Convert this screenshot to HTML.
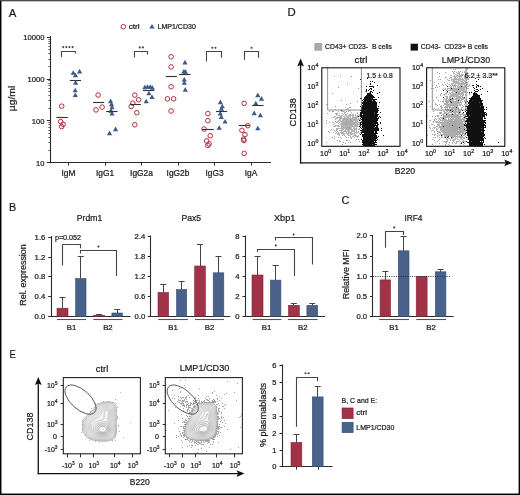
<!DOCTYPE html>
<html><head><meta charset="utf-8"><style>
html,body{margin:0;padding:0;background:#fff;}
svg{display:block;will-change:transform;}
text{font-family:"Liberation Sans", sans-serif;stroke:#1a1a1a;stroke-width:0.22px;}
</style></head><body>
<svg width="520" height="495" viewBox="0 0 520 495">
<rect x="0" y="0" width="520" height="495" fill="#fff"/>
<text x="8.80" y="16.60" font-size="11.6" text-anchor="start" fill="#1a1a1a" textLength="7.6" lengthAdjust="spacingAndGlyphs" >A</text>
<circle cx="123.3" cy="26.7" r="2.3" fill="none" stroke="#b03040" stroke-width="1"/>
<text x="128.70" y="29.30" font-size="7.5" text-anchor="start" fill="#1a1a1a" textLength="11" lengthAdjust="spacingAndGlyphs" >ctrl</text>
<path d="M152.00,23.89 L154.60,28.57 L149.40,28.57Z" fill="#3d5a88"/>
<text x="157.50" y="29.30" font-size="7.5" text-anchor="start" fill="#1a1a1a" textLength="38.3" lengthAdjust="spacingAndGlyphs" >LMP1/CD30</text>
<line x1="50.50" y1="36.00" x2="50.50" y2="163.30" stroke="#2a2a2a" stroke-width="1.1" />
<line x1="46.80" y1="162.50" x2="50.00" y2="162.50" stroke="#2a2a2a" stroke-width="1" />
<text x="44.40" y="165.55" font-size="7.6" text-anchor="end" fill="#1a1a1a" >10</text>
<line x1="46.80" y1="120.50" x2="50.00" y2="120.50" stroke="#2a2a2a" stroke-width="1" />
<text x="44.40" y="123.65" font-size="7.6" text-anchor="end" fill="#1a1a1a" >100</text>
<line x1="46.80" y1="79.50" x2="50.00" y2="79.50" stroke="#2a2a2a" stroke-width="1" />
<text x="44.40" y="81.75" font-size="7.6" text-anchor="end" fill="#1a1a1a" >1000</text>
<line x1="46.80" y1="37.50" x2="50.00" y2="37.50" stroke="#2a2a2a" stroke-width="1" />
<text x="44.40" y="39.85" font-size="7.6" text-anchor="end" fill="#1a1a1a" >10000</text>
<line x1="48.30" y1="150.50" x2="50.00" y2="150.50" stroke="#2a2a2a" stroke-width="0.7" />
<line x1="48.30" y1="142.50" x2="50.00" y2="142.50" stroke="#2a2a2a" stroke-width="0.7" />
<line x1="48.30" y1="137.50" x2="50.00" y2="137.50" stroke="#2a2a2a" stroke-width="0.7" />
<line x1="48.30" y1="133.50" x2="50.00" y2="133.50" stroke="#2a2a2a" stroke-width="0.7" />
<line x1="48.30" y1="130.50" x2="50.00" y2="130.50" stroke="#2a2a2a" stroke-width="0.7" />
<line x1="48.30" y1="127.50" x2="50.00" y2="127.50" stroke="#2a2a2a" stroke-width="0.7" />
<line x1="48.30" y1="124.50" x2="50.00" y2="124.50" stroke="#2a2a2a" stroke-width="0.7" />
<line x1="48.30" y1="122.50" x2="50.00" y2="122.50" stroke="#2a2a2a" stroke-width="0.7" />
<line x1="48.30" y1="108.50" x2="50.00" y2="108.50" stroke="#2a2a2a" stroke-width="0.7" />
<line x1="48.30" y1="100.50" x2="50.00" y2="100.50" stroke="#2a2a2a" stroke-width="0.7" />
<line x1="48.30" y1="95.50" x2="50.00" y2="95.50" stroke="#2a2a2a" stroke-width="0.7" />
<line x1="48.30" y1="91.50" x2="50.00" y2="91.50" stroke="#2a2a2a" stroke-width="0.7" />
<line x1="48.30" y1="88.50" x2="50.00" y2="88.50" stroke="#2a2a2a" stroke-width="0.7" />
<line x1="48.30" y1="85.50" x2="50.00" y2="85.50" stroke="#2a2a2a" stroke-width="0.7" />
<line x1="48.30" y1="83.50" x2="50.00" y2="83.50" stroke="#2a2a2a" stroke-width="0.7" />
<line x1="48.30" y1="80.50" x2="50.00" y2="80.50" stroke="#2a2a2a" stroke-width="0.7" />
<line x1="48.30" y1="66.50" x2="50.00" y2="66.50" stroke="#2a2a2a" stroke-width="0.7" />
<line x1="48.30" y1="59.50" x2="50.00" y2="59.50" stroke="#2a2a2a" stroke-width="0.7" />
<line x1="48.30" y1="53.50" x2="50.00" y2="53.50" stroke="#2a2a2a" stroke-width="0.7" />
<line x1="48.30" y1="49.50" x2="50.00" y2="49.50" stroke="#2a2a2a" stroke-width="0.7" />
<line x1="48.30" y1="46.50" x2="50.00" y2="46.50" stroke="#2a2a2a" stroke-width="0.7" />
<line x1="48.30" y1="43.50" x2="50.00" y2="43.50" stroke="#2a2a2a" stroke-width="0.7" />
<line x1="48.30" y1="41.50" x2="50.00" y2="41.50" stroke="#2a2a2a" stroke-width="0.7" />
<line x1="48.30" y1="39.50" x2="50.00" y2="39.50" stroke="#2a2a2a" stroke-width="0.7" />
<text x="0" y="0" font-size="8.8" text-anchor="middle" fill="#1a1a1a" textLength="25.4" lengthAdjust="spacingAndGlyphs" transform="translate(15.30,98.50) rotate(-90)">&#181;g/ml</text>
<line x1="49.50" y1="162.50" x2="271.00" y2="162.50" stroke="#2a2a2a" stroke-width="1.1" />
<line x1="68.50" y1="162.80" x2="68.50" y2="165.60" stroke="#2a2a2a" stroke-width="1" />
<text x="68.50" y="176.20" font-size="8.4" text-anchor="middle" fill="#1a1a1a" >IgM</text>
<line x1="105.50" y1="162.80" x2="105.50" y2="165.60" stroke="#2a2a2a" stroke-width="1" />
<text x="105.00" y="176.20" font-size="8.4" text-anchor="middle" fill="#1a1a1a" >IgG1</text>
<line x1="141.50" y1="162.80" x2="141.50" y2="165.60" stroke="#2a2a2a" stroke-width="1" />
<text x="141.50" y="176.20" font-size="8.4" text-anchor="middle" fill="#1a1a1a" >IgG2a</text>
<line x1="178.50" y1="162.80" x2="178.50" y2="165.60" stroke="#2a2a2a" stroke-width="1" />
<text x="178.00" y="176.20" font-size="8.4" text-anchor="middle" fill="#1a1a1a" >IgG2b</text>
<line x1="214.50" y1="162.80" x2="214.50" y2="165.60" stroke="#2a2a2a" stroke-width="1" />
<text x="214.50" y="176.20" font-size="8.4" text-anchor="middle" fill="#1a1a1a" >IgG3</text>
<line x1="251.50" y1="162.80" x2="251.50" y2="165.60" stroke="#2a2a2a" stroke-width="1" />
<text x="251.00" y="176.20" font-size="8.4" text-anchor="middle" fill="#1a1a1a" >IgA</text>
<circle cx="61.7" cy="106.2" r="2.3" fill="none" stroke="#b03040" stroke-width="1"/>
<circle cx="60.7" cy="121.6" r="2.3" fill="none" stroke="#b03040" stroke-width="1"/>
<circle cx="63.1" cy="124.3" r="2.3" fill="none" stroke="#b03040" stroke-width="1"/>
<circle cx="61.7" cy="126.6" r="2.3" fill="none" stroke="#b03040" stroke-width="1"/>
<circle cx="98.1" cy="95" r="2.3" fill="none" stroke="#b03040" stroke-width="1"/>
<circle cx="96" cy="109.9" r="2.3" fill="none" stroke="#b03040" stroke-width="1"/>
<circle cx="102.1" cy="107.1" r="2.3" fill="none" stroke="#b03040" stroke-width="1"/>
<circle cx="134.8" cy="95.1" r="2.3" fill="none" stroke="#b03040" stroke-width="1"/>
<circle cx="138.6" cy="99.8" r="2.3" fill="none" stroke="#b03040" stroke-width="1"/>
<circle cx="132.8" cy="103.1" r="2.3" fill="none" stroke="#b03040" stroke-width="1"/>
<circle cx="131.2" cy="106.5" r="2.3" fill="none" stroke="#b03040" stroke-width="1"/>
<circle cx="136.8" cy="112.7" r="2.3" fill="none" stroke="#b03040" stroke-width="1"/>
<circle cx="134.8" cy="124.8" r="2.3" fill="none" stroke="#b03040" stroke-width="1"/>
<circle cx="171.1" cy="56.8" r="2.3" fill="none" stroke="#b03040" stroke-width="1"/>
<circle cx="171.1" cy="66.9" r="2.3" fill="none" stroke="#b03040" stroke-width="1"/>
<circle cx="171.1" cy="86.8" r="2.3" fill="none" stroke="#b03040" stroke-width="1"/>
<circle cx="167.4" cy="98.8" r="2.3" fill="none" stroke="#b03040" stroke-width="1"/>
<circle cx="173.6" cy="98.8" r="2.3" fill="none" stroke="#b03040" stroke-width="1"/>
<circle cx="171.1" cy="111" r="2.3" fill="none" stroke="#b03040" stroke-width="1"/>
<circle cx="207.9" cy="113.6" r="2.3" fill="none" stroke="#b03040" stroke-width="1"/>
<circle cx="207.9" cy="120.7" r="2.3" fill="none" stroke="#b03040" stroke-width="1"/>
<circle cx="204.1" cy="129" r="2.3" fill="none" stroke="#b03040" stroke-width="1"/>
<circle cx="210.2" cy="135.8" r="2.3" fill="none" stroke="#b03040" stroke-width="1"/>
<circle cx="206.6" cy="140.9" r="2.3" fill="none" stroke="#b03040" stroke-width="1"/>
<circle cx="209.1" cy="143.9" r="2.3" fill="none" stroke="#b03040" stroke-width="1"/>
<circle cx="207.9" cy="145.4" r="2.3" fill="none" stroke="#b03040" stroke-width="1"/>
<circle cx="244.2" cy="103.4" r="2.3" fill="none" stroke="#b03040" stroke-width="1"/>
<circle cx="247.8" cy="125.7" r="2.3" fill="none" stroke="#b03040" stroke-width="1"/>
<circle cx="241.9" cy="130.3" r="2.3" fill="none" stroke="#b03040" stroke-width="1"/>
<circle cx="245" cy="134.6" r="2.3" fill="none" stroke="#b03040" stroke-width="1"/>
<circle cx="243.5" cy="139.2" r="2.3" fill="none" stroke="#b03040" stroke-width="1"/>
<circle cx="244" cy="140.5" r="2.3" fill="none" stroke="#b03040" stroke-width="1"/>
<circle cx="244.2" cy="153.4" r="2.3" fill="none" stroke="#b03040" stroke-width="1"/>
<path d="M73.20,70.19 L75.80,74.87 L70.60,74.87Z" fill="#3d5a88"/>
<path d="M79.60,68.79 L82.20,73.47 L77.00,73.47Z" fill="#3d5a88"/>
<path d="M75.50,72.69 L78.10,77.37 L72.90,77.37Z" fill="#3d5a88"/>
<path d="M75.60,79.99 L78.20,84.67 L73.00,84.67Z" fill="#3d5a88"/>
<path d="M75.20,87.69 L77.80,92.37 L72.60,92.37Z" fill="#3d5a88"/>
<path d="M75.30,92.39 L77.90,97.07 L72.70,97.07Z" fill="#3d5a88"/>
<path d="M110.60,98.59 L113.20,103.27 L108.00,103.27Z" fill="#3d5a88"/>
<path d="M111.50,101.69 L114.10,106.37 L108.90,106.37Z" fill="#3d5a88"/>
<path d="M112.00,104.69 L114.60,109.37 L109.40,109.37Z" fill="#3d5a88"/>
<path d="M111.00,108.09 L113.60,112.77 L108.40,112.77Z" fill="#3d5a88"/>
<path d="M112.00,110.79 L114.60,115.47 L109.40,115.47Z" fill="#3d5a88"/>
<path d="M115.60,126.49 L118.20,131.17 L113.00,131.17Z" fill="#3d5a88"/>
<path d="M109.50,130.49 L112.10,135.17 L106.90,135.17Z" fill="#3d5a88"/>
<path d="M144.90,84.59 L147.50,89.27 L142.30,89.27Z" fill="#3d5a88"/>
<path d="M147.60,84.19 L150.20,88.87 L145.00,88.87Z" fill="#3d5a88"/>
<path d="M150.30,84.19 L152.90,88.87 L147.70,88.87Z" fill="#3d5a88"/>
<path d="M152.30,84.99 L154.90,89.67 L149.70,89.67Z" fill="#3d5a88"/>
<path d="M148.90,90.69 L151.50,95.37 L146.30,95.37Z" fill="#3d5a88"/>
<path d="M152.00,94.39 L154.60,99.07 L149.40,99.07Z" fill="#3d5a88"/>
<path d="M146.20,98.69 L148.80,103.37 L143.60,103.37Z" fill="#3d5a88"/>
<path d="M185.00,59.79 L187.60,64.47 L182.40,64.47Z" fill="#3d5a88"/>
<path d="M183.90,68.79 L186.50,73.47 L181.30,73.47Z" fill="#3d5a88"/>
<path d="M185.50,69.19 L188.10,73.87 L182.90,73.87Z" fill="#3d5a88"/>
<path d="M184.30,76.89 L186.90,81.57 L181.70,81.57Z" fill="#3d5a88"/>
<path d="M184.30,80.19 L186.90,84.87 L181.70,84.87Z" fill="#3d5a88"/>
<path d="M185.30,86.99 L187.90,91.67 L182.70,91.67Z" fill="#3d5a88"/>
<path d="M220.40,99.49 L223.00,104.17 L217.80,104.17Z" fill="#3d5a88"/>
<path d="M222.30,103.69 L224.90,108.37 L219.70,108.37Z" fill="#3d5a88"/>
<path d="M221.50,106.19 L224.10,110.87 L218.90,110.87Z" fill="#3d5a88"/>
<path d="M220.30,110.79 L222.90,115.47 L217.70,115.47Z" fill="#3d5a88"/>
<path d="M221.30,114.29 L223.90,118.97 L218.70,118.97Z" fill="#3d5a88"/>
<path d="M225.10,118.89 L227.70,123.57 L222.50,123.57Z" fill="#3d5a88"/>
<path d="M219.20,125.19 L221.80,129.87 L216.60,129.87Z" fill="#3d5a88"/>
<path d="M257.80,92.59 L260.40,97.27 L255.20,97.27Z" fill="#3d5a88"/>
<path d="M261.50,96.09 L264.10,100.77 L258.90,100.77Z" fill="#3d5a88"/>
<path d="M255.80,100.69 L258.40,105.37 L253.20,105.37Z" fill="#3d5a88"/>
<path d="M254.20,110.59 L256.80,115.27 L251.60,115.27Z" fill="#3d5a88"/>
<path d="M260.40,112.59 L263.00,117.27 L257.80,117.27Z" fill="#3d5a88"/>
<path d="M257.80,125.69 L260.40,130.37 L255.20,130.37Z" fill="#3d5a88"/>
<line x1="56.30" y1="117.50" x2="67.80" y2="117.50" stroke="#333" stroke-width="1.1" />
<line x1="93.00" y1="102.50" x2="104.10" y2="102.50" stroke="#333" stroke-width="1.1" />
<line x1="130.10" y1="104.50" x2="140.90" y2="104.50" stroke="#333" stroke-width="1.1" />
<line x1="165.80" y1="76.50" x2="176.90" y2="76.50" stroke="#333" stroke-width="1.1" />
<line x1="202.10" y1="129.50" x2="213.70" y2="129.50" stroke="#333" stroke-width="1.1" />
<line x1="238.80" y1="125.50" x2="249.60" y2="125.50" stroke="#333" stroke-width="1.1" />
<line x1="69.80" y1="80.50" x2="81.00" y2="80.50" stroke="#333" stroke-width="1.1" />
<line x1="106.10" y1="111.50" x2="117.60" y2="111.50" stroke="#333" stroke-width="1.1" />
<line x1="142.90" y1="90.50" x2="154.30" y2="90.50" stroke="#333" stroke-width="1.1" />
<line x1="179.20" y1="74.50" x2="190.50" y2="74.50" stroke="#333" stroke-width="1.1" />
<line x1="216.00" y1="111.50" x2="227.10" y2="111.50" stroke="#333" stroke-width="1.1" />
<line x1="252.20" y1="105.50" x2="263.50" y2="105.50" stroke="#333" stroke-width="1.1" />
<path d="M61.5,56.9 V51.5 H75.5 V53.6" stroke="#444" stroke-width="1.1" fill="none" />
<circle cx="63.18" cy="47.1" r="1.05" fill="#444"/>
<circle cx="66.33" cy="47.1" r="1.05" fill="#444"/>
<circle cx="69.48" cy="47.1" r="1.05" fill="#444"/>
<circle cx="72.62" cy="47.1" r="1.05" fill="#444"/>
<path d="M134.5,57.5 V51.5 H147.5 V54.5" stroke="#444" stroke-width="1.1" fill="none" />
<circle cx="139.73" cy="47.4" r="1.05" fill="#444"/>
<circle cx="142.88" cy="47.4" r="1.05" fill="#444"/>
<path d="M206.5,61.5 V51.5 H221.5 V57.7" stroke="#444" stroke-width="1.1" fill="none" />
<circle cx="212.33" cy="47.7" r="1.05" fill="#444"/>
<circle cx="215.48" cy="47.7" r="1.05" fill="#444"/>
<path d="M244.5,59.7 V51.5 H258.5 V57.7" stroke="#444" stroke-width="1.1" fill="none" />
<circle cx="251.60" cy="47.7" r="1.05" fill="#444"/>
<text x="9.00" y="211.20" font-size="11.6" text-anchor="start" fill="#1a1a1a" textLength="7.2" lengthAdjust="spacingAndGlyphs" >B</text>
<text x="89.50" y="220.50" font-size="8.6" text-anchor="middle" fill="#1a1a1a" >Prdm1</text>
<line x1="51.50" y1="236.10" x2="51.50" y2="316.80" stroke="#2a2a2a" stroke-width="1.1" />
<line x1="48.20" y1="316.50" x2="51.20" y2="316.50" stroke="#2a2a2a" stroke-width="1" />
<text x="45.30" y="318.90" font-size="7.7" text-anchor="end" fill="#1a1a1a" >0.0</text>
<line x1="48.20" y1="296.50" x2="51.20" y2="296.50" stroke="#2a2a2a" stroke-width="1" />
<text x="45.30" y="299.10" font-size="7.7" text-anchor="end" fill="#1a1a1a" >0.4</text>
<line x1="48.20" y1="276.50" x2="51.20" y2="276.50" stroke="#2a2a2a" stroke-width="1" />
<text x="45.30" y="279.40" font-size="7.7" text-anchor="end" fill="#1a1a1a" >0.8</text>
<line x1="48.20" y1="257.50" x2="51.20" y2="257.50" stroke="#2a2a2a" stroke-width="1" />
<text x="45.30" y="259.60" font-size="7.7" text-anchor="end" fill="#1a1a1a" >1.2</text>
<line x1="48.20" y1="237.50" x2="51.20" y2="237.50" stroke="#2a2a2a" stroke-width="1" />
<text x="45.30" y="239.80" font-size="7.7" text-anchor="end" fill="#1a1a1a" >1.6</text>
<line x1="50.70" y1="316.50" x2="130.50" y2="316.50" stroke="#2a2a2a" stroke-width="1.2" />
<rect x="57.00" y="308.20" width="11.00" height="8.10" fill="#a03348" stroke="#8a1f36" stroke-width="0.6"/>
<line x1="62.50" y1="308.20" x2="62.50" y2="297.50" stroke="#444" stroke-width="1" />
<line x1="59.50" y1="297.50" x2="65.50" y2="297.50" stroke="#444" stroke-width="1" />
<rect x="75.60" y="278.50" width="10.40" height="37.80" fill="#4a6289" stroke="#334d78" stroke-width="0.6"/>
<line x1="80.50" y1="278.50" x2="80.50" y2="256.80" stroke="#444" stroke-width="1" />
<line x1="77.80" y1="256.50" x2="83.80" y2="256.50" stroke="#444" stroke-width="1" />
<rect x="93.60" y="315.30" width="11.00" height="1.00" fill="#a03348" stroke="#8a1f36" stroke-width="0.6"/>
<line x1="99.50" y1="315.30" x2="99.50" y2="314.30" stroke="#444" stroke-width="1" />
<line x1="96.10" y1="314.50" x2="102.10" y2="314.50" stroke="#444" stroke-width="1" />
<rect x="111.90" y="313.00" width="10.70" height="3.30" fill="#4a6289" stroke="#334d78" stroke-width="0.6"/>
<line x1="117.50" y1="313.00" x2="117.50" y2="309.60" stroke="#444" stroke-width="1" />
<line x1="114.30" y1="309.50" x2="120.30" y2="309.50" stroke="#444" stroke-width="1" />
<line x1="57.00" y1="319.50" x2="86.20" y2="319.50" stroke="#555" stroke-width="1.1" />
<line x1="93.40" y1="319.50" x2="122.50" y2="319.50" stroke="#555" stroke-width="1.1" />
<text x="71.60" y="329.60" font-size="7.8" text-anchor="middle" fill="#1a1a1a" >B1</text>
<text x="107.90" y="329.60" font-size="7.8" text-anchor="middle" fill="#1a1a1a" >B2</text>
<text x="0" y="0" font-size="8.4" text-anchor="middle" fill="#1a1a1a" textLength="61.6" lengthAdjust="spacingAndGlyphs" transform="translate(26.10,275.00) rotate(-90)">Rel. expression</text>
<path d="M62.5,265.4 V244.5 H80.5 V248.2" stroke="#444" stroke-width="1.1" fill="none" />
<text x="54.90" y="239.70" font-size="7.4" text-anchor="start" fill="#1a1a1a" textLength="26.2" lengthAdjust="spacingAndGlyphs" >p=0.052</text>
<path d="M80.5,253.6 V250.5 H116.5 V276" stroke="#444" stroke-width="1.1" fill="none" />
<circle cx="98.50" cy="246.6" r="1.05" fill="#444"/>
<text x="191.30" y="221.20" font-size="8.6" text-anchor="middle" fill="#1a1a1a" >Pax5</text>
<line x1="150.50" y1="235.50" x2="150.50" y2="316.80" stroke="#2a2a2a" stroke-width="1.1" />
<line x1="147.70" y1="316.50" x2="150.70" y2="316.50" stroke="#2a2a2a" stroke-width="1" />
<text x="145.30" y="318.60" font-size="7.7" text-anchor="end" fill="#1a1a1a" >0.0</text>
<line x1="147.70" y1="296.50" x2="150.70" y2="296.50" stroke="#2a2a2a" stroke-width="1" />
<text x="145.30" y="298.70" font-size="7.7" text-anchor="end" fill="#1a1a1a" >0.6</text>
<line x1="147.70" y1="276.50" x2="150.70" y2="276.50" stroke="#2a2a2a" stroke-width="1" />
<text x="145.30" y="278.80" font-size="7.7" text-anchor="end" fill="#1a1a1a" >1.2</text>
<line x1="147.70" y1="256.50" x2="150.70" y2="256.50" stroke="#2a2a2a" stroke-width="1" />
<text x="145.30" y="258.90" font-size="7.7" text-anchor="end" fill="#1a1a1a" >1.8</text>
<line x1="147.70" y1="236.50" x2="150.70" y2="236.50" stroke="#2a2a2a" stroke-width="1" />
<text x="145.30" y="238.90" font-size="7.7" text-anchor="end" fill="#1a1a1a" >2.4</text>
<line x1="150.70" y1="316.50" x2="230.20" y2="316.50" stroke="#2a2a2a" stroke-width="1.2" />
<rect x="158.00" y="292.50" width="10.60" height="23.80" fill="#a03348" stroke="#8a1f36" stroke-width="0.6"/>
<line x1="163.50" y1="292.50" x2="163.50" y2="284.50" stroke="#444" stroke-width="1" />
<line x1="160.30" y1="284.50" x2="166.30" y2="284.50" stroke="#444" stroke-width="1" />
<rect x="176.50" y="289.50" width="10.20" height="26.80" fill="#4a6289" stroke="#334d78" stroke-width="0.6"/>
<line x1="181.50" y1="289.50" x2="181.50" y2="281.60" stroke="#444" stroke-width="1" />
<line x1="178.60" y1="281.50" x2="184.60" y2="281.50" stroke="#444" stroke-width="1" />
<rect x="194.70" y="266.00" width="10.60" height="50.30" fill="#a03348" stroke="#8a1f36" stroke-width="0.6"/>
<line x1="200.50" y1="266.00" x2="200.50" y2="244.10" stroke="#444" stroke-width="1" />
<line x1="197.00" y1="244.50" x2="203.00" y2="244.50" stroke="#444" stroke-width="1" />
<rect x="213.20" y="272.80" width="10.60" height="43.50" fill="#4a6289" stroke="#334d78" stroke-width="0.6"/>
<line x1="218.50" y1="272.80" x2="218.50" y2="256.70" stroke="#444" stroke-width="1" />
<line x1="215.50" y1="256.50" x2="221.50" y2="256.50" stroke="#444" stroke-width="1" />
<line x1="158.30" y1="319.50" x2="188.00" y2="319.50" stroke="#555" stroke-width="1.1" />
<line x1="195.00" y1="319.50" x2="224.00" y2="319.50" stroke="#555" stroke-width="1.1" />
<text x="173.00" y="329.60" font-size="7.8" text-anchor="middle" fill="#1a1a1a" >B1</text>
<text x="209.50" y="329.60" font-size="7.8" text-anchor="middle" fill="#1a1a1a" >B2</text>
<text x="284.70" y="220.80" font-size="8.8" text-anchor="middle" fill="#1a1a1a" textLength="21.4" lengthAdjust="spacingAndGlyphs" >Xbp1</text>
<line x1="245.50" y1="235.50" x2="245.50" y2="316.80" stroke="#2a2a2a" stroke-width="1.1" />
<line x1="242.50" y1="316.50" x2="245.50" y2="316.50" stroke="#2a2a2a" stroke-width="1" />
<text x="239.60" y="318.60" font-size="7.7" text-anchor="end" fill="#1a1a1a" >0</text>
<line x1="242.50" y1="296.50" x2="245.50" y2="296.50" stroke="#2a2a2a" stroke-width="1" />
<text x="239.60" y="298.70" font-size="7.7" text-anchor="end" fill="#1a1a1a" >2</text>
<line x1="242.50" y1="276.50" x2="245.50" y2="276.50" stroke="#2a2a2a" stroke-width="1" />
<text x="239.60" y="278.80" font-size="7.7" text-anchor="end" fill="#1a1a1a" >4</text>
<line x1="242.50" y1="256.50" x2="245.50" y2="256.50" stroke="#2a2a2a" stroke-width="1" />
<text x="239.60" y="258.90" font-size="7.7" text-anchor="end" fill="#1a1a1a" >6</text>
<line x1="242.50" y1="236.50" x2="245.50" y2="236.50" stroke="#2a2a2a" stroke-width="1" />
<text x="239.60" y="238.90" font-size="7.7" text-anchor="end" fill="#1a1a1a" >8</text>
<line x1="245.00" y1="316.50" x2="325.00" y2="316.50" stroke="#2a2a2a" stroke-width="1.2" />
<rect x="252.00" y="275.00" width="11.00" height="41.30" fill="#a03348" stroke="#8a1f36" stroke-width="0.6"/>
<line x1="257.50" y1="275.00" x2="257.50" y2="256.60" stroke="#444" stroke-width="1" />
<line x1="254.50" y1="256.50" x2="260.50" y2="256.50" stroke="#444" stroke-width="1" />
<rect x="270.40" y="280.10" width="10.50" height="36.20" fill="#4a6289" stroke="#334d78" stroke-width="0.6"/>
<line x1="275.50" y1="280.10" x2="275.50" y2="265.10" stroke="#444" stroke-width="1" />
<line x1="272.60" y1="265.50" x2="278.60" y2="265.50" stroke="#444" stroke-width="1" />
<rect x="288.50" y="305.30" width="10.80" height="11.00" fill="#a03348" stroke="#8a1f36" stroke-width="0.6"/>
<line x1="293.50" y1="305.30" x2="293.50" y2="303.90" stroke="#444" stroke-width="1" />
<line x1="290.90" y1="303.50" x2="296.90" y2="303.50" stroke="#444" stroke-width="1" />
<rect x="306.90" y="305.30" width="10.70" height="11.00" fill="#4a6289" stroke="#334d78" stroke-width="0.6"/>
<line x1="312.50" y1="305.30" x2="312.50" y2="303.90" stroke="#444" stroke-width="1" />
<line x1="309.20" y1="303.50" x2="315.20" y2="303.50" stroke="#444" stroke-width="1" />
<line x1="252.50" y1="319.50" x2="281.40" y2="319.50" stroke="#555" stroke-width="1.1" />
<line x1="288.00" y1="319.50" x2="317.60" y2="319.50" stroke="#555" stroke-width="1.1" />
<text x="266.50" y="329.60" font-size="7.8" text-anchor="middle" fill="#1a1a1a" >B1</text>
<text x="302.80" y="329.60" font-size="7.8" text-anchor="middle" fill="#1a1a1a" >B2</text>
<path d="M257.5,251.8 V249.5 H294.5 V275.9" stroke="#444" stroke-width="1.1" fill="none" />
<circle cx="275.80" cy="245.4" r="1.05" fill="#444"/>
<path d="M275.5,240.5 V237.5 H312.5 V264.5" stroke="#444" stroke-width="1.1" fill="none" />
<circle cx="293.60" cy="234.6" r="1.05" fill="#444"/>
<text x="341.60" y="204.20" font-size="11.6" text-anchor="start" fill="#1a1a1a" textLength="7.8" lengthAdjust="spacingAndGlyphs" >C</text>
<text x="413.40" y="220.80" font-size="8.8" text-anchor="middle" fill="#1a1a1a" textLength="17.9" lengthAdjust="spacingAndGlyphs" >IRF4</text>
<line x1="372.50" y1="235.00" x2="372.50" y2="317.10" stroke="#2a2a2a" stroke-width="1.1" />
<line x1="369.90" y1="316.50" x2="372.90" y2="316.50" stroke="#2a2a2a" stroke-width="1" />
<text x="367.10" y="319.20" font-size="7.7" text-anchor="end" fill="#1a1a1a" >0.0</text>
<line x1="369.90" y1="296.50" x2="372.90" y2="296.50" stroke="#2a2a2a" stroke-width="1" />
<text x="367.10" y="299.00" font-size="7.7" text-anchor="end" fill="#1a1a1a" >0.5</text>
<line x1="369.90" y1="276.50" x2="372.90" y2="276.50" stroke="#2a2a2a" stroke-width="1" />
<text x="367.10" y="278.80" font-size="7.7" text-anchor="end" fill="#1a1a1a" >1.0</text>
<line x1="369.90" y1="256.50" x2="372.90" y2="256.50" stroke="#2a2a2a" stroke-width="1" />
<text x="367.10" y="258.60" font-size="7.7" text-anchor="end" fill="#1a1a1a" >1.5</text>
<line x1="369.90" y1="235.50" x2="372.90" y2="235.50" stroke="#2a2a2a" stroke-width="1" />
<text x="367.10" y="238.40" font-size="7.7" text-anchor="end" fill="#1a1a1a" >2.0</text>
<line x1="372.40" y1="316.50" x2="453.60" y2="316.50" stroke="#2a2a2a" stroke-width="1.2" />
<rect x="380.10" y="279.90" width="10.40" height="36.70" fill="#a03348" stroke="#8a1f36" stroke-width="0.6"/>
<line x1="385.50" y1="279.90" x2="385.50" y2="271.80" stroke="#444" stroke-width="1" />
<line x1="382.30" y1="271.50" x2="388.30" y2="271.50" stroke="#444" stroke-width="1" />
<rect x="398.30" y="250.80" width="10.70" height="65.80" fill="#4a6289" stroke="#334d78" stroke-width="0.6"/>
<line x1="403.50" y1="250.80" x2="403.50" y2="236.70" stroke="#444" stroke-width="1" />
<line x1="400.60" y1="236.50" x2="406.60" y2="236.50" stroke="#444" stroke-width="1" />
<rect x="416.20" y="276.30" width="10.90" height="40.30" fill="#a03348" stroke="#8a1f36" stroke-width="0.6"/>
<rect x="435.30" y="271.80" width="10.60" height="44.80" fill="#4a6289" stroke="#334d78" stroke-width="0.6"/>
<line x1="440.50" y1="271.80" x2="440.50" y2="269.00" stroke="#444" stroke-width="1" />
<line x1="437.60" y1="269.50" x2="443.60" y2="269.50" stroke="#444" stroke-width="1" />
<line x1="373.00" y1="276.50" x2="451.00" y2="276.50" stroke="#222" stroke-width="0.9" stroke-dasharray="1,1.3"/>
<line x1="379.20" y1="319.50" x2="409.00" y2="319.50" stroke="#555" stroke-width="1.1" />
<line x1="416.20" y1="319.50" x2="446.00" y2="319.50" stroke="#555" stroke-width="1.1" />
<text x="394.10" y="329.60" font-size="7.8" text-anchor="middle" fill="#1a1a1a" >B1</text>
<text x="431.10" y="329.60" font-size="7.8" text-anchor="middle" fill="#1a1a1a" >B2</text>
<text x="0" y="0" font-size="8.8" text-anchor="middle" fill="#1a1a1a" textLength="50" lengthAdjust="spacingAndGlyphs" transform="translate(349.00,274.30) rotate(-90)">Relative MFI</text>
<path d="M385.5,247.7 V231.5 H403.5 V235.1" stroke="#444" stroke-width="1.1" fill="none" />
<circle cx="394.20" cy="227.4" r="1.05" fill="#444"/>
<line x1="282.50" y1="364.30" x2="282.50" y2="467.20" stroke="#2a2a2a" stroke-width="1.1" />
<line x1="279.50" y1="466.50" x2="282.50" y2="466.50" stroke="#2a2a2a" stroke-width="1" />
<text x="276.30" y="469.30" font-size="7.5" text-anchor="end" fill="#1a1a1a" >0</text>
<line x1="279.50" y1="450.50" x2="282.50" y2="450.50" stroke="#2a2a2a" stroke-width="1" />
<text x="276.30" y="452.60" font-size="7.5" text-anchor="end" fill="#1a1a1a" >1</text>
<line x1="279.50" y1="433.50" x2="282.50" y2="433.50" stroke="#2a2a2a" stroke-width="1" />
<text x="276.30" y="435.80" font-size="7.5" text-anchor="end" fill="#1a1a1a" >2</text>
<line x1="279.50" y1="416.50" x2="282.50" y2="416.50" stroke="#2a2a2a" stroke-width="1" />
<text x="276.30" y="418.90" font-size="7.5" text-anchor="end" fill="#1a1a1a" >3</text>
<line x1="279.50" y1="399.50" x2="282.50" y2="399.50" stroke="#2a2a2a" stroke-width="1" />
<text x="276.30" y="402.00" font-size="7.5" text-anchor="end" fill="#1a1a1a" >4</text>
<line x1="279.50" y1="382.50" x2="282.50" y2="382.50" stroke="#2a2a2a" stroke-width="1" />
<text x="276.30" y="385.00" font-size="7.5" text-anchor="end" fill="#1a1a1a" >5</text>
<line x1="279.50" y1="365.50" x2="282.50" y2="365.50" stroke="#2a2a2a" stroke-width="1" />
<text x="276.30" y="368.10" font-size="7.5" text-anchor="end" fill="#1a1a1a" >6</text>
<line x1="282.00" y1="466.50" x2="332.60" y2="466.50" stroke="#2a2a2a" stroke-width="1.2" />
<line x1="296.50" y1="466.70" x2="296.50" y2="469.60" stroke="#2a2a2a" stroke-width="1" />
<line x1="318.50" y1="466.70" x2="318.50" y2="469.60" stroke="#2a2a2a" stroke-width="1" />
<rect x="291.00" y="442.40" width="10.80" height="24.30" fill="#a03348" stroke="#8a1f36" stroke-width="0.6"/>
<line x1="296.50" y1="442.40" x2="296.50" y2="434.20" stroke="#444" stroke-width="1" />
<line x1="293.40" y1="434.50" x2="299.40" y2="434.50" stroke="#444" stroke-width="1" />
<rect x="312.30" y="396.90" width="10.80" height="69.80" fill="#4a6289" stroke="#334d78" stroke-width="0.6"/>
<line x1="317.50" y1="396.90" x2="317.50" y2="386.80" stroke="#444" stroke-width="1" />
<line x1="314.70" y1="386.50" x2="320.70" y2="386.50" stroke="#444" stroke-width="1" />
<path d="M296.5,426.8 V377.5 H317.5 V381.2" stroke="#444" stroke-width="1.1" fill="none" />
<circle cx="305.53" cy="373.3" r="1.05" fill="#444"/>
<circle cx="308.68" cy="373.3" r="1.05" fill="#444"/>
<text x="0" y="0" font-size="9" text-anchor="middle" fill="#1a1a1a" textLength="64.2" lengthAdjust="spacingAndGlyphs" transform="translate(266.10,415.00) rotate(-90)">% plasmablasts</text>
<text x="341.60" y="403.00" font-size="8" text-anchor="start" fill="#1a1a1a" textLength="35.5" lengthAdjust="spacingAndGlyphs" >B, C and E:</text>
<rect x="342.1" y="408" width="11" height="10.6" fill="#a03348" stroke="#8a1f36" stroke-width="0.7"/>
<rect x="342.1" y="422.3" width="11" height="10.3" fill="#4a6289" stroke="#334d78" stroke-width="0.7"/>
<text x="356.30" y="415.40" font-size="7.7" text-anchor="start" fill="#1a1a1a" textLength="10.6" lengthAdjust="spacingAndGlyphs" >ctrl</text>
<text x="356.30" y="429.80" font-size="7.9" text-anchor="start" fill="#1a1a1a" textLength="38.1" lengthAdjust="spacingAndGlyphs" >LMP1/CD30</text>
<text x="287.50" y="16.40" font-size="11.2" text-anchor="start" fill="#1a1a1a" textLength="8.2" lengthAdjust="spacingAndGlyphs" >D</text>
<rect x="314.3" y="43" width="7.8" height="7.7" fill="#aaa8ac"/>
<text x="325.10" y="49.40" font-size="7.4" text-anchor="start" fill="#1a1a1a" textLength="66.9" lengthAdjust="spacingAndGlyphs" >CD43+ CD23-&#160; B cells</text>
<rect x="410.6" y="43.7" width="7.3" height="6.9" fill="#111"/>
<text x="420.80" y="49.40" font-size="7.4" text-anchor="start" fill="#1a1a1a" textLength="67.2" lengthAdjust="spacingAndGlyphs" >CD43-&#160; CD23+ B cells</text>
<text x="361.00" y="62.60" font-size="9.8" text-anchor="middle" fill="#1a1a1a" textLength="12.9" lengthAdjust="spacingAndGlyphs" >ctrl</text>
<text x="441.70" y="62.80" font-size="9.8" text-anchor="start" fill="#1a1a1a" textLength="48.4" lengthAdjust="spacingAndGlyphs" >LMP1/CD30</text>
<line x1="300.60" y1="163.50" x2="300.60" y2="63.50" stroke="#111" stroke-width="1.3" />
<path d="M300.6,58.5 L304.0,66.5 L300.6,64.9 L297.20000000000005,66.5Z" fill="#111"/>
<line x1="299.95" y1="162.90" x2="507.30" y2="162.90" stroke="#111" stroke-width="1.3" />
<path d="M512.3,162.9 L504.29999999999995,159.6 L505.9,162.9 L504.29999999999995,166.20000000000002Z" fill="#111"/>
<text x="0" y="0" font-size="9.8" text-anchor="middle" fill="#1a1a1a" textLength="28.2" lengthAdjust="spacingAndGlyphs" transform="translate(295.50,112.30) rotate(-90)">CD138</text>
<text x="394.80" y="174.10" font-size="8.8" text-anchor="start" fill="#1a1a1a" textLength="20.2" lengthAdjust="spacingAndGlyphs" >B220</text>
<clipPath id="clip0"><rect x="321.8" y="67.8" width="78.19999999999999" height="78.50000000000001"/></clipPath>
<g clip-path="url(#clip0)">
<path d="M326,104h1v1h-1zM326,123h1v1h-1zM326,142h1v1h-1zM327,113h1v1h-1zM328,131h1v1h-1zM329,111h1v1h-1zM329,132h1v1h-1zM332,93h1v1h-1zM332,111h1v1h-1zM332,137h1v1h-1zM333,111h1v1h-1zM334,76h1v1h-1zM334,138h1v1h-1zM335,106h1v1h-1zM335,121h1v1h-1zM336,113h1v1h-1zM336,129h1v1h-1zM337,140h1v1h-1zM338,87h1v1h-1zM338,126h1v1h-1zM340,75h1v1h-1zM340,116h1v1h-1zM341,100h1v1h-1zM341,110h1v1h-1zM342,144h1v1h-1zM343,142h1v1h-1zM345,143h1v1h-1zM346,104h1v1h-1zM346,128h1v1h-1zM346,137h1v1h-1zM347,83h1v1h-1zM348,120h1v1h-1zM349,119h1v1h-1zM350,103h1v1h-1zM350,107h1v1h-1zM350,142h1v1h-1zM351,76h1v1h-1zM351,115h1v1h-1zM351,122h1v1h-1zM353,136h1v1h-1zM355,128h1v1h-1zM357,101h1v1h-1zM357,115h1v1h-1zM357,136h1v1h-1zM358,88h1v1h-1zM358,139h1v1h-1zM359,141h1v1h-1zM360,132h1v1h-1zM360,134h1v1h-1zM361,139h1v1h-1zM362,100h1v1h-1zM364,111h1v1h-1zM365,91h1v1h-1zM365,115h1v1h-1z" fill="#9a9a9a" fill-opacity="1"/>
<path d="M326,120h1v1h-1zM329,122h1v1h-1zM330,130h1v1h-1zM331,117h1v1h-1zM331,129h1v1h-1zM332,122h1v1h-1zM333,117h1v1h-1zM333,122h1v1h-1zM333,124h1v1h-1zM333,126h1v1h-1zM333,129h1v1h-1zM333,132h1v1h-1zM334,116h1v1h-1zM334,117h1v1h-1zM334,123h1v1h-1zM334,126h1v1h-1zM334,130h1v1h-1zM334,136h1v1h-1zM335,109h1v1h-1zM335,113h1v1h-1zM335,116h1v1h-1zM335,118h1v1h-1zM335,119h1v1h-1zM335,125h1v1h-1zM335,126h1v1h-1zM335,131h1v1h-1zM335,133h1v1h-1zM336,114h1v1h-1zM336,115h1v1h-1zM336,117h1v1h-1zM336,118h1v1h-1zM336,122h1v1h-1zM336,125h1v1h-1zM336,128h1v1h-1zM336,130h1v1h-1zM336,132h1v1h-1zM337,113h1v1h-1zM337,114h1v1h-1zM337,117h1v1h-1zM337,118h1v1h-1zM337,121h1v1h-1zM337,122h1v1h-1zM337,125h1v1h-1zM337,126h1v1h-1zM337,128h1v1h-1zM337,129h1v1h-1zM337,131h1v1h-1zM337,133h1v1h-1zM337,134h1v1h-1zM338,111h1v1h-1zM338,115h1v1h-1zM338,117h1v1h-1zM338,120h1v1h-1zM338,121h1v1h-1zM338,123h1v1h-1zM338,125h1v1h-1zM338,126h1v1h-1zM338,128h1v1h-1zM338,132h1v1h-1zM338,133h1v1h-1zM338,134h1v1h-1zM338,137h1v1h-1zM339,113h1v1h-1zM339,115h1v1h-1zM339,116h1v1h-1zM339,117h1v1h-1zM339,118h1v1h-1zM339,119h1v1h-1zM339,120h1v1h-1zM339,122h1v1h-1zM339,126h1v1h-1zM339,128h1v1h-1zM339,130h1v1h-1zM339,133h1v1h-1zM339,134h1v1h-1zM339,135h1v1h-1zM339,140h1v1h-1zM339,141h1v1h-1zM340,110h1v1h-1zM340,116h1v1h-1zM340,117h1v1h-1zM340,118h1v1h-1zM340,120h1v1h-1zM340,121h1v1h-1zM340,123h1v1h-1zM340,124h1v1h-1zM340,128h1v1h-1zM340,130h1v1h-1zM340,132h1v1h-1zM340,137h1v1h-1zM340,141h1v1h-1zM341,111h1v1h-1zM341,115h1v1h-1zM341,116h1v1h-1zM341,117h1v1h-1zM341,118h1v1h-1zM341,121h1v1h-1zM341,122h1v1h-1zM341,123h1v1h-1zM341,124h1v1h-1zM341,125h1v1h-1zM341,126h1v1h-1zM341,127h1v1h-1zM341,128h1v1h-1zM341,129h1v1h-1zM341,130h1v1h-1zM341,131h1v1h-1zM341,132h1v1h-1zM341,133h1v1h-1zM341,138h1v1h-1zM342,110h1v1h-1zM342,111h1v1h-1zM342,113h1v1h-1zM342,115h1v1h-1zM342,118h1v1h-1zM342,119h1v1h-1zM342,120h1v1h-1zM342,121h1v1h-1zM342,122h1v1h-1zM342,123h1v1h-1zM342,124h1v1h-1zM342,125h1v1h-1zM342,126h1v1h-1zM342,127h1v1h-1zM342,128h1v1h-1zM342,129h1v1h-1zM342,130h1v1h-1zM342,132h1v1h-1zM342,133h1v1h-1zM342,134h1v1h-1zM342,135h1v1h-1zM343,111h1v1h-1zM343,114h1v1h-1zM343,116h1v1h-1zM343,118h1v1h-1zM343,119h1v1h-1zM343,120h1v1h-1zM343,121h1v1h-1zM343,122h1v1h-1zM343,123h1v1h-1zM343,124h1v1h-1zM343,125h1v1h-1zM343,126h1v1h-1zM343,127h1v1h-1zM343,128h1v1h-1zM343,129h1v1h-1zM343,131h1v1h-1zM343,132h1v1h-1zM343,133h1v1h-1zM343,134h1v1h-1zM344,111h1v1h-1zM344,112h1v1h-1zM344,113h1v1h-1zM344,116h1v1h-1zM344,117h1v1h-1zM344,120h1v1h-1zM344,121h1v1h-1zM344,122h1v1h-1zM344,123h1v1h-1zM344,124h1v1h-1zM344,125h1v1h-1zM344,126h1v1h-1zM344,127h1v1h-1zM344,128h1v1h-1zM344,130h1v1h-1zM344,131h1v1h-1zM344,133h1v1h-1zM344,134h1v1h-1zM344,135h1v1h-1zM345,107h1v1h-1zM345,112h1v1h-1zM345,114h1v1h-1zM345,117h1v1h-1zM345,118h1v1h-1zM345,119h1v1h-1zM345,120h1v1h-1zM345,121h1v1h-1zM345,122h1v1h-1zM345,123h1v1h-1zM345,124h1v1h-1zM345,125h1v1h-1zM345,126h1v1h-1zM345,127h1v1h-1zM345,128h1v1h-1zM345,129h1v1h-1zM345,130h1v1h-1zM345,131h1v1h-1zM345,136h1v1h-1zM346,109h1v1h-1zM346,111h1v1h-1zM346,114h1v1h-1zM346,115h1v1h-1zM346,116h1v1h-1zM346,118h1v1h-1zM346,119h1v1h-1zM346,120h1v1h-1zM346,121h1v1h-1zM346,122h1v1h-1zM346,123h1v1h-1zM346,124h1v1h-1zM346,125h1v1h-1zM346,126h1v1h-1zM346,127h1v1h-1zM346,128h1v1h-1zM346,129h1v1h-1zM346,131h1v1h-1zM346,132h1v1h-1zM346,133h1v1h-1zM346,139h1v1h-1zM346,140h1v1h-1zM347,108h1v1h-1zM347,113h1v1h-1zM347,116h1v1h-1zM347,117h1v1h-1zM347,118h1v1h-1zM347,119h1v1h-1zM347,120h1v1h-1zM347,121h1v1h-1zM347,122h1v1h-1zM347,123h1v1h-1zM347,124h1v1h-1zM347,125h1v1h-1zM347,126h1v1h-1zM347,127h1v1h-1zM347,128h1v1h-1zM347,129h1v1h-1zM347,130h1v1h-1zM347,131h1v1h-1zM347,133h1v1h-1zM347,134h1v1h-1zM347,140h1v1h-1zM348,108h1v1h-1zM348,110h1v1h-1zM348,111h1v1h-1zM348,115h1v1h-1zM348,116h1v1h-1zM348,117h1v1h-1zM348,118h1v1h-1zM348,119h1v1h-1zM348,120h1v1h-1zM348,121h1v1h-1zM348,122h1v1h-1zM348,123h1v1h-1zM348,124h1v1h-1zM348,125h1v1h-1zM348,126h1v1h-1zM348,127h1v1h-1zM348,128h1v1h-1zM348,129h1v1h-1zM348,130h1v1h-1zM348,131h1v1h-1zM348,132h1v1h-1zM348,133h1v1h-1zM348,134h1v1h-1zM348,135h1v1h-1zM348,137h1v1h-1zM348,142h1v1h-1zM349,107h1v1h-1zM349,110h1v1h-1zM349,114h1v1h-1zM349,115h1v1h-1zM349,116h1v1h-1zM349,118h1v1h-1zM349,119h1v1h-1zM349,120h1v1h-1zM349,121h1v1h-1zM349,122h1v1h-1zM349,123h1v1h-1zM349,124h1v1h-1zM349,125h1v1h-1zM349,126h1v1h-1zM349,127h1v1h-1zM349,128h1v1h-1zM349,129h1v1h-1zM349,130h1v1h-1zM349,131h1v1h-1zM349,132h1v1h-1zM349,133h1v1h-1zM349,135h1v1h-1zM349,140h1v1h-1zM350,111h1v1h-1zM350,114h1v1h-1zM350,115h1v1h-1zM350,116h1v1h-1zM350,117h1v1h-1zM350,118h1v1h-1zM350,119h1v1h-1zM350,120h1v1h-1zM350,121h1v1h-1zM350,122h1v1h-1zM350,123h1v1h-1zM350,124h1v1h-1zM350,125h1v1h-1zM350,126h1v1h-1zM350,127h1v1h-1zM350,128h1v1h-1zM350,129h1v1h-1zM350,132h1v1h-1zM350,133h1v1h-1zM350,134h1v1h-1zM350,135h1v1h-1zM350,136h1v1h-1zM350,137h1v1h-1zM351,112h1v1h-1zM351,115h1v1h-1zM351,118h1v1h-1zM351,119h1v1h-1zM351,120h1v1h-1zM351,121h1v1h-1zM351,122h1v1h-1zM351,123h1v1h-1zM351,124h1v1h-1zM351,125h1v1h-1zM351,126h1v1h-1zM351,127h1v1h-1zM351,128h1v1h-1zM351,129h1v1h-1zM351,130h1v1h-1zM351,131h1v1h-1zM351,132h1v1h-1zM351,133h1v1h-1zM351,134h1v1h-1zM351,137h1v1h-1zM351,138h1v1h-1zM352,114h1v1h-1zM352,115h1v1h-1zM352,116h1v1h-1zM352,117h1v1h-1zM352,118h1v1h-1zM352,119h1v1h-1zM352,120h1v1h-1zM352,121h1v1h-1zM352,122h1v1h-1zM352,123h1v1h-1zM352,124h1v1h-1zM352,125h1v1h-1zM352,126h1v1h-1zM352,129h1v1h-1zM352,130h1v1h-1zM352,131h1v1h-1zM352,133h1v1h-1zM352,134h1v1h-1zM352,136h1v1h-1zM353,114h1v1h-1zM353,115h1v1h-1zM353,116h1v1h-1zM353,117h1v1h-1zM353,118h1v1h-1zM353,119h1v1h-1zM353,120h1v1h-1zM353,121h1v1h-1zM353,122h1v1h-1zM353,123h1v1h-1zM353,124h1v1h-1zM353,126h1v1h-1zM353,127h1v1h-1zM353,128h1v1h-1zM353,130h1v1h-1zM353,131h1v1h-1zM353,133h1v1h-1zM353,135h1v1h-1zM353,136h1v1h-1zM354,110h1v1h-1zM354,117h1v1h-1zM354,119h1v1h-1zM354,120h1v1h-1zM354,122h1v1h-1zM354,123h1v1h-1zM354,124h1v1h-1zM354,125h1v1h-1zM354,126h1v1h-1zM354,127h1v1h-1zM354,129h1v1h-1zM354,130h1v1h-1zM354,131h1v1h-1zM354,132h1v1h-1zM354,133h1v1h-1zM354,134h1v1h-1zM354,135h1v1h-1zM354,137h1v1h-1zM355,114h1v1h-1zM355,115h1v1h-1zM355,116h1v1h-1zM355,117h1v1h-1zM355,119h1v1h-1zM355,120h1v1h-1zM355,121h1v1h-1zM355,122h1v1h-1zM355,123h1v1h-1zM355,124h1v1h-1zM355,125h1v1h-1zM355,126h1v1h-1zM355,128h1v1h-1zM355,129h1v1h-1zM355,132h1v1h-1zM355,134h1v1h-1zM355,135h1v1h-1zM355,136h1v1h-1zM355,140h1v1h-1zM356,116h1v1h-1zM356,117h1v1h-1zM356,118h1v1h-1zM356,119h1v1h-1zM356,120h1v1h-1zM356,121h1v1h-1zM356,122h1v1h-1zM356,123h1v1h-1zM356,124h1v1h-1zM356,125h1v1h-1zM356,126h1v1h-1zM356,127h1v1h-1zM356,128h1v1h-1zM356,129h1v1h-1zM356,130h1v1h-1zM356,131h1v1h-1zM356,132h1v1h-1zM356,133h1v1h-1zM356,135h1v1h-1zM356,136h1v1h-1zM356,139h1v1h-1zM357,112h1v1h-1zM357,115h1v1h-1zM357,116h1v1h-1zM357,117h1v1h-1zM357,120h1v1h-1zM357,121h1v1h-1zM357,122h1v1h-1zM357,123h1v1h-1zM357,124h1v1h-1zM357,125h1v1h-1zM357,126h1v1h-1zM357,132h1v1h-1zM357,137h1v1h-1zM358,115h1v1h-1zM358,118h1v1h-1zM358,119h1v1h-1zM358,122h1v1h-1zM358,124h1v1h-1zM358,126h1v1h-1zM358,129h1v1h-1zM358,131h1v1h-1zM358,132h1v1h-1zM358,135h1v1h-1zM358,136h1v1h-1zM359,114h1v1h-1zM359,115h1v1h-1zM359,116h1v1h-1zM359,119h1v1h-1zM359,122h1v1h-1zM359,123h1v1h-1zM359,124h1v1h-1zM359,125h1v1h-1zM359,126h1v1h-1zM359,128h1v1h-1zM359,129h1v1h-1zM359,133h1v1h-1zM360,116h1v1h-1zM360,117h1v1h-1zM360,119h1v1h-1zM360,120h1v1h-1zM360,124h1v1h-1zM360,126h1v1h-1zM360,130h1v1h-1zM361,114h1v1h-1zM361,117h1v1h-1zM361,119h1v1h-1zM361,121h1v1h-1zM361,122h1v1h-1zM361,126h1v1h-1zM361,131h1v1h-1zM362,119h1v1h-1zM362,122h1v1h-1zM362,123h1v1h-1zM362,125h1v1h-1zM362,126h1v1h-1zM362,128h1v1h-1zM362,129h1v1h-1zM363,128h1v1h-1zM366,124h1v1h-1z" fill="#b4b4b4" fill-opacity="1"/>
<path d="M340,118h1v1h-1zM340,119h1v1h-1zM341,116h1v1h-1zM342,123h1v1h-1zM342,124h1v1h-1zM343,120h1v1h-1zM343,123h1v1h-1zM343,125h1v1h-1zM343,127h1v1h-1zM344,118h1v1h-1zM344,119h1v1h-1zM344,123h1v1h-1zM345,115h1v1h-1zM345,118h1v1h-1zM345,121h1v1h-1zM345,122h1v1h-1zM345,123h1v1h-1zM345,124h1v1h-1zM345,125h1v1h-1zM345,127h1v1h-1zM346,119h1v1h-1zM346,120h1v1h-1zM346,121h1v1h-1zM346,122h1v1h-1zM346,123h1v1h-1zM346,124h1v1h-1zM346,128h1v1h-1zM346,132h1v1h-1zM347,118h1v1h-1zM347,119h1v1h-1zM347,121h1v1h-1zM347,123h1v1h-1zM347,124h1v1h-1zM347,126h1v1h-1zM347,127h1v1h-1zM348,118h1v1h-1zM348,120h1v1h-1zM348,122h1v1h-1zM348,124h1v1h-1zM348,127h1v1h-1zM348,128h1v1h-1zM348,130h1v1h-1zM349,114h1v1h-1zM349,118h1v1h-1zM349,121h1v1h-1zM349,122h1v1h-1zM349,123h1v1h-1zM349,125h1v1h-1zM349,126h1v1h-1zM349,127h1v1h-1zM349,128h1v1h-1zM349,129h1v1h-1zM350,118h1v1h-1zM350,120h1v1h-1zM350,121h1v1h-1zM350,122h1v1h-1zM350,124h1v1h-1zM350,129h1v1h-1zM351,119h1v1h-1zM351,120h1v1h-1zM351,121h1v1h-1zM351,123h1v1h-1zM351,124h1v1h-1zM351,125h1v1h-1zM351,131h1v1h-1zM352,114h1v1h-1zM352,118h1v1h-1zM352,122h1v1h-1zM352,123h1v1h-1zM352,124h1v1h-1zM352,126h1v1h-1zM352,129h1v1h-1zM353,115h1v1h-1zM353,122h1v1h-1zM354,117h1v1h-1zM354,118h1v1h-1zM354,122h1v1h-1zM354,123h1v1h-1zM354,128h1v1h-1zM354,131h1v1h-1zM355,116h1v1h-1zM355,118h1v1h-1zM355,120h1v1h-1zM355,122h1v1h-1zM355,124h1v1h-1zM355,125h1v1h-1zM355,129h1v1h-1zM356,117h1v1h-1zM356,122h1v1h-1zM356,126h1v1h-1zM356,128h1v1h-1zM356,130h1v1h-1zM357,113h1v1h-1zM357,115h1v1h-1zM357,119h1v1h-1z" fill="#a8a8a8" fill-opacity="1"/>
<path d="M369.4,92.5 L369.1,92.5 L368.2,95.5 L366.8,99.0 L364.0,111.0 L363.7,122.0 L364.6,134.0 L365.6,141.0 L366.6,147.0 L372.2,147.0 L373.2,141.0 L374.2,134.0 L375.1,122.0 L374.8,111.0 L372.0,99.0 L370.6,95.5 L369.7,92.5 Z" fill="#111"/>
<path d="M358,116h1v1h-1zM359,120h1v1h-1zM360,106h1v1h-1zM360,110h1v1h-1zM360,112h1v1h-1zM360,113h1v1h-1zM360,114h1v1h-1zM360,115h1v1h-1zM360,116h1v1h-1zM360,118h1v1h-1zM360,122h1v1h-1zM360,123h1v1h-1zM360,124h1v1h-1zM360,125h1v1h-1zM360,127h1v1h-1zM360,130h1v1h-1zM360,134h1v1h-1zM361,104h1v1h-1zM361,107h1v1h-1zM361,108h1v1h-1zM361,109h1v1h-1zM361,110h1v1h-1zM361,111h1v1h-1zM361,112h1v1h-1zM361,113h1v1h-1zM361,114h1v1h-1zM361,115h1v1h-1zM361,116h1v1h-1zM361,117h1v1h-1zM361,119h1v1h-1zM361,122h1v1h-1zM361,124h1v1h-1zM361,128h1v1h-1zM361,130h1v1h-1zM361,132h1v1h-1zM361,133h1v1h-1zM361,139h1v1h-1zM362,100h1v1h-1zM362,103h1v1h-1zM362,105h1v1h-1zM362,106h1v1h-1zM362,107h1v1h-1zM362,108h1v1h-1zM362,109h1v1h-1zM362,110h1v1h-1zM362,111h1v1h-1zM362,112h1v1h-1zM362,113h1v1h-1zM362,115h1v1h-1zM362,116h1v1h-1zM362,117h1v1h-1zM362,118h1v1h-1zM362,119h1v1h-1zM362,120h1v1h-1zM362,121h1v1h-1zM362,122h1v1h-1zM362,123h1v1h-1zM362,124h1v1h-1zM362,125h1v1h-1zM362,126h1v1h-1zM362,127h1v1h-1zM362,129h1v1h-1zM362,130h1v1h-1zM362,131h1v1h-1zM362,132h1v1h-1zM362,134h1v1h-1zM362,135h1v1h-1zM362,136h1v1h-1zM362,140h1v1h-1zM362,141h1v1h-1zM362,142h1v1h-1zM362,144h1v1h-1zM363,99h1v1h-1zM363,101h1v1h-1zM363,102h1v1h-1zM363,103h1v1h-1zM363,104h1v1h-1zM363,105h1v1h-1zM363,106h1v1h-1zM363,107h1v1h-1zM363,108h1v1h-1zM363,109h1v1h-1zM363,110h1v1h-1zM363,111h1v1h-1zM363,112h1v1h-1zM363,113h1v1h-1zM363,114h1v1h-1zM363,115h1v1h-1zM363,116h1v1h-1zM363,117h1v1h-1zM363,118h1v1h-1zM363,119h1v1h-1zM363,120h1v1h-1zM363,121h1v1h-1zM363,122h1v1h-1zM363,123h1v1h-1zM363,124h1v1h-1zM363,125h1v1h-1zM363,126h1v1h-1zM363,127h1v1h-1zM363,128h1v1h-1zM363,129h1v1h-1zM363,130h1v1h-1zM363,131h1v1h-1zM363,132h1v1h-1zM363,134h1v1h-1zM363,135h1v1h-1zM363,136h1v1h-1zM363,137h1v1h-1zM363,138h1v1h-1zM363,139h1v1h-1zM363,140h1v1h-1zM363,141h1v1h-1zM363,142h1v1h-1zM363,143h1v1h-1zM363,144h1v1h-1zM363,145h1v1h-1zM363,146h1v1h-1zM364,97h1v1h-1zM364,98h1v1h-1zM364,99h1v1h-1zM364,100h1v1h-1zM364,101h1v1h-1zM364,102h1v1h-1zM364,103h1v1h-1zM364,104h1v1h-1zM364,105h1v1h-1zM364,106h1v1h-1zM364,107h1v1h-1zM364,108h1v1h-1zM364,109h1v1h-1zM364,126h1v1h-1zM364,128h1v1h-1zM364,130h1v1h-1zM364,131h1v1h-1zM364,132h1v1h-1zM364,133h1v1h-1zM364,134h1v1h-1zM364,135h1v1h-1zM364,136h1v1h-1zM364,137h1v1h-1zM364,138h1v1h-1zM364,139h1v1h-1zM364,140h1v1h-1zM364,141h1v1h-1zM364,142h1v1h-1zM364,143h1v1h-1zM364,144h1v1h-1zM364,145h1v1h-1zM364,146h1v1h-1zM365,96h1v1h-1zM365,97h1v1h-1zM365,98h1v1h-1zM365,99h1v1h-1zM365,100h1v1h-1zM365,101h1v1h-1zM365,102h1v1h-1zM365,103h1v1h-1zM365,104h1v1h-1zM365,105h1v1h-1zM365,138h1v1h-1zM365,139h1v1h-1zM365,140h1v1h-1zM365,141h1v1h-1zM365,142h1v1h-1zM365,143h1v1h-1zM365,144h1v1h-1zM365,145h1v1h-1zM365,146h1v1h-1zM366,95h1v1h-1zM366,96h1v1h-1zM366,97h1v1h-1zM366,98h1v1h-1zM366,99h1v1h-1zM366,100h1v1h-1zM366,144h1v1h-1zM366,145h1v1h-1zM366,146h1v1h-1zM367,93h1v1h-1zM367,94h1v1h-1zM367,95h1v1h-1zM367,96h1v1h-1zM367,97h1v1h-1zM367,98h1v1h-1zM368,93h1v1h-1zM368,94h1v1h-1zM368,95h1v1h-1zM370,93h1v1h-1zM370,94h1v1h-1zM370,95h1v1h-1zM371,94h1v1h-1zM371,95h1v1h-1zM371,96h1v1h-1zM371,97h1v1h-1zM372,95h1v1h-1zM372,96h1v1h-1zM372,97h1v1h-1zM372,98h1v1h-1zM372,99h1v1h-1zM372,101h1v1h-1zM372,102h1v1h-1zM372,143h1v1h-1zM372,145h1v1h-1zM372,146h1v1h-1zM373,96h1v1h-1zM373,97h1v1h-1zM373,99h1v1h-1zM373,100h1v1h-1zM373,101h1v1h-1zM373,103h1v1h-1zM373,104h1v1h-1zM373,105h1v1h-1zM373,106h1v1h-1zM373,107h1v1h-1zM373,137h1v1h-1zM373,138h1v1h-1zM373,139h1v1h-1zM373,140h1v1h-1zM373,141h1v1h-1zM373,142h1v1h-1zM373,143h1v1h-1zM373,144h1v1h-1zM373,145h1v1h-1zM373,146h1v1h-1zM374,97h1v1h-1zM374,99h1v1h-1zM374,100h1v1h-1zM374,101h1v1h-1zM374,102h1v1h-1zM374,103h1v1h-1zM374,104h1v1h-1zM374,105h1v1h-1zM374,106h1v1h-1zM374,107h1v1h-1zM374,108h1v1h-1zM374,109h1v1h-1zM374,110h1v1h-1zM374,111h1v1h-1zM374,115h1v1h-1zM374,125h1v1h-1zM374,126h1v1h-1zM374,128h1v1h-1zM374,129h1v1h-1zM374,130h1v1h-1zM374,133h1v1h-1zM374,134h1v1h-1zM374,135h1v1h-1zM374,136h1v1h-1zM374,137h1v1h-1zM374,138h1v1h-1zM374,139h1v1h-1zM374,140h1v1h-1zM374,142h1v1h-1zM374,143h1v1h-1zM374,144h1v1h-1zM374,145h1v1h-1zM374,146h1v1h-1zM375,99h1v1h-1zM375,101h1v1h-1zM375,102h1v1h-1zM375,103h1v1h-1zM375,104h1v1h-1zM375,105h1v1h-1zM375,106h1v1h-1zM375,107h1v1h-1zM375,108h1v1h-1zM375,109h1v1h-1zM375,110h1v1h-1zM375,111h1v1h-1zM375,112h1v1h-1zM375,113h1v1h-1zM375,114h1v1h-1zM375,115h1v1h-1zM375,116h1v1h-1zM375,117h1v1h-1zM375,118h1v1h-1zM375,119h1v1h-1zM375,120h1v1h-1zM375,121h1v1h-1zM375,122h1v1h-1zM375,123h1v1h-1zM375,124h1v1h-1zM375,125h1v1h-1zM375,127h1v1h-1zM375,128h1v1h-1zM375,129h1v1h-1zM375,130h1v1h-1zM375,131h1v1h-1zM375,132h1v1h-1zM375,133h1v1h-1zM375,134h1v1h-1zM375,135h1v1h-1zM375,136h1v1h-1zM375,137h1v1h-1zM375,138h1v1h-1zM375,139h1v1h-1zM375,140h1v1h-1zM375,141h1v1h-1zM375,142h1v1h-1zM375,144h1v1h-1zM375,146h1v1h-1zM376,102h1v1h-1zM376,103h1v1h-1zM376,104h1v1h-1zM376,105h1v1h-1zM376,106h1v1h-1zM376,107h1v1h-1zM376,108h1v1h-1zM376,109h1v1h-1zM376,110h1v1h-1zM376,111h1v1h-1zM376,112h1v1h-1zM376,113h1v1h-1zM376,114h1v1h-1zM376,115h1v1h-1zM376,116h1v1h-1zM376,117h1v1h-1zM376,118h1v1h-1zM376,119h1v1h-1zM376,120h1v1h-1zM376,121h1v1h-1zM376,122h1v1h-1zM376,123h1v1h-1zM376,125h1v1h-1zM376,126h1v1h-1zM376,127h1v1h-1zM376,128h1v1h-1zM376,129h1v1h-1zM376,130h1v1h-1zM376,131h1v1h-1zM376,132h1v1h-1zM376,133h1v1h-1zM376,135h1v1h-1zM376,136h1v1h-1zM376,137h1v1h-1zM376,140h1v1h-1zM376,142h1v1h-1zM376,144h1v1h-1zM377,108h1v1h-1zM377,109h1v1h-1zM377,110h1v1h-1zM377,111h1v1h-1zM377,112h1v1h-1zM377,114h1v1h-1zM377,115h1v1h-1zM377,116h1v1h-1zM377,118h1v1h-1zM377,119h1v1h-1zM377,120h1v1h-1zM377,122h1v1h-1zM377,123h1v1h-1zM377,124h1v1h-1zM377,125h1v1h-1zM377,126h1v1h-1zM377,127h1v1h-1zM377,128h1v1h-1zM377,129h1v1h-1zM377,130h1v1h-1zM377,133h1v1h-1zM377,137h1v1h-1zM377,139h1v1h-1zM378,106h1v1h-1zM378,108h1v1h-1zM378,110h1v1h-1zM378,114h1v1h-1zM378,117h1v1h-1zM378,118h1v1h-1zM378,124h1v1h-1zM378,128h1v1h-1zM378,129h1v1h-1zM378,130h1v1h-1zM379,116h1v1h-1zM380,117h1v1h-1zM380,122h1v1h-1zM380,123h1v1h-1zM381,128h1v1h-1z" fill="#111" fill-opacity="1"/>
<path d="M358,116h1v1h-1zM359,126h1v1h-1zM360,79h1v1h-1zM360,98h1v1h-1zM361,98h1v1h-1zM362,102h1v1h-1zM364,124h1v1h-1zM366,104h1v1h-1zM366,113h1v1h-1zM367,78h1v1h-1zM367,123h1v1h-1zM368,98h1v1h-1zM368,127h1v1h-1zM369,134h1v1h-1zM370,81h1v1h-1zM370,83h1v1h-1zM370,92h1v1h-1zM370,110h1v1h-1zM370,113h1v1h-1zM370,136h1v1h-1zM371,88h1v1h-1zM371,95h1v1h-1zM371,116h1v1h-1zM371,132h1v1h-1zM371,136h1v1h-1zM371,140h1v1h-1zM372,108h1v1h-1zM372,111h1v1h-1zM372,114h1v1h-1zM372,124h1v1h-1zM372,140h1v1h-1zM372,145h1v1h-1zM373,86h1v1h-1zM373,102h1v1h-1zM373,124h1v1h-1zM373,143h1v1h-1zM374,82h1v1h-1zM375,135h1v1h-1zM375,139h1v1h-1zM376,99h1v1h-1zM376,138h1v1h-1zM377,85h1v1h-1zM377,93h1v1h-1zM378,97h1v1h-1zM378,136h1v1h-1zM379,92h1v1h-1zM379,102h1v1h-1zM380,112h1v1h-1zM381,130h1v1h-1zM383,135h1v1h-1z" fill="#111" fill-opacity="1"/>
<path d="M366,86h1v1h-1zM366,89h1v1h-1zM366,90h1v1h-1zM366,91h1v1h-1zM368,90h1v1h-1zM369,86h1v1h-1zM369,89h1v1h-1zM370,84h1v1h-1zM370,86h1v1h-1zM370,88h1v1h-1zM370,91h1v1h-1zM371,86h1v1h-1zM371,89h1v1h-1zM371,91h1v1h-1zM372,81h1v1h-1zM372,86h1v1h-1zM372,92h1v1h-1zM373,87h1v1h-1zM373,90h1v1h-1z" fill="#111" fill-opacity="1"/>
</g>
<path d="M327.6,67.8 V110 H361.4 V67.8" fill="none" stroke="#777" stroke-width="0.8"/>
<rect x="321.8" y="67.8" width="78.19999999999999" height="78.50000000000001" fill="none" stroke="#111" stroke-width="1.1"/>
<text x="318.30" y="146.40" font-size="7.3" text-anchor="end" fill="#1a1a1a">10<tspan font-size="5.26" dy="-3.2">0</tspan></text>
<text x="320.10" y="156.10" font-size="7.3" text-anchor="start" fill="#1a1a1a">10<tspan font-size="5.26" dy="-3.2">0</tspan></text>
<text x="318.30" y="127.30" font-size="7.3" text-anchor="end" fill="#1a1a1a">10<tspan font-size="5.26" dy="-3.2">1</tspan></text>
<text x="339.20" y="156.10" font-size="7.3" text-anchor="start" fill="#1a1a1a">10<tspan font-size="5.26" dy="-3.2">1</tspan></text>
<text x="318.30" y="108.20" font-size="7.3" text-anchor="end" fill="#1a1a1a">10<tspan font-size="5.26" dy="-3.2">2</tspan></text>
<text x="358.30" y="156.10" font-size="7.3" text-anchor="start" fill="#1a1a1a">10<tspan font-size="5.26" dy="-3.2">2</tspan></text>
<text x="318.30" y="89.10" font-size="7.3" text-anchor="end" fill="#1a1a1a">10<tspan font-size="5.26" dy="-3.2">3</tspan></text>
<text x="377.40" y="156.10" font-size="7.3" text-anchor="start" fill="#1a1a1a">10<tspan font-size="5.26" dy="-3.2">3</tspan></text>
<text x="318.30" y="70.00" font-size="7.3" text-anchor="end" fill="#1a1a1a">10<tspan font-size="5.26" dy="-3.2">4</tspan></text>
<text x="396.50" y="156.10" font-size="7.3" text-anchor="start" fill="#1a1a1a">10<tspan font-size="5.26" dy="-3.2">4</tspan></text>
<clipPath id="clip104"><rect x="426.6" y="67.8" width="78.19999999999999" height="78.50000000000001"/></clipPath>
<g clip-path="url(#clip104)">
<path d="M429,101h1v1h-1zM429,125h1v1h-1zM429,127h1v1h-1zM430,80h1v1h-1zM430,106h1v1h-1zM430,128h1v1h-1zM431,88h1v1h-1zM432,85h1v1h-1zM432,108h1v1h-1zM432,116h1v1h-1zM432,144h1v1h-1zM433,88h1v1h-1zM433,100h1v1h-1zM433,121h1v1h-1zM433,122h1v1h-1zM434,82h1v1h-1zM434,119h1v1h-1zM434,120h1v1h-1zM435,87h1v1h-1zM435,104h1v1h-1zM435,116h1v1h-1zM435,118h1v1h-1zM436,85h1v1h-1zM436,90h1v1h-1zM436,97h1v1h-1zM436,119h1v1h-1zM436,122h1v1h-1zM437,72h1v1h-1zM437,87h1v1h-1zM437,105h1v1h-1zM437,115h1v1h-1zM438,79h1v1h-1zM438,83h1v1h-1zM439,73h1v1h-1zM439,76h1v1h-1zM439,86h1v1h-1zM440,79h1v1h-1zM440,95h1v1h-1zM440,101h1v1h-1zM440,112h1v1h-1zM440,134h1v1h-1zM441,93h1v1h-1zM441,127h1v1h-1zM442,84h1v1h-1zM443,88h1v1h-1zM443,97h1v1h-1zM443,115h1v1h-1zM443,125h1v1h-1zM443,132h1v1h-1zM444,82h1v1h-1zM444,107h1v1h-1zM444,131h1v1h-1zM444,137h1v1h-1zM445,72h1v1h-1zM445,77h1v1h-1zM445,101h1v1h-1zM445,127h1v1h-1zM446,102h1v1h-1zM446,132h1v1h-1zM447,139h1v1h-1zM448,88h1v1h-1zM448,115h1v1h-1zM449,119h1v1h-1zM449,131h1v1h-1zM449,142h1v1h-1zM450,133h1v1h-1zM451,99h1v1h-1zM451,112h1v1h-1zM452,71h1v1h-1zM452,88h1v1h-1zM452,132h1v1h-1zM453,118h1v1h-1zM453,123h1v1h-1zM453,128h1v1h-1zM454,71h1v1h-1zM454,79h1v1h-1zM454,80h1v1h-1zM454,96h1v1h-1zM454,121h1v1h-1zM454,122h1v1h-1zM455,85h1v1h-1zM455,109h1v1h-1zM455,112h1v1h-1zM455,116h1v1h-1zM455,124h1v1h-1zM455,143h1v1h-1zM456,114h1v1h-1zM457,83h1v1h-1zM457,91h1v1h-1zM457,93h1v1h-1zM457,115h1v1h-1zM458,83h1v1h-1zM458,92h1v1h-1zM458,131h1v1h-1zM458,136h1v1h-1zM459,109h1v1h-1zM460,71h1v1h-1zM460,88h1v1h-1zM460,145h1v1h-1zM461,116h1v1h-1zM461,142h1v1h-1zM462,99h1v1h-1zM462,113h1v1h-1zM462,139h1v1h-1zM463,93h1v1h-1zM463,97h1v1h-1zM463,112h1v1h-1zM463,141h1v1h-1zM464,72h1v1h-1zM464,141h1v1h-1zM464,143h1v1h-1zM465,103h1v1h-1zM465,141h1v1h-1zM466,88h1v1h-1zM466,91h1v1h-1zM466,113h1v1h-1zM467,113h1v1h-1zM467,139h1v1h-1zM467,145h1v1h-1zM468,122h1v1h-1zM468,128h1v1h-1zM468,138h1v1h-1zM468,142h1v1h-1zM469,85h1v1h-1zM469,93h1v1h-1zM469,114h1v1h-1zM469,118h1v1h-1zM469,135h1v1h-1z" fill="#9a9a9a" fill-opacity="1"/>
<path d="M427,115h1v1h-1zM427,135h1v1h-1zM429,120h1v1h-1zM430,120h1v1h-1zM431,124h1v1h-1zM431,130h1v1h-1zM432,124h1v1h-1zM432,128h1v1h-1zM432,130h1v1h-1zM432,134h1v1h-1zM432,139h1v1h-1zM433,122h1v1h-1zM433,127h1v1h-1zM433,130h1v1h-1zM433,137h1v1h-1zM434,125h1v1h-1zM434,127h1v1h-1zM434,128h1v1h-1zM434,131h1v1h-1zM434,132h1v1h-1zM434,134h1v1h-1zM434,135h1v1h-1zM434,140h1v1h-1zM435,121h1v1h-1zM435,127h1v1h-1zM435,134h1v1h-1zM435,137h1v1h-1zM435,142h1v1h-1zM436,121h1v1h-1zM436,126h1v1h-1zM436,128h1v1h-1zM436,129h1v1h-1zM436,130h1v1h-1zM437,116h1v1h-1zM437,121h1v1h-1zM437,122h1v1h-1zM437,124h1v1h-1zM437,125h1v1h-1zM437,126h1v1h-1zM437,129h1v1h-1zM437,131h1v1h-1zM437,133h1v1h-1zM437,135h1v1h-1zM437,136h1v1h-1zM437,141h1v1h-1zM437,151h1v1h-1zM438,116h1v1h-1zM438,118h1v1h-1zM438,120h1v1h-1zM438,122h1v1h-1zM438,123h1v1h-1zM438,124h1v1h-1zM438,125h1v1h-1zM438,127h1v1h-1zM438,128h1v1h-1zM438,131h1v1h-1zM438,132h1v1h-1zM438,134h1v1h-1zM438,140h1v1h-1zM438,148h1v1h-1zM439,112h1v1h-1zM439,118h1v1h-1zM439,119h1v1h-1zM439,121h1v1h-1zM439,122h1v1h-1zM439,124h1v1h-1zM439,125h1v1h-1zM439,126h1v1h-1zM439,127h1v1h-1zM439,131h1v1h-1zM439,132h1v1h-1zM439,135h1v1h-1zM439,137h1v1h-1zM439,139h1v1h-1zM439,143h1v1h-1zM439,153h1v1h-1zM440,113h1v1h-1zM440,117h1v1h-1zM440,119h1v1h-1zM440,120h1v1h-1zM440,122h1v1h-1zM440,123h1v1h-1zM440,126h1v1h-1zM440,127h1v1h-1zM440,128h1v1h-1zM440,129h1v1h-1zM440,130h1v1h-1zM440,132h1v1h-1zM440,133h1v1h-1zM440,134h1v1h-1zM441,112h1v1h-1zM441,113h1v1h-1zM441,115h1v1h-1zM441,117h1v1h-1zM441,118h1v1h-1zM441,120h1v1h-1zM441,122h1v1h-1zM441,123h1v1h-1zM441,124h1v1h-1zM441,125h1v1h-1zM441,126h1v1h-1zM441,127h1v1h-1zM441,128h1v1h-1zM441,129h1v1h-1zM441,130h1v1h-1zM441,131h1v1h-1zM441,134h1v1h-1zM441,135h1v1h-1zM441,136h1v1h-1zM441,137h1v1h-1zM441,147h1v1h-1zM442,114h1v1h-1zM442,117h1v1h-1zM442,118h1v1h-1zM442,119h1v1h-1zM442,120h1v1h-1zM442,122h1v1h-1zM442,123h1v1h-1zM442,124h1v1h-1zM442,125h1v1h-1zM442,126h1v1h-1zM442,127h1v1h-1zM442,128h1v1h-1zM442,129h1v1h-1zM442,130h1v1h-1zM442,131h1v1h-1zM442,132h1v1h-1zM442,134h1v1h-1zM442,135h1v1h-1zM442,137h1v1h-1zM443,101h1v1h-1zM443,111h1v1h-1zM443,116h1v1h-1zM443,117h1v1h-1zM443,119h1v1h-1zM443,120h1v1h-1zM443,122h1v1h-1zM443,123h1v1h-1zM443,124h1v1h-1zM443,125h1v1h-1zM443,126h1v1h-1zM443,127h1v1h-1zM443,128h1v1h-1zM443,129h1v1h-1zM443,130h1v1h-1zM443,131h1v1h-1zM443,132h1v1h-1zM443,133h1v1h-1zM443,134h1v1h-1zM443,141h1v1h-1zM444,112h1v1h-1zM444,115h1v1h-1zM444,116h1v1h-1zM444,117h1v1h-1zM444,118h1v1h-1zM444,119h1v1h-1zM444,120h1v1h-1zM444,121h1v1h-1zM444,122h1v1h-1zM444,123h1v1h-1zM444,124h1v1h-1zM444,125h1v1h-1zM444,126h1v1h-1zM444,127h1v1h-1zM444,128h1v1h-1zM444,129h1v1h-1zM444,130h1v1h-1zM444,131h1v1h-1zM444,132h1v1h-1zM444,133h1v1h-1zM444,134h1v1h-1zM444,135h1v1h-1zM444,136h1v1h-1zM444,137h1v1h-1zM444,141h1v1h-1zM445,108h1v1h-1zM445,109h1v1h-1zM445,113h1v1h-1zM445,117h1v1h-1zM445,118h1v1h-1zM445,119h1v1h-1zM445,120h1v1h-1zM445,121h1v1h-1zM445,122h1v1h-1zM445,123h1v1h-1zM445,124h1v1h-1zM445,125h1v1h-1zM445,126h1v1h-1zM445,128h1v1h-1zM445,129h1v1h-1zM445,130h1v1h-1zM445,131h1v1h-1zM445,132h1v1h-1zM445,133h1v1h-1zM445,134h1v1h-1zM445,135h1v1h-1zM445,136h1v1h-1zM445,141h1v1h-1zM445,142h1v1h-1zM445,144h1v1h-1zM445,145h1v1h-1zM446,112h1v1h-1zM446,113h1v1h-1zM446,116h1v1h-1zM446,117h1v1h-1zM446,119h1v1h-1zM446,121h1v1h-1zM446,122h1v1h-1zM446,123h1v1h-1zM446,124h1v1h-1zM446,125h1v1h-1zM446,126h1v1h-1zM446,127h1v1h-1zM446,128h1v1h-1zM446,129h1v1h-1zM446,130h1v1h-1zM446,131h1v1h-1zM446,132h1v1h-1zM446,133h1v1h-1zM446,134h1v1h-1zM446,135h1v1h-1zM446,136h1v1h-1zM446,138h1v1h-1zM446,139h1v1h-1zM446,141h1v1h-1zM446,142h1v1h-1zM446,143h1v1h-1zM446,146h1v1h-1zM447,101h1v1h-1zM447,109h1v1h-1zM447,116h1v1h-1zM447,117h1v1h-1zM447,120h1v1h-1zM447,121h1v1h-1zM447,122h1v1h-1zM447,123h1v1h-1zM447,124h1v1h-1zM447,125h1v1h-1zM447,126h1v1h-1zM447,127h1v1h-1zM447,128h1v1h-1zM447,129h1v1h-1zM447,131h1v1h-1zM447,132h1v1h-1zM447,133h1v1h-1zM447,134h1v1h-1zM447,135h1v1h-1zM447,136h1v1h-1zM447,137h1v1h-1zM447,140h1v1h-1zM447,141h1v1h-1zM447,146h1v1h-1zM448,112h1v1h-1zM448,114h1v1h-1zM448,115h1v1h-1zM448,116h1v1h-1zM448,117h1v1h-1zM448,118h1v1h-1zM448,119h1v1h-1zM448,120h1v1h-1zM448,121h1v1h-1zM448,122h1v1h-1zM448,123h1v1h-1zM448,124h1v1h-1zM448,125h1v1h-1zM448,126h1v1h-1zM448,127h1v1h-1zM448,128h1v1h-1zM448,129h1v1h-1zM448,130h1v1h-1zM448,131h1v1h-1zM448,132h1v1h-1zM448,133h1v1h-1zM448,134h1v1h-1zM448,135h1v1h-1zM448,136h1v1h-1zM448,137h1v1h-1zM448,138h1v1h-1zM449,108h1v1h-1zM449,109h1v1h-1zM449,114h1v1h-1zM449,115h1v1h-1zM449,116h1v1h-1zM449,117h1v1h-1zM449,119h1v1h-1zM449,120h1v1h-1zM449,121h1v1h-1zM449,122h1v1h-1zM449,123h1v1h-1zM449,124h1v1h-1zM449,125h1v1h-1zM449,126h1v1h-1zM449,127h1v1h-1zM449,128h1v1h-1zM449,129h1v1h-1zM449,130h1v1h-1zM449,131h1v1h-1zM449,132h1v1h-1zM449,133h1v1h-1zM449,134h1v1h-1zM449,135h1v1h-1zM449,138h1v1h-1zM449,145h1v1h-1zM450,106h1v1h-1zM450,109h1v1h-1zM450,111h1v1h-1zM450,114h1v1h-1zM450,115h1v1h-1zM450,116h1v1h-1zM450,118h1v1h-1zM450,119h1v1h-1zM450,120h1v1h-1zM450,121h1v1h-1zM450,122h1v1h-1zM450,123h1v1h-1zM450,124h1v1h-1zM450,125h1v1h-1zM450,126h1v1h-1zM450,127h1v1h-1zM450,128h1v1h-1zM450,129h1v1h-1zM450,130h1v1h-1zM450,131h1v1h-1zM450,132h1v1h-1zM450,133h1v1h-1zM450,134h1v1h-1zM450,135h1v1h-1zM450,136h1v1h-1zM450,139h1v1h-1zM450,140h1v1h-1zM451,108h1v1h-1zM451,109h1v1h-1zM451,114h1v1h-1zM451,117h1v1h-1zM451,119h1v1h-1zM451,120h1v1h-1zM451,121h1v1h-1zM451,122h1v1h-1zM451,123h1v1h-1zM451,124h1v1h-1zM451,125h1v1h-1zM451,126h1v1h-1zM451,127h1v1h-1zM451,128h1v1h-1zM451,129h1v1h-1zM451,130h1v1h-1zM451,131h1v1h-1zM451,132h1v1h-1zM451,133h1v1h-1zM451,134h1v1h-1zM451,135h1v1h-1zM451,136h1v1h-1zM451,137h1v1h-1zM452,113h1v1h-1zM452,114h1v1h-1zM452,115h1v1h-1zM452,116h1v1h-1zM452,117h1v1h-1zM452,118h1v1h-1zM452,119h1v1h-1zM452,120h1v1h-1zM452,121h1v1h-1zM452,122h1v1h-1zM452,123h1v1h-1zM452,124h1v1h-1zM452,125h1v1h-1zM452,126h1v1h-1zM452,127h1v1h-1zM452,128h1v1h-1zM452,129h1v1h-1zM452,130h1v1h-1zM452,131h1v1h-1zM452,132h1v1h-1zM452,133h1v1h-1zM452,134h1v1h-1zM452,135h1v1h-1zM452,136h1v1h-1zM452,137h1v1h-1zM452,138h1v1h-1zM452,140h1v1h-1zM452,142h1v1h-1zM452,143h1v1h-1zM452,150h1v1h-1zM453,100h1v1h-1zM453,110h1v1h-1zM453,111h1v1h-1zM453,112h1v1h-1zM453,114h1v1h-1zM453,115h1v1h-1zM453,116h1v1h-1zM453,117h1v1h-1zM453,118h1v1h-1zM453,119h1v1h-1zM453,121h1v1h-1zM453,122h1v1h-1zM453,123h1v1h-1zM453,124h1v1h-1zM453,125h1v1h-1zM453,126h1v1h-1zM453,127h1v1h-1zM453,128h1v1h-1zM453,129h1v1h-1zM453,130h1v1h-1zM453,131h1v1h-1zM453,132h1v1h-1zM453,133h1v1h-1zM453,134h1v1h-1zM453,135h1v1h-1zM453,136h1v1h-1zM453,137h1v1h-1zM453,139h1v1h-1zM453,140h1v1h-1zM453,141h1v1h-1zM453,146h1v1h-1zM454,105h1v1h-1zM454,108h1v1h-1zM454,113h1v1h-1zM454,114h1v1h-1zM454,115h1v1h-1zM454,116h1v1h-1zM454,117h1v1h-1zM454,119h1v1h-1zM454,120h1v1h-1zM454,121h1v1h-1zM454,122h1v1h-1zM454,123h1v1h-1zM454,124h1v1h-1zM454,125h1v1h-1zM454,126h1v1h-1zM454,127h1v1h-1zM454,128h1v1h-1zM454,129h1v1h-1zM454,130h1v1h-1zM454,131h1v1h-1zM454,132h1v1h-1zM454,133h1v1h-1zM454,134h1v1h-1zM454,135h1v1h-1zM454,136h1v1h-1zM454,139h1v1h-1zM454,140h1v1h-1zM454,142h1v1h-1zM454,148h1v1h-1zM455,105h1v1h-1zM455,106h1v1h-1zM455,111h1v1h-1zM455,112h1v1h-1zM455,113h1v1h-1zM455,114h1v1h-1zM455,116h1v1h-1zM455,117h1v1h-1zM455,118h1v1h-1zM455,120h1v1h-1zM455,121h1v1h-1zM455,122h1v1h-1zM455,123h1v1h-1zM455,124h1v1h-1zM455,125h1v1h-1zM455,126h1v1h-1zM455,128h1v1h-1zM455,129h1v1h-1zM455,130h1v1h-1zM455,131h1v1h-1zM455,132h1v1h-1zM455,133h1v1h-1zM455,134h1v1h-1zM455,135h1v1h-1zM455,136h1v1h-1zM455,137h1v1h-1zM455,138h1v1h-1zM455,139h1v1h-1zM455,143h1v1h-1zM456,111h1v1h-1zM456,112h1v1h-1zM456,114h1v1h-1zM456,115h1v1h-1zM456,116h1v1h-1zM456,117h1v1h-1zM456,118h1v1h-1zM456,120h1v1h-1zM456,121h1v1h-1zM456,122h1v1h-1zM456,123h1v1h-1zM456,124h1v1h-1zM456,125h1v1h-1zM456,126h1v1h-1zM456,127h1v1h-1zM456,128h1v1h-1zM456,129h1v1h-1zM456,130h1v1h-1zM456,131h1v1h-1zM456,132h1v1h-1zM456,134h1v1h-1zM456,136h1v1h-1zM456,138h1v1h-1zM456,141h1v1h-1zM456,142h1v1h-1zM456,143h1v1h-1zM456,146h1v1h-1zM456,148h1v1h-1zM457,107h1v1h-1zM457,112h1v1h-1zM457,116h1v1h-1zM457,117h1v1h-1zM457,118h1v1h-1zM457,119h1v1h-1zM457,120h1v1h-1zM457,121h1v1h-1zM457,122h1v1h-1zM457,123h1v1h-1zM457,124h1v1h-1zM457,125h1v1h-1zM457,126h1v1h-1zM457,127h1v1h-1zM457,128h1v1h-1zM457,129h1v1h-1zM457,130h1v1h-1zM457,131h1v1h-1zM457,132h1v1h-1zM457,133h1v1h-1zM457,134h1v1h-1zM457,135h1v1h-1zM457,136h1v1h-1zM457,137h1v1h-1zM457,139h1v1h-1zM457,141h1v1h-1zM458,110h1v1h-1zM458,111h1v1h-1zM458,112h1v1h-1zM458,113h1v1h-1zM458,114h1v1h-1zM458,116h1v1h-1zM458,117h1v1h-1zM458,118h1v1h-1zM458,119h1v1h-1zM458,120h1v1h-1zM458,121h1v1h-1zM458,122h1v1h-1zM458,123h1v1h-1zM458,124h1v1h-1zM458,125h1v1h-1zM458,126h1v1h-1zM458,128h1v1h-1zM458,129h1v1h-1zM458,131h1v1h-1zM458,132h1v1h-1zM458,133h1v1h-1zM458,134h1v1h-1zM458,141h1v1h-1zM459,111h1v1h-1zM459,114h1v1h-1zM459,117h1v1h-1zM459,119h1v1h-1zM459,120h1v1h-1zM459,121h1v1h-1zM459,122h1v1h-1zM459,123h1v1h-1zM459,124h1v1h-1zM459,125h1v1h-1zM459,126h1v1h-1zM459,127h1v1h-1zM459,128h1v1h-1zM459,130h1v1h-1zM459,131h1v1h-1zM459,133h1v1h-1zM459,134h1v1h-1zM459,135h1v1h-1zM459,136h1v1h-1zM459,137h1v1h-1zM459,140h1v1h-1zM459,148h1v1h-1zM460,110h1v1h-1zM460,111h1v1h-1zM460,112h1v1h-1zM460,113h1v1h-1zM460,114h1v1h-1zM460,115h1v1h-1zM460,116h1v1h-1zM460,117h1v1h-1zM460,118h1v1h-1zM460,119h1v1h-1zM460,120h1v1h-1zM460,121h1v1h-1zM460,122h1v1h-1zM460,124h1v1h-1zM460,125h1v1h-1zM460,126h1v1h-1zM460,127h1v1h-1zM460,128h1v1h-1zM460,129h1v1h-1zM460,131h1v1h-1zM460,132h1v1h-1zM460,134h1v1h-1zM460,136h1v1h-1zM460,137h1v1h-1zM460,138h1v1h-1zM460,141h1v1h-1zM460,143h1v1h-1zM461,107h1v1h-1zM461,114h1v1h-1zM461,116h1v1h-1zM461,120h1v1h-1zM461,122h1v1h-1zM461,123h1v1h-1zM461,124h1v1h-1zM461,125h1v1h-1zM461,126h1v1h-1zM461,127h1v1h-1zM461,128h1v1h-1zM461,129h1v1h-1zM461,130h1v1h-1zM461,131h1v1h-1zM461,134h1v1h-1zM461,135h1v1h-1zM461,136h1v1h-1zM461,137h1v1h-1zM461,138h1v1h-1zM461,139h1v1h-1zM461,151h1v1h-1zM462,107h1v1h-1zM462,116h1v1h-1zM462,118h1v1h-1zM462,119h1v1h-1zM462,122h1v1h-1zM462,124h1v1h-1zM462,125h1v1h-1zM462,126h1v1h-1zM462,127h1v1h-1zM462,128h1v1h-1zM462,129h1v1h-1zM462,130h1v1h-1zM462,131h1v1h-1zM462,136h1v1h-1zM462,137h1v1h-1zM462,139h1v1h-1zM462,142h1v1h-1zM463,114h1v1h-1zM463,115h1v1h-1zM463,120h1v1h-1zM463,121h1v1h-1zM463,123h1v1h-1zM463,124h1v1h-1zM463,125h1v1h-1zM463,126h1v1h-1zM463,127h1v1h-1zM463,128h1v1h-1zM463,129h1v1h-1zM463,130h1v1h-1zM463,132h1v1h-1zM463,133h1v1h-1zM463,135h1v1h-1zM463,137h1v1h-1zM463,138h1v1h-1zM463,140h1v1h-1zM463,144h1v1h-1zM464,114h1v1h-1zM464,115h1v1h-1zM464,116h1v1h-1zM464,117h1v1h-1zM464,118h1v1h-1zM464,119h1v1h-1zM464,120h1v1h-1zM464,121h1v1h-1zM464,122h1v1h-1zM464,125h1v1h-1zM464,126h1v1h-1zM464,127h1v1h-1zM464,128h1v1h-1zM464,129h1v1h-1zM464,130h1v1h-1zM464,131h1v1h-1zM464,133h1v1h-1zM464,134h1v1h-1zM464,135h1v1h-1zM464,137h1v1h-1zM464,138h1v1h-1zM464,141h1v1h-1zM464,145h1v1h-1zM465,108h1v1h-1zM465,111h1v1h-1zM465,114h1v1h-1zM465,117h1v1h-1zM465,118h1v1h-1zM465,122h1v1h-1zM465,124h1v1h-1zM465,125h1v1h-1zM465,126h1v1h-1zM465,128h1v1h-1zM465,129h1v1h-1zM465,131h1v1h-1zM465,132h1v1h-1zM465,133h1v1h-1zM465,134h1v1h-1zM465,136h1v1h-1zM466,110h1v1h-1zM466,113h1v1h-1zM466,114h1v1h-1zM466,119h1v1h-1zM466,121h1v1h-1zM466,122h1v1h-1zM466,127h1v1h-1zM466,129h1v1h-1zM466,132h1v1h-1zM467,108h1v1h-1zM467,114h1v1h-1zM467,121h1v1h-1zM467,124h1v1h-1zM467,127h1v1h-1zM467,128h1v1h-1zM467,129h1v1h-1zM467,134h1v1h-1zM467,137h1v1h-1zM467,146h1v1h-1zM468,116h1v1h-1zM468,118h1v1h-1zM468,120h1v1h-1zM468,124h1v1h-1zM468,125h1v1h-1zM468,126h1v1h-1zM468,130h1v1h-1zM469,116h1v1h-1zM470,122h1v1h-1zM470,138h1v1h-1z" fill="#b0b0b0" fill-opacity="1"/>
<path d="M433,111h1v1h-1zM434,108h1v1h-1zM435,103h1v1h-1zM436,104h1v1h-1zM438,100h1v1h-1zM438,108h1v1h-1zM438,115h1v1h-1zM439,104h1v1h-1zM439,113h1v1h-1zM440,94h1v1h-1zM440,101h1v1h-1zM440,106h1v1h-1zM441,105h1v1h-1zM441,106h1v1h-1zM441,107h1v1h-1zM441,108h1v1h-1zM441,110h1v1h-1zM441,113h1v1h-1zM442,89h1v1h-1zM442,101h1v1h-1zM442,107h1v1h-1zM442,121h1v1h-1zM443,85h1v1h-1zM443,88h1v1h-1zM443,94h1v1h-1zM443,99h1v1h-1zM443,100h1v1h-1zM443,101h1v1h-1zM443,102h1v1h-1zM443,105h1v1h-1zM443,111h1v1h-1zM443,113h1v1h-1zM443,114h1v1h-1zM444,89h1v1h-1zM444,94h1v1h-1zM444,95h1v1h-1zM444,98h1v1h-1zM444,103h1v1h-1zM444,104h1v1h-1zM444,111h1v1h-1zM444,112h1v1h-1zM444,113h1v1h-1zM444,117h1v1h-1zM445,84h1v1h-1zM445,88h1v1h-1zM445,89h1v1h-1zM445,93h1v1h-1zM445,96h1v1h-1zM445,99h1v1h-1zM445,100h1v1h-1zM445,103h1v1h-1zM445,104h1v1h-1zM445,106h1v1h-1zM445,107h1v1h-1zM445,108h1v1h-1zM445,109h1v1h-1zM445,112h1v1h-1zM445,116h1v1h-1zM446,77h1v1h-1zM446,85h1v1h-1zM446,90h1v1h-1zM446,92h1v1h-1zM446,93h1v1h-1zM446,94h1v1h-1zM446,96h1v1h-1zM446,97h1v1h-1zM446,98h1v1h-1zM446,99h1v1h-1zM446,100h1v1h-1zM446,101h1v1h-1zM446,103h1v1h-1zM446,104h1v1h-1zM446,105h1v1h-1zM446,106h1v1h-1zM446,107h1v1h-1zM446,109h1v1h-1zM446,110h1v1h-1zM446,111h1v1h-1zM446,112h1v1h-1zM446,114h1v1h-1zM446,115h1v1h-1zM447,79h1v1h-1zM447,83h1v1h-1zM447,88h1v1h-1zM447,89h1v1h-1zM447,90h1v1h-1zM447,91h1v1h-1zM447,92h1v1h-1zM447,96h1v1h-1zM447,97h1v1h-1zM447,98h1v1h-1zM447,100h1v1h-1zM447,101h1v1h-1zM447,102h1v1h-1zM447,103h1v1h-1zM447,104h1v1h-1zM447,105h1v1h-1zM447,106h1v1h-1zM447,107h1v1h-1zM447,108h1v1h-1zM447,109h1v1h-1zM447,110h1v1h-1zM447,111h1v1h-1zM447,114h1v1h-1zM447,115h1v1h-1zM448,80h1v1h-1zM448,88h1v1h-1zM448,90h1v1h-1zM448,94h1v1h-1zM448,99h1v1h-1zM448,100h1v1h-1zM448,101h1v1h-1zM448,102h1v1h-1zM448,104h1v1h-1zM448,105h1v1h-1zM448,106h1v1h-1zM448,109h1v1h-1zM448,110h1v1h-1zM448,112h1v1h-1zM448,113h1v1h-1zM448,115h1v1h-1zM448,116h1v1h-1zM448,117h1v1h-1zM448,119h1v1h-1zM449,78h1v1h-1zM449,80h1v1h-1zM449,84h1v1h-1zM449,86h1v1h-1zM449,88h1v1h-1zM449,90h1v1h-1zM449,92h1v1h-1zM449,93h1v1h-1zM449,96h1v1h-1zM449,97h1v1h-1zM449,98h1v1h-1zM449,99h1v1h-1zM449,100h1v1h-1zM449,101h1v1h-1zM449,103h1v1h-1zM449,104h1v1h-1zM449,105h1v1h-1zM449,106h1v1h-1zM449,107h1v1h-1zM449,110h1v1h-1zM449,111h1v1h-1zM449,112h1v1h-1zM449,117h1v1h-1zM450,75h1v1h-1zM450,77h1v1h-1zM450,85h1v1h-1zM450,87h1v1h-1zM450,88h1v1h-1zM450,89h1v1h-1zM450,90h1v1h-1zM450,93h1v1h-1zM450,94h1v1h-1zM450,95h1v1h-1zM450,96h1v1h-1zM450,97h1v1h-1zM450,98h1v1h-1zM450,100h1v1h-1zM450,101h1v1h-1zM450,102h1v1h-1zM450,103h1v1h-1zM450,104h1v1h-1zM450,105h1v1h-1zM450,106h1v1h-1zM450,107h1v1h-1zM450,109h1v1h-1zM450,110h1v1h-1zM450,111h1v1h-1zM450,112h1v1h-1zM450,115h1v1h-1zM450,118h1v1h-1zM451,75h1v1h-1zM451,77h1v1h-1zM451,78h1v1h-1zM451,79h1v1h-1zM451,80h1v1h-1zM451,83h1v1h-1zM451,84h1v1h-1zM451,86h1v1h-1zM451,87h1v1h-1zM451,88h1v1h-1zM451,89h1v1h-1zM451,90h1v1h-1zM451,92h1v1h-1zM451,94h1v1h-1zM451,95h1v1h-1zM451,96h1v1h-1zM451,98h1v1h-1zM451,99h1v1h-1zM451,100h1v1h-1zM451,101h1v1h-1zM451,102h1v1h-1zM451,103h1v1h-1zM451,104h1v1h-1zM451,105h1v1h-1zM451,107h1v1h-1zM451,108h1v1h-1zM451,109h1v1h-1zM451,110h1v1h-1zM451,111h1v1h-1zM451,112h1v1h-1zM451,113h1v1h-1zM451,114h1v1h-1zM451,115h1v1h-1zM451,116h1v1h-1zM451,119h1v1h-1zM452,65h1v1h-1zM452,79h1v1h-1zM452,81h1v1h-1zM452,83h1v1h-1zM452,84h1v1h-1zM452,85h1v1h-1zM452,89h1v1h-1zM452,90h1v1h-1zM452,91h1v1h-1zM452,92h1v1h-1zM452,93h1v1h-1zM452,94h1v1h-1zM452,95h1v1h-1zM452,96h1v1h-1zM452,97h1v1h-1zM452,98h1v1h-1zM452,99h1v1h-1zM452,100h1v1h-1zM452,101h1v1h-1zM452,102h1v1h-1zM452,103h1v1h-1zM452,104h1v1h-1zM452,105h1v1h-1zM452,106h1v1h-1zM452,107h1v1h-1zM452,108h1v1h-1zM452,109h1v1h-1zM452,110h1v1h-1zM452,111h1v1h-1zM452,113h1v1h-1zM452,121h1v1h-1zM453,69h1v1h-1zM453,72h1v1h-1zM453,73h1v1h-1zM453,76h1v1h-1zM453,79h1v1h-1zM453,80h1v1h-1zM453,81h1v1h-1zM453,82h1v1h-1zM453,83h1v1h-1zM453,85h1v1h-1zM453,86h1v1h-1zM453,87h1v1h-1zM453,88h1v1h-1zM453,89h1v1h-1zM453,90h1v1h-1zM453,91h1v1h-1zM453,93h1v1h-1zM453,94h1v1h-1zM453,95h1v1h-1zM453,96h1v1h-1zM453,98h1v1h-1zM453,99h1v1h-1zM453,101h1v1h-1zM453,102h1v1h-1zM453,103h1v1h-1zM453,104h1v1h-1zM453,105h1v1h-1zM453,107h1v1h-1zM453,108h1v1h-1zM453,112h1v1h-1zM453,115h1v1h-1zM453,118h1v1h-1zM454,66h1v1h-1zM454,73h1v1h-1zM454,75h1v1h-1zM454,76h1v1h-1zM454,77h1v1h-1zM454,78h1v1h-1zM454,81h1v1h-1zM454,82h1v1h-1zM454,84h1v1h-1zM454,85h1v1h-1zM454,86h1v1h-1zM454,88h1v1h-1zM454,89h1v1h-1zM454,90h1v1h-1zM454,91h1v1h-1zM454,93h1v1h-1zM454,94h1v1h-1zM454,95h1v1h-1zM454,96h1v1h-1zM454,97h1v1h-1zM454,99h1v1h-1zM454,101h1v1h-1zM454,102h1v1h-1zM454,103h1v1h-1zM454,104h1v1h-1zM454,105h1v1h-1zM454,106h1v1h-1zM454,107h1v1h-1zM454,108h1v1h-1zM454,111h1v1h-1zM454,112h1v1h-1zM454,114h1v1h-1zM454,115h1v1h-1zM455,69h1v1h-1zM455,74h1v1h-1zM455,76h1v1h-1zM455,77h1v1h-1zM455,78h1v1h-1zM455,79h1v1h-1zM455,81h1v1h-1zM455,82h1v1h-1zM455,83h1v1h-1zM455,84h1v1h-1zM455,85h1v1h-1zM455,86h1v1h-1zM455,87h1v1h-1zM455,88h1v1h-1zM455,89h1v1h-1zM455,90h1v1h-1zM455,91h1v1h-1zM455,92h1v1h-1zM455,93h1v1h-1zM455,94h1v1h-1zM455,95h1v1h-1zM455,96h1v1h-1zM455,98h1v1h-1zM455,99h1v1h-1zM455,101h1v1h-1zM455,102h1v1h-1zM455,103h1v1h-1zM455,104h1v1h-1zM455,105h1v1h-1zM455,106h1v1h-1zM455,107h1v1h-1zM455,108h1v1h-1zM455,109h1v1h-1zM455,110h1v1h-1zM455,112h1v1h-1zM455,113h1v1h-1zM456,72h1v1h-1zM456,75h1v1h-1zM456,76h1v1h-1zM456,78h1v1h-1zM456,79h1v1h-1zM456,80h1v1h-1zM456,81h1v1h-1zM456,82h1v1h-1zM456,83h1v1h-1zM456,85h1v1h-1zM456,88h1v1h-1zM456,89h1v1h-1zM456,90h1v1h-1zM456,91h1v1h-1zM456,93h1v1h-1zM456,94h1v1h-1zM456,95h1v1h-1zM456,96h1v1h-1zM456,97h1v1h-1zM456,98h1v1h-1zM456,99h1v1h-1zM456,100h1v1h-1zM456,101h1v1h-1zM456,102h1v1h-1zM456,103h1v1h-1zM456,104h1v1h-1zM456,105h1v1h-1zM456,106h1v1h-1zM456,107h1v1h-1zM456,108h1v1h-1zM456,109h1v1h-1zM456,112h1v1h-1zM456,114h1v1h-1zM456,118h1v1h-1zM456,119h1v1h-1zM457,65h1v1h-1zM457,73h1v1h-1zM457,74h1v1h-1zM457,75h1v1h-1zM457,77h1v1h-1zM457,79h1v1h-1zM457,81h1v1h-1zM457,82h1v1h-1zM457,83h1v1h-1zM457,86h1v1h-1zM457,87h1v1h-1zM457,88h1v1h-1zM457,89h1v1h-1zM457,90h1v1h-1zM457,91h1v1h-1zM457,92h1v1h-1zM457,93h1v1h-1zM457,94h1v1h-1zM457,95h1v1h-1zM457,96h1v1h-1zM457,97h1v1h-1zM457,98h1v1h-1zM457,99h1v1h-1zM457,100h1v1h-1zM457,101h1v1h-1zM457,102h1v1h-1zM457,103h1v1h-1zM457,104h1v1h-1zM457,105h1v1h-1zM457,106h1v1h-1zM457,107h1v1h-1zM457,108h1v1h-1zM457,111h1v1h-1zM458,68h1v1h-1zM458,71h1v1h-1zM458,72h1v1h-1zM458,73h1v1h-1zM458,75h1v1h-1zM458,76h1v1h-1zM458,78h1v1h-1zM458,79h1v1h-1zM458,80h1v1h-1zM458,81h1v1h-1zM458,82h1v1h-1zM458,83h1v1h-1zM458,84h1v1h-1zM458,85h1v1h-1zM458,86h1v1h-1zM458,87h1v1h-1zM458,88h1v1h-1zM458,89h1v1h-1zM458,90h1v1h-1zM458,91h1v1h-1zM458,92h1v1h-1zM458,93h1v1h-1zM458,94h1v1h-1zM458,95h1v1h-1zM458,96h1v1h-1zM458,97h1v1h-1zM458,98h1v1h-1zM458,99h1v1h-1zM458,100h1v1h-1zM458,101h1v1h-1zM458,102h1v1h-1zM458,103h1v1h-1zM458,105h1v1h-1zM458,107h1v1h-1zM458,108h1v1h-1zM458,109h1v1h-1zM458,111h1v1h-1zM459,72h1v1h-1zM459,73h1v1h-1zM459,74h1v1h-1zM459,75h1v1h-1zM459,76h1v1h-1zM459,77h1v1h-1zM459,78h1v1h-1zM459,79h1v1h-1zM459,80h1v1h-1zM459,82h1v1h-1zM459,83h1v1h-1zM459,84h1v1h-1zM459,86h1v1h-1zM459,87h1v1h-1zM459,88h1v1h-1zM459,89h1v1h-1zM459,90h1v1h-1zM459,91h1v1h-1zM459,92h1v1h-1zM459,93h1v1h-1zM459,94h1v1h-1zM459,96h1v1h-1zM459,97h1v1h-1zM459,98h1v1h-1zM459,99h1v1h-1zM459,100h1v1h-1zM459,102h1v1h-1zM459,103h1v1h-1zM459,104h1v1h-1zM459,105h1v1h-1zM459,113h1v1h-1zM459,116h1v1h-1zM460,75h1v1h-1zM460,76h1v1h-1zM460,78h1v1h-1zM460,79h1v1h-1zM460,80h1v1h-1zM460,81h1v1h-1zM460,83h1v1h-1zM460,84h1v1h-1zM460,85h1v1h-1zM460,86h1v1h-1zM460,87h1v1h-1zM460,88h1v1h-1zM460,89h1v1h-1zM460,90h1v1h-1zM460,91h1v1h-1zM460,93h1v1h-1zM460,94h1v1h-1zM460,95h1v1h-1zM460,96h1v1h-1zM460,97h1v1h-1zM460,98h1v1h-1zM460,100h1v1h-1zM460,101h1v1h-1zM460,102h1v1h-1zM460,104h1v1h-1zM460,105h1v1h-1zM460,112h1v1h-1zM461,66h1v1h-1zM461,67h1v1h-1zM461,74h1v1h-1zM461,75h1v1h-1zM461,76h1v1h-1zM461,77h1v1h-1zM461,79h1v1h-1zM461,81h1v1h-1zM461,82h1v1h-1zM461,83h1v1h-1zM461,84h1v1h-1zM461,85h1v1h-1zM461,86h1v1h-1zM461,87h1v1h-1zM461,88h1v1h-1zM461,89h1v1h-1zM461,90h1v1h-1zM461,92h1v1h-1zM461,93h1v1h-1zM461,94h1v1h-1zM461,96h1v1h-1zM461,98h1v1h-1zM461,99h1v1h-1zM461,100h1v1h-1zM461,102h1v1h-1zM461,103h1v1h-1zM461,104h1v1h-1zM461,107h1v1h-1zM461,108h1v1h-1zM461,109h1v1h-1zM462,72h1v1h-1zM462,74h1v1h-1zM462,75h1v1h-1zM462,78h1v1h-1zM462,79h1v1h-1zM462,80h1v1h-1zM462,81h1v1h-1zM462,82h1v1h-1zM462,83h1v1h-1zM462,84h1v1h-1zM462,85h1v1h-1zM462,86h1v1h-1zM462,87h1v1h-1zM462,88h1v1h-1zM462,89h1v1h-1zM462,90h1v1h-1zM462,91h1v1h-1zM462,92h1v1h-1zM462,93h1v1h-1zM462,94h1v1h-1zM462,95h1v1h-1zM462,96h1v1h-1zM462,97h1v1h-1zM462,98h1v1h-1zM462,101h1v1h-1zM462,105h1v1h-1zM462,114h1v1h-1zM463,60h1v1h-1zM463,74h1v1h-1zM463,79h1v1h-1zM463,80h1v1h-1zM463,82h1v1h-1zM463,83h1v1h-1zM463,84h1v1h-1zM463,86h1v1h-1zM463,87h1v1h-1zM463,88h1v1h-1zM463,89h1v1h-1zM463,90h1v1h-1zM463,91h1v1h-1zM463,92h1v1h-1zM463,93h1v1h-1zM463,94h1v1h-1zM463,95h1v1h-1zM463,97h1v1h-1zM463,98h1v1h-1zM463,99h1v1h-1zM463,106h1v1h-1zM463,113h1v1h-1zM464,71h1v1h-1zM464,72h1v1h-1zM464,75h1v1h-1zM464,76h1v1h-1zM464,77h1v1h-1zM464,78h1v1h-1zM464,80h1v1h-1zM464,81h1v1h-1zM464,83h1v1h-1zM464,84h1v1h-1zM464,85h1v1h-1zM464,86h1v1h-1zM464,87h1v1h-1zM464,88h1v1h-1zM464,89h1v1h-1zM464,90h1v1h-1zM464,91h1v1h-1zM464,92h1v1h-1zM464,97h1v1h-1zM464,98h1v1h-1zM464,100h1v1h-1zM464,101h1v1h-1zM464,104h1v1h-1zM465,70h1v1h-1zM465,72h1v1h-1zM465,74h1v1h-1zM465,76h1v1h-1zM465,77h1v1h-1zM465,78h1v1h-1zM465,79h1v1h-1zM465,81h1v1h-1zM465,82h1v1h-1zM465,83h1v1h-1zM465,85h1v1h-1zM465,86h1v1h-1zM465,87h1v1h-1zM465,91h1v1h-1zM465,92h1v1h-1zM465,94h1v1h-1zM465,95h1v1h-1zM465,99h1v1h-1zM465,101h1v1h-1zM465,105h1v1h-1zM466,68h1v1h-1zM466,77h1v1h-1zM466,80h1v1h-1zM466,82h1v1h-1zM466,83h1v1h-1zM466,84h1v1h-1zM466,85h1v1h-1zM466,87h1v1h-1zM466,88h1v1h-1zM466,89h1v1h-1zM466,99h1v1h-1zM466,100h1v1h-1zM467,68h1v1h-1zM467,69h1v1h-1zM467,72h1v1h-1zM467,75h1v1h-1zM467,77h1v1h-1zM467,78h1v1h-1zM467,79h1v1h-1zM467,82h1v1h-1zM467,83h1v1h-1zM467,84h1v1h-1zM467,86h1v1h-1zM467,88h1v1h-1zM467,92h1v1h-1zM467,104h1v1h-1zM467,110h1v1h-1zM468,76h1v1h-1zM468,78h1v1h-1zM468,79h1v1h-1zM468,81h1v1h-1zM468,85h1v1h-1zM468,86h1v1h-1zM468,88h1v1h-1zM469,75h1v1h-1zM469,84h1v1h-1zM469,85h1v1h-1zM469,94h1v1h-1z" fill="#b0b0b0" fill-opacity="1"/>
<path d="M441,127h1v1h-1zM444,125h1v1h-1zM445,115h1v1h-1zM445,125h1v1h-1zM445,127h1v1h-1zM445,132h1v1h-1zM445,137h1v1h-1zM446,120h1v1h-1zM446,122h1v1h-1zM446,125h1v1h-1zM446,128h1v1h-1zM447,113h1v1h-1zM447,117h1v1h-1zM447,123h1v1h-1zM447,125h1v1h-1zM447,128h1v1h-1zM447,130h1v1h-1zM448,119h1v1h-1zM448,121h1v1h-1zM448,122h1v1h-1zM448,124h1v1h-1zM448,126h1v1h-1zM448,130h1v1h-1zM448,144h1v1h-1zM449,123h1v1h-1zM449,124h1v1h-1zM449,125h1v1h-1zM449,126h1v1h-1zM449,127h1v1h-1zM449,128h1v1h-1zM449,130h1v1h-1zM449,131h1v1h-1zM449,132h1v1h-1zM449,134h1v1h-1zM449,135h1v1h-1zM450,116h1v1h-1zM450,118h1v1h-1zM450,120h1v1h-1zM450,121h1v1h-1zM450,122h1v1h-1zM450,123h1v1h-1zM450,124h1v1h-1zM450,127h1v1h-1zM450,129h1v1h-1zM451,114h1v1h-1zM451,116h1v1h-1zM451,117h1v1h-1zM451,119h1v1h-1zM451,121h1v1h-1zM451,124h1v1h-1zM451,125h1v1h-1zM451,127h1v1h-1zM451,128h1v1h-1zM451,130h1v1h-1zM451,131h1v1h-1zM451,138h1v1h-1zM452,114h1v1h-1zM452,118h1v1h-1zM452,120h1v1h-1zM452,121h1v1h-1zM452,123h1v1h-1zM452,124h1v1h-1zM452,126h1v1h-1zM452,127h1v1h-1zM452,129h1v1h-1zM452,130h1v1h-1zM452,132h1v1h-1zM452,134h1v1h-1zM453,114h1v1h-1zM453,116h1v1h-1zM453,117h1v1h-1zM453,118h1v1h-1zM453,119h1v1h-1zM453,121h1v1h-1zM453,122h1v1h-1zM453,123h1v1h-1zM453,124h1v1h-1zM453,125h1v1h-1zM453,126h1v1h-1zM453,128h1v1h-1zM453,129h1v1h-1zM453,130h1v1h-1zM453,131h1v1h-1zM453,132h1v1h-1zM453,134h1v1h-1zM454,112h1v1h-1zM454,114h1v1h-1zM454,117h1v1h-1zM454,120h1v1h-1zM454,121h1v1h-1zM454,122h1v1h-1zM454,123h1v1h-1zM454,124h1v1h-1zM454,125h1v1h-1zM454,126h1v1h-1zM454,127h1v1h-1zM454,128h1v1h-1zM454,129h1v1h-1zM454,130h1v1h-1zM454,131h1v1h-1zM454,134h1v1h-1zM455,114h1v1h-1zM455,115h1v1h-1zM455,116h1v1h-1zM455,117h1v1h-1zM455,119h1v1h-1zM455,120h1v1h-1zM455,121h1v1h-1zM455,122h1v1h-1zM455,123h1v1h-1zM455,124h1v1h-1zM455,125h1v1h-1zM455,126h1v1h-1zM455,127h1v1h-1zM455,128h1v1h-1zM455,129h1v1h-1zM455,130h1v1h-1zM455,131h1v1h-1zM455,132h1v1h-1zM456,116h1v1h-1zM456,117h1v1h-1zM456,119h1v1h-1zM456,120h1v1h-1zM456,121h1v1h-1zM456,122h1v1h-1zM456,123h1v1h-1zM456,124h1v1h-1zM456,125h1v1h-1zM456,126h1v1h-1zM456,127h1v1h-1zM456,128h1v1h-1zM456,129h1v1h-1zM456,131h1v1h-1zM456,133h1v1h-1zM456,134h1v1h-1zM456,138h1v1h-1zM457,112h1v1h-1zM457,114h1v1h-1zM457,116h1v1h-1zM457,117h1v1h-1zM457,119h1v1h-1zM457,120h1v1h-1zM457,122h1v1h-1zM457,124h1v1h-1zM457,126h1v1h-1zM457,127h1v1h-1zM457,128h1v1h-1zM457,129h1v1h-1zM457,130h1v1h-1zM457,132h1v1h-1zM457,134h1v1h-1zM458,113h1v1h-1zM458,115h1v1h-1zM458,118h1v1h-1zM458,121h1v1h-1zM458,122h1v1h-1zM458,123h1v1h-1zM458,124h1v1h-1zM458,125h1v1h-1zM458,127h1v1h-1zM458,128h1v1h-1zM458,131h1v1h-1zM458,132h1v1h-1zM458,139h1v1h-1zM459,109h1v1h-1zM459,116h1v1h-1zM459,118h1v1h-1zM459,119h1v1h-1zM459,121h1v1h-1zM459,122h1v1h-1zM459,123h1v1h-1zM459,124h1v1h-1zM459,125h1v1h-1zM459,126h1v1h-1zM459,127h1v1h-1zM459,129h1v1h-1zM459,130h1v1h-1zM459,131h1v1h-1zM459,132h1v1h-1zM459,133h1v1h-1zM459,136h1v1h-1zM460,116h1v1h-1zM460,118h1v1h-1zM460,119h1v1h-1zM460,120h1v1h-1zM460,121h1v1h-1zM460,122h1v1h-1zM460,123h1v1h-1zM460,124h1v1h-1zM460,126h1v1h-1zM460,127h1v1h-1zM460,128h1v1h-1zM460,130h1v1h-1zM460,131h1v1h-1zM460,132h1v1h-1zM460,133h1v1h-1zM460,134h1v1h-1zM460,137h1v1h-1zM461,119h1v1h-1zM461,121h1v1h-1zM461,122h1v1h-1zM461,123h1v1h-1zM461,125h1v1h-1zM461,126h1v1h-1zM461,128h1v1h-1zM461,132h1v1h-1zM461,134h1v1h-1zM461,135h1v1h-1zM462,119h1v1h-1zM462,121h1v1h-1zM462,122h1v1h-1zM462,123h1v1h-1zM462,128h1v1h-1zM462,129h1v1h-1zM462,132h1v1h-1zM462,133h1v1h-1zM462,134h1v1h-1zM462,136h1v1h-1zM462,141h1v1h-1zM463,115h1v1h-1zM463,117h1v1h-1zM463,118h1v1h-1zM463,119h1v1h-1zM463,124h1v1h-1zM463,126h1v1h-1zM463,128h1v1h-1zM463,129h1v1h-1zM463,131h1v1h-1zM463,133h1v1h-1zM464,114h1v1h-1zM464,118h1v1h-1zM464,119h1v1h-1zM464,120h1v1h-1zM464,127h1v1h-1zM464,129h1v1h-1zM464,130h1v1h-1zM464,138h1v1h-1zM465,115h1v1h-1zM465,120h1v1h-1zM465,130h1v1h-1zM465,134h1v1h-1zM466,113h1v1h-1zM466,124h1v1h-1zM466,126h1v1h-1zM466,128h1v1h-1zM466,129h1v1h-1zM467,124h1v1h-1zM467,128h1v1h-1zM467,129h1v1h-1zM467,133h1v1h-1zM468,118h1v1h-1zM468,122h1v1h-1zM468,126h1v1h-1zM469,111h1v1h-1z" fill="#a8a8a8" fill-opacity="1"/>
<path d="M441,135h1v1h-1zM443,90h1v1h-1zM443,97h1v1h-1zM443,118h1v1h-1zM443,126h1v1h-1zM445,137h1v1h-1zM446,114h1v1h-1zM447,86h1v1h-1zM447,91h1v1h-1zM447,137h1v1h-1zM448,136h1v1h-1zM450,99h1v1h-1zM450,101h1v1h-1zM450,110h1v1h-1zM451,88h1v1h-1zM451,102h1v1h-1zM451,137h1v1h-1zM452,98h1v1h-1zM452,111h1v1h-1zM452,114h1v1h-1zM452,125h1v1h-1zM456,92h1v1h-1zM456,107h1v1h-1zM458,89h1v1h-1zM458,100h1v1h-1zM459,112h1v1h-1zM459,127h1v1h-1zM461,86h1v1h-1zM461,135h1v1h-1zM461,143h1v1h-1zM462,110h1v1h-1zM463,142h1v1h-1zM464,97h1v1h-1zM464,124h1v1h-1zM465,106h1v1h-1zM465,121h1v1h-1zM466,106h1v1h-1zM466,141h1v1h-1zM467,110h1v1h-1z" fill="#222" fill-opacity="1"/>
<path d="M475.7,92.5 L475.4,92.5 L474.4,95.5 L472.5,99.0 L469.6,111.0 L469.3,122.0 L470.1,134.0 L471.2,141.0 L472.4,147.0 L479.0,147.0 L480.2,141.0 L481.3,134.0 L482.1,122.0 L481.8,111.0 L478.9,99.0 L477.0,95.5 L476.0,92.5 Z" fill="#111"/>
<path d="M464,117h1v1h-1zM465,111h1v1h-1zM465,116h1v1h-1zM465,123h1v1h-1zM465,125h1v1h-1zM465,133h1v1h-1zM466,110h1v1h-1zM466,112h1v1h-1zM466,113h1v1h-1zM466,114h1v1h-1zM466,116h1v1h-1zM466,118h1v1h-1zM466,120h1v1h-1zM466,121h1v1h-1zM466,124h1v1h-1zM466,125h1v1h-1zM466,126h1v1h-1zM466,127h1v1h-1zM466,130h1v1h-1zM466,132h1v1h-1zM466,137h1v1h-1zM467,101h1v1h-1zM467,106h1v1h-1zM467,107h1v1h-1zM467,108h1v1h-1zM467,109h1v1h-1zM467,111h1v1h-1zM467,112h1v1h-1zM467,113h1v1h-1zM467,114h1v1h-1zM467,115h1v1h-1zM467,116h1v1h-1zM467,118h1v1h-1zM467,119h1v1h-1zM467,120h1v1h-1zM467,121h1v1h-1zM467,122h1v1h-1zM467,123h1v1h-1zM467,124h1v1h-1zM467,125h1v1h-1zM467,126h1v1h-1zM467,127h1v1h-1zM467,128h1v1h-1zM467,129h1v1h-1zM467,130h1v1h-1zM467,131h1v1h-1zM467,132h1v1h-1zM467,133h1v1h-1zM467,134h1v1h-1zM467,135h1v1h-1zM467,142h1v1h-1zM468,102h1v1h-1zM468,103h1v1h-1zM468,105h1v1h-1zM468,106h1v1h-1zM468,107h1v1h-1zM468,108h1v1h-1zM468,109h1v1h-1zM468,110h1v1h-1zM468,111h1v1h-1zM468,112h1v1h-1zM468,113h1v1h-1zM468,114h1v1h-1zM468,115h1v1h-1zM468,116h1v1h-1zM468,117h1v1h-1zM468,118h1v1h-1zM468,119h1v1h-1zM468,120h1v1h-1zM468,121h1v1h-1zM468,122h1v1h-1zM468,123h1v1h-1zM468,124h1v1h-1zM468,125h1v1h-1zM468,126h1v1h-1zM468,127h1v1h-1zM468,128h1v1h-1zM468,129h1v1h-1zM468,130h1v1h-1zM468,131h1v1h-1zM468,132h1v1h-1zM468,133h1v1h-1zM468,134h1v1h-1zM468,135h1v1h-1zM468,136h1v1h-1zM468,137h1v1h-1zM468,138h1v1h-1zM468,139h1v1h-1zM468,142h1v1h-1zM469,98h1v1h-1zM469,100h1v1h-1zM469,101h1v1h-1zM469,102h1v1h-1zM469,103h1v1h-1zM469,104h1v1h-1zM469,105h1v1h-1zM469,106h1v1h-1zM469,107h1v1h-1zM469,108h1v1h-1zM469,109h1v1h-1zM469,110h1v1h-1zM469,111h1v1h-1zM469,112h1v1h-1zM469,113h1v1h-1zM469,114h1v1h-1zM469,116h1v1h-1zM469,117h1v1h-1zM469,118h1v1h-1zM469,119h1v1h-1zM469,120h1v1h-1zM469,121h1v1h-1zM469,123h1v1h-1zM469,124h1v1h-1zM469,125h1v1h-1zM469,126h1v1h-1zM469,127h1v1h-1zM469,128h1v1h-1zM469,129h1v1h-1zM469,130h1v1h-1zM469,131h1v1h-1zM469,132h1v1h-1zM469,133h1v1h-1zM469,134h1v1h-1zM469,135h1v1h-1zM469,136h1v1h-1zM469,137h1v1h-1zM469,138h1v1h-1zM469,139h1v1h-1zM469,140h1v1h-1zM469,141h1v1h-1zM469,142h1v1h-1zM469,143h1v1h-1zM469,144h1v1h-1zM469,145h1v1h-1zM469,146h1v1h-1zM470,98h1v1h-1zM470,99h1v1h-1zM470,100h1v1h-1zM470,101h1v1h-1zM470,102h1v1h-1zM470,103h1v1h-1zM470,104h1v1h-1zM470,105h1v1h-1zM470,106h1v1h-1zM470,107h1v1h-1zM470,108h1v1h-1zM470,133h1v1h-1zM470,134h1v1h-1zM470,135h1v1h-1zM470,136h1v1h-1zM470,137h1v1h-1zM470,138h1v1h-1zM470,139h1v1h-1zM470,140h1v1h-1zM470,141h1v1h-1zM470,142h1v1h-1zM470,143h1v1h-1zM470,144h1v1h-1zM470,145h1v1h-1zM470,146h1v1h-1zM471,97h1v1h-1zM471,98h1v1h-1zM471,99h1v1h-1zM471,100h1v1h-1zM471,101h1v1h-1zM471,102h1v1h-1zM471,103h1v1h-1zM471,104h1v1h-1zM471,140h1v1h-1zM471,142h1v1h-1zM471,143h1v1h-1zM471,144h1v1h-1zM471,145h1v1h-1zM471,146h1v1h-1zM472,96h1v1h-1zM472,97h1v1h-1zM472,98h1v1h-1zM472,99h1v1h-1zM472,145h1v1h-1zM472,146h1v1h-1zM473,93h1v1h-1zM473,94h1v1h-1zM473,95h1v1h-1zM473,96h1v1h-1zM473,97h1v1h-1zM474,93h1v1h-1zM474,94h1v1h-1zM474,95h1v1h-1zM476,93h1v1h-1zM476,94h1v1h-1zM477,94h1v1h-1zM477,95h1v1h-1zM477,96h1v1h-1zM478,95h1v1h-1zM478,96h1v1h-1zM478,97h1v1h-1zM478,98h1v1h-1zM479,95h1v1h-1zM479,96h1v1h-1zM479,97h1v1h-1zM479,98h1v1h-1zM479,99h1v1h-1zM479,100h1v1h-1zM479,101h1v1h-1zM479,142h1v1h-1zM479,143h1v1h-1zM479,144h1v1h-1zM479,145h1v1h-1zM479,146h1v1h-1zM480,98h1v1h-1zM480,99h1v1h-1zM480,100h1v1h-1zM480,101h1v1h-1zM480,102h1v1h-1zM480,103h1v1h-1zM480,104h1v1h-1zM480,105h1v1h-1zM480,136h1v1h-1zM480,137h1v1h-1zM480,138h1v1h-1zM480,139h1v1h-1zM480,140h1v1h-1zM480,142h1v1h-1zM480,143h1v1h-1zM480,144h1v1h-1zM480,145h1v1h-1zM480,146h1v1h-1zM481,100h1v1h-1zM481,101h1v1h-1zM481,102h1v1h-1zM481,103h1v1h-1zM481,104h1v1h-1zM481,105h1v1h-1zM481,106h1v1h-1zM481,107h1v1h-1zM481,108h1v1h-1zM481,109h1v1h-1zM481,110h1v1h-1zM481,111h1v1h-1zM481,112h1v1h-1zM481,115h1v1h-1zM481,124h1v1h-1zM481,125h1v1h-1zM481,126h1v1h-1zM481,127h1v1h-1zM481,129h1v1h-1zM481,130h1v1h-1zM481,132h1v1h-1zM481,133h1v1h-1zM481,134h1v1h-1zM481,135h1v1h-1zM481,136h1v1h-1zM481,137h1v1h-1zM481,138h1v1h-1zM481,139h1v1h-1zM481,140h1v1h-1zM481,141h1v1h-1zM481,142h1v1h-1zM481,143h1v1h-1zM481,144h1v1h-1zM481,145h1v1h-1zM481,146h1v1h-1zM482,100h1v1h-1zM482,103h1v1h-1zM482,104h1v1h-1zM482,105h1v1h-1zM482,106h1v1h-1zM482,107h1v1h-1zM482,108h1v1h-1zM482,109h1v1h-1zM482,110h1v1h-1zM482,111h1v1h-1zM482,112h1v1h-1zM482,113h1v1h-1zM482,114h1v1h-1zM482,115h1v1h-1zM482,116h1v1h-1zM482,117h1v1h-1zM482,118h1v1h-1zM482,119h1v1h-1zM482,120h1v1h-1zM482,121h1v1h-1zM482,122h1v1h-1zM482,123h1v1h-1zM482,124h1v1h-1zM482,125h1v1h-1zM482,126h1v1h-1zM482,127h1v1h-1zM482,128h1v1h-1zM482,129h1v1h-1zM482,130h1v1h-1zM482,131h1v1h-1zM482,132h1v1h-1zM482,133h1v1h-1zM482,134h1v1h-1zM482,135h1v1h-1zM482,136h1v1h-1zM482,137h1v1h-1zM482,138h1v1h-1zM482,139h1v1h-1zM482,140h1v1h-1zM482,142h1v1h-1zM482,143h1v1h-1zM482,144h1v1h-1zM482,145h1v1h-1zM482,146h1v1h-1zM483,106h1v1h-1zM483,107h1v1h-1zM483,108h1v1h-1zM483,109h1v1h-1zM483,110h1v1h-1zM483,111h1v1h-1zM483,112h1v1h-1zM483,113h1v1h-1zM483,114h1v1h-1zM483,115h1v1h-1zM483,116h1v1h-1zM483,120h1v1h-1zM483,121h1v1h-1zM483,122h1v1h-1zM483,123h1v1h-1zM483,124h1v1h-1zM483,125h1v1h-1zM483,126h1v1h-1zM483,127h1v1h-1zM483,128h1v1h-1zM483,129h1v1h-1zM483,130h1v1h-1zM483,131h1v1h-1zM483,132h1v1h-1zM483,133h1v1h-1zM483,134h1v1h-1zM483,135h1v1h-1zM483,136h1v1h-1zM483,138h1v1h-1zM483,139h1v1h-1zM483,140h1v1h-1zM483,141h1v1h-1zM483,142h1v1h-1zM484,109h1v1h-1zM484,112h1v1h-1zM484,113h1v1h-1zM484,114h1v1h-1zM484,115h1v1h-1zM484,116h1v1h-1zM484,117h1v1h-1zM484,118h1v1h-1zM484,120h1v1h-1zM484,121h1v1h-1zM484,122h1v1h-1zM484,124h1v1h-1zM484,125h1v1h-1zM484,127h1v1h-1zM484,130h1v1h-1zM484,134h1v1h-1zM484,135h1v1h-1zM484,137h1v1h-1zM484,144h1v1h-1zM485,112h1v1h-1zM485,114h1v1h-1zM485,118h1v1h-1zM485,120h1v1h-1zM485,123h1v1h-1zM485,125h1v1h-1zM485,126h1v1h-1zM485,127h1v1h-1zM486,107h1v1h-1zM486,109h1v1h-1zM486,113h1v1h-1zM486,114h1v1h-1zM486,115h1v1h-1z" fill="#111" fill-opacity="1"/>
<path d="M463,112h1v1h-1zM464,125h1v1h-1zM464,129h1v1h-1zM465,102h1v1h-1zM465,109h1v1h-1zM467,120h1v1h-1zM468,124h1v1h-1zM468,134h1v1h-1zM469,92h1v1h-1zM469,124h1v1h-1zM469,137h1v1h-1zM469,145h1v1h-1zM470,112h1v1h-1zM470,145h1v1h-1zM471,104h1v1h-1zM472,85h1v1h-1zM473,85h1v1h-1zM474,90h1v1h-1zM474,129h1v1h-1zM475,128h1v1h-1zM476,81h1v1h-1zM476,84h1v1h-1zM476,89h1v1h-1zM476,134h1v1h-1zM476,141h1v1h-1zM478,79h1v1h-1zM478,134h1v1h-1zM478,135h1v1h-1zM478,142h1v1h-1zM479,97h1v1h-1zM479,108h1v1h-1zM479,135h1v1h-1zM480,86h1v1h-1zM480,108h1v1h-1zM480,110h1v1h-1zM480,130h1v1h-1zM480,145h1v1h-1zM481,94h1v1h-1zM481,132h1v1h-1zM482,113h1v1h-1zM482,116h1v1h-1zM482,129h1v1h-1zM482,137h1v1h-1zM483,122h1v1h-1zM483,139h1v1h-1zM485,122h1v1h-1zM485,138h1v1h-1zM487,91h1v1h-1zM498,142h1v1h-1z" fill="#111" fill-opacity="1"/>
<path d="M471,92h1v1h-1zM473,87h1v1h-1zM474,88h1v1h-1zM474,92h1v1h-1zM475,78h1v1h-1zM475,91h1v1h-1zM476,81h1v1h-1zM476,86h1v1h-1zM476,87h1v1h-1zM476,89h1v1h-1zM476,91h1v1h-1zM477,85h1v1h-1zM477,89h1v1h-1zM477,91h1v1h-1zM478,85h1v1h-1zM478,86h1v1h-1zM478,90h1v1h-1zM480,89h1v1h-1zM482,88h1v1h-1z" fill="#111" fill-opacity="1"/>
</g>
<path d="M432.3,67.8 V110 H466.2 V67.8" fill="none" stroke="#777" stroke-width="0.8"/>
<rect x="426.6" y="67.8" width="78.19999999999999" height="78.50000000000001" fill="none" stroke="#111" stroke-width="1.1"/>
<text x="423.10" y="146.40" font-size="7.3" text-anchor="end" fill="#1a1a1a">10<tspan font-size="5.26" dy="-3.2">0</tspan></text>
<text x="424.90" y="156.10" font-size="7.3" text-anchor="start" fill="#1a1a1a">10<tspan font-size="5.26" dy="-3.2">0</tspan></text>
<text x="423.10" y="127.30" font-size="7.3" text-anchor="end" fill="#1a1a1a">10<tspan font-size="5.26" dy="-3.2">1</tspan></text>
<text x="444.00" y="156.10" font-size="7.3" text-anchor="start" fill="#1a1a1a">10<tspan font-size="5.26" dy="-3.2">1</tspan></text>
<text x="423.10" y="108.20" font-size="7.3" text-anchor="end" fill="#1a1a1a">10<tspan font-size="5.26" dy="-3.2">2</tspan></text>
<text x="463.10" y="156.10" font-size="7.3" text-anchor="start" fill="#1a1a1a">10<tspan font-size="5.26" dy="-3.2">2</tspan></text>
<text x="423.10" y="89.10" font-size="7.3" text-anchor="end" fill="#1a1a1a">10<tspan font-size="5.26" dy="-3.2">3</tspan></text>
<text x="482.20" y="156.10" font-size="7.3" text-anchor="start" fill="#1a1a1a">10<tspan font-size="5.26" dy="-3.2">3</tspan></text>
<text x="423.10" y="70.00" font-size="7.3" text-anchor="end" fill="#1a1a1a">10<tspan font-size="5.26" dy="-3.2">4</tspan></text>
<text x="501.30" y="156.10" font-size="7.3" text-anchor="start" fill="#1a1a1a">10<tspan font-size="5.26" dy="-3.2">4</tspan></text>
<text x="366.60" y="77.60" font-size="7.2" text-anchor="start" fill="#1a1a1a" textLength="26.1" lengthAdjust="spacingAndGlyphs" >1.5 &#177; 0.8</text>
<text x="464.80" y="77.60" font-size="7.2" text-anchor="start" fill="#1a1a1a" textLength="33" lengthAdjust="spacingAndGlyphs" >6.2 &#177; 3.3**</text>
<text x="9.50" y="357.80" font-size="11.8" text-anchor="start" fill="#1a1a1a" textLength="6.3" lengthAdjust="spacingAndGlyphs" >E</text>
<text x="102.00" y="372.00" font-size="9.5" text-anchor="middle" fill="#1a1a1a" textLength="12.5" lengthAdjust="spacingAndGlyphs" >ctrl</text>
<text x="204.50" y="371.20" font-size="9.5" text-anchor="middle" fill="#1a1a1a" textLength="49.6" lengthAdjust="spacingAndGlyphs" >LMP1/CD30</text>
<line x1="38.30" y1="474.20" x2="38.30" y2="382.10" stroke="#111" stroke-width="1.3" />
<path d="M38.3,377.1 L41.699999999999996,385.1 L38.3,383.5 L34.9,385.1Z" fill="#111"/>
<line x1="37.65" y1="473.60" x2="239.50" y2="473.60" stroke="#111" stroke-width="1.3" />
<path d="M244.5,473.6 L236.5,470.3 L238.1,473.6 L236.5,476.90000000000003Z" fill="#111"/>
<text x="0" y="0" font-size="9.5" text-anchor="middle" fill="#1a1a1a" textLength="27.8" lengthAdjust="spacingAndGlyphs" transform="translate(33.10,426.50) rotate(-90)">CD138</text>
<text x="129.80" y="484.70" font-size="8.6" text-anchor="start" fill="#1a1a1a" textLength="20" lengthAdjust="spacingAndGlyphs" >B220</text>
<path d="M79,387h1v1h-1zM81,432h1v1h-1zM82,420h1v1h-1zM82,424h1v1h-1zM85,435h1v1h-1zM89,440h1v1h-1zM90,411h1v1h-1zM90,412h1v1h-1zM91,408h1v1h-1zM91,411h1v1h-1zM91,439h1v1h-1zM95,403h1v1h-1zM95,404h1v1h-1zM95,441h1v1h-1zM99,442h1v1h-1zM103,401h1v1h-1zM108,401h1v1h-1zM112,440h1v1h-1zM113,402h1v1h-1zM115,399h1v1h-1zM115,436h1v1h-1zM115,440h1v1h-1zM116,403h1v1h-1zM116,408h1v1h-1zM116,410h1v1h-1zM116,415h1v1h-1zM116,419h1v1h-1zM116,425h1v1h-1zM117,407h1v1h-1zM117,416h1v1h-1zM117,417h1v1h-1zM117,418h1v1h-1zM118,425h1v1h-1zM118,426h1v1h-1zM119,431h1v1h-1zM120,392h1v1h-1zM123,437h1v1h-1zM130,422h1v1h-1z" fill="#b4b4b4" fill-opacity="1"/>
<path d="M105.80,441.13 L105.30,441.21 L104.80,441.24 L104.30,441.25 L103.80,441.25 L103.30,441.25 L102.80,441.25 L102.30,441.21 L101.80,441.12 L101.55,441.08 L101.05,441.04 L100.55,441.02 L100.05,441.02 L99.55,441.01 L99.05,441.00 L98.55,440.99 L98.05,440.97 L97.55,440.91 L97.27,440.85 L96.80,440.77 L96.30,440.71 L95.80,440.67 L95.31,440.60 L95.05,440.55 L94.55,440.44 L94.16,440.35 L93.80,440.27 L93.30,440.14 L93.05,440.07 L92.55,439.92 L92.30,439.83 L91.80,439.67 L91.55,439.59 L91.05,439.44 L90.79,439.35 L90.30,439.18 L90.05,439.09 L89.55,438.89 L89.30,438.78 L88.96,438.60 L88.55,438.36 L88.30,438.21 L88.05,438.03 L87.80,437.85 L87.49,437.60 L87.23,437.35 L87.00,437.10 L86.80,436.84 L86.55,436.51 L86.30,436.20 L86.05,435.90 L85.82,435.60 L85.63,435.35 L85.43,435.10 L85.23,434.85 L85.03,434.60 L84.80,434.29 L84.55,433.95 L84.30,433.60 L84.11,433.35 L83.94,433.10 L83.78,432.85 L83.55,432.49 L83.31,432.10 L83.15,431.85 L83.02,431.60 L82.81,431.10 L82.73,430.85 L82.60,430.35 L82.55,430.09 L82.45,429.60 L82.36,429.10 L82.32,428.60 L82.36,428.10 L82.45,427.60 L82.52,427.10 L82.54,426.60 L82.55,426.10 L82.55,425.82 L82.55,425.35 L82.56,424.85 L82.56,424.35 L82.57,423.85 L82.58,423.35 L82.62,422.85 L82.71,422.35 L82.80,422.01 L82.90,421.60 L83.05,421.12 L83.14,420.85 L83.30,420.47 L83.47,420.10 L83.61,419.85 L83.80,419.54 L84.05,419.15 L84.25,418.85 L84.42,418.60 L84.59,418.35 L84.80,418.06 L85.05,417.73 L85.30,417.40 L85.53,417.10 L85.73,416.85 L85.96,416.60 L86.20,416.35 L86.45,416.10 L86.70,415.85 L86.95,415.60 L87.21,415.35 L87.48,415.10 L87.78,414.85 L88.05,414.64 L88.30,414.45 L88.55,414.24 L88.80,414.03 L89.05,413.84 L89.36,413.60 L89.67,413.35 L89.95,413.10 L90.21,412.85 L90.46,412.60 L90.71,412.35 L90.96,412.10 L91.21,411.85 L91.44,411.60 L91.66,411.35 L91.85,411.10 L92.05,410.85 L92.30,410.54 L92.55,410.24 L92.80,409.93 L93.04,409.60 L93.23,409.35 L93.42,409.10 L93.60,408.85 L93.80,408.57 L94.05,408.20 L94.30,407.85 L94.48,407.60 L94.67,407.35 L94.85,407.10 L95.05,406.82 L95.30,406.44 L95.53,406.10 L95.69,405.85 L95.87,405.60 L96.05,405.35 L96.30,405.04 L96.55,404.77 L96.80,404.53 L97.05,404.30 L97.31,404.10 L97.70,403.85 L98.05,403.67 L98.30,403.55 L98.80,403.37 L99.05,403.28 L99.55,403.15 L99.81,403.10 L100.30,402.97 L100.80,402.86 L101.05,402.81 L101.55,402.70 L101.95,402.60 L102.30,402.52 L102.80,402.43 L103.20,402.35 L103.55,402.25 L104.05,402.15 L104.51,402.10 L104.80,402.07 L105.30,402.02 L105.80,401.93 L106.27,401.85 L106.55,401.81 L107.05,401.78 L107.55,401.78 L108.05,401.79 L108.55,401.81 L109.05,401.84 L109.30,401.85 L109.80,401.88 L110.30,401.91 L110.80,401.95 L111.30,402.05 L111.55,402.12 L112.05,402.30 L112.30,402.40 L112.76,402.60 L113.05,402.75 L113.30,402.90 L113.60,403.10 L113.95,403.35 L114.29,403.60 L114.55,403.80 L114.80,404.02 L115.05,404.32 L115.24,404.60 L115.38,404.85 L115.55,405.21 L115.71,405.60 L115.80,405.90 L115.92,406.35 L115.99,406.85 L116.02,407.35 L116.05,407.64 L116.13,408.10 L116.22,408.60 L116.25,409.10 L116.26,409.60 L116.26,410.10 L116.26,410.60 L116.26,411.10 L116.26,411.60 L116.27,412.10 L116.27,412.60 L116.27,413.10 L116.27,413.60 L116.27,414.10 L116.27,414.60 L116.28,415.10 L116.28,415.60 L116.29,416.10 L116.29,416.60 L116.30,416.96 L116.31,417.35 L116.32,417.85 L116.30,418.30 L116.27,418.60 L116.21,419.10 L116.17,419.60 L116.18,420.10 L116.20,420.60 L116.23,421.10 L116.26,421.60 L116.28,422.10 L116.30,422.39 L116.33,422.85 L116.35,423.35 L116.33,423.85 L116.30,424.10 L116.25,424.60 L116.24,425.10 L116.27,425.60 L116.30,425.85 L116.42,426.35 L116.49,426.85 L116.52,427.35 L116.53,427.85 L116.54,428.35 L116.54,428.85 L116.54,429.35 L116.54,429.85 L116.54,430.35 L116.54,430.85 L116.53,431.35 L116.52,431.85 L116.50,432.35 L116.45,432.85 L116.34,433.35 L116.28,433.60 L116.18,434.10 L116.05,434.53 L115.95,434.85 L115.80,435.22 L115.63,435.60 L115.51,435.85 L115.30,436.24 L115.11,436.60 L114.97,436.85 L114.80,437.12 L114.55,437.50 L114.30,437.85 L114.13,438.10 L113.95,438.35 L113.76,438.60 L113.55,438.86 L113.30,439.12 L113.03,439.35 L112.66,439.60 L112.30,439.80 L112.05,439.92 L111.58,440.10 L111.30,440.20 L110.80,440.33 L110.55,440.39 L110.05,440.51 L109.58,440.60 L109.30,440.65 L108.80,440.71 L108.30,440.80 L108.02,440.85 L107.55,440.94 L107.05,440.97 L106.55,441.01 L106.05,441.08 L105.80,441.13Z" fill="#f3f3f3" stroke="none"/>
<path d="M105.80,441.13 L105.30,441.21 L104.80,441.24 L104.30,441.25 L103.80,441.25 L103.30,441.25 L102.80,441.25 L102.30,441.21 L101.80,441.12 L101.55,441.08 L101.05,441.04 L100.55,441.02 L100.05,441.02 L99.55,441.01 L99.05,441.00 L98.55,440.99 L98.05,440.97 L97.55,440.91 L97.27,440.85 L96.80,440.77 L96.30,440.71 L95.80,440.67 L95.31,440.60 L95.05,440.55 L94.55,440.44 L94.16,440.35 L93.80,440.27 L93.30,440.14 L93.05,440.07 L92.55,439.92 L92.30,439.83 L91.80,439.67 L91.55,439.59 L91.05,439.44 L90.79,439.35 L90.30,439.18 L90.05,439.09 L89.55,438.89 L89.30,438.78 L88.96,438.60 L88.55,438.36 L88.30,438.21 L88.05,438.03 L87.80,437.85 L87.49,437.60 L87.23,437.35 L87.00,437.10 L86.80,436.84 L86.55,436.51 L86.30,436.20 L86.05,435.90 L85.82,435.60 L85.63,435.35 L85.43,435.10 L85.23,434.85 L85.03,434.60 L84.80,434.29 L84.55,433.95 L84.30,433.60 L84.11,433.35 L83.94,433.10 L83.78,432.85 L83.55,432.49 L83.31,432.10 L83.15,431.85 L83.02,431.60 L82.81,431.10 L82.73,430.85 L82.60,430.35 L82.55,430.09 L82.45,429.60 L82.36,429.10 L82.32,428.60 L82.36,428.10 L82.45,427.60 L82.52,427.10 L82.54,426.60 L82.55,426.10 L82.55,425.82 L82.55,425.35 L82.56,424.85 L82.56,424.35 L82.57,423.85 L82.58,423.35 L82.62,422.85 L82.71,422.35 L82.80,422.01 L82.90,421.60 L83.05,421.12 L83.14,420.85 L83.30,420.47 L83.47,420.10 L83.61,419.85 L83.80,419.54 L84.05,419.15 L84.25,418.85 L84.42,418.60 L84.59,418.35 L84.80,418.06 L85.05,417.73 L85.30,417.40 L85.53,417.10 L85.73,416.85 L85.96,416.60 L86.20,416.35 L86.45,416.10 L86.70,415.85 L86.95,415.60 L87.21,415.35 L87.48,415.10 L87.78,414.85 L88.05,414.64 L88.30,414.45 L88.55,414.24 L88.80,414.03 L89.05,413.84 L89.36,413.60 L89.67,413.35 L89.95,413.10 L90.21,412.85 L90.46,412.60 L90.71,412.35 L90.96,412.10 L91.21,411.85 L91.44,411.60 L91.66,411.35 L91.85,411.10 L92.05,410.85 L92.30,410.54 L92.55,410.24 L92.80,409.93 L93.04,409.60 L93.23,409.35 L93.42,409.10 L93.60,408.85 L93.80,408.57 L94.05,408.20 L94.30,407.85 L94.48,407.60 L94.67,407.35 L94.85,407.10 L95.05,406.82 L95.30,406.44 L95.53,406.10 L95.69,405.85 L95.87,405.60 L96.05,405.35 L96.30,405.04 L96.55,404.77 L96.80,404.53 L97.05,404.30 L97.31,404.10 L97.70,403.85 L98.05,403.67 L98.30,403.55 L98.80,403.37 L99.05,403.28 L99.55,403.15 L99.81,403.10 L100.30,402.97 L100.80,402.86 L101.05,402.81 L101.55,402.70 L101.95,402.60 L102.30,402.52 L102.80,402.43 L103.20,402.35 L103.55,402.25 L104.05,402.15 L104.51,402.10 L104.80,402.07 L105.30,402.02 L105.80,401.93 L106.27,401.85 L106.55,401.81 L107.05,401.78 L107.55,401.78 L108.05,401.79 L108.55,401.81 L109.05,401.84 L109.30,401.85 L109.80,401.88 L110.30,401.91 L110.80,401.95 L111.30,402.05 L111.55,402.12 L112.05,402.30 L112.30,402.40 L112.76,402.60 L113.05,402.75 L113.30,402.90 L113.60,403.10 L113.95,403.35 L114.29,403.60 L114.55,403.80 L114.80,404.02 L115.05,404.32 L115.24,404.60 L115.38,404.85 L115.55,405.21 L115.71,405.60 L115.80,405.90 L115.92,406.35 L115.99,406.85 L116.02,407.35 L116.05,407.64 L116.13,408.10 L116.22,408.60 L116.25,409.10 L116.26,409.60 L116.26,410.10 L116.26,410.60 L116.26,411.10 L116.26,411.60 L116.27,412.10 L116.27,412.60 L116.27,413.10 L116.27,413.60 L116.27,414.10 L116.27,414.60 L116.28,415.10 L116.28,415.60 L116.29,416.10 L116.29,416.60 L116.30,416.96 L116.31,417.35 L116.32,417.85 L116.30,418.30 L116.27,418.60 L116.21,419.10 L116.17,419.60 L116.18,420.10 L116.20,420.60 L116.23,421.10 L116.26,421.60 L116.28,422.10 L116.30,422.39 L116.33,422.85 L116.35,423.35 L116.33,423.85 L116.30,424.10 L116.25,424.60 L116.24,425.10 L116.27,425.60 L116.30,425.85 L116.42,426.35 L116.49,426.85 L116.52,427.35 L116.53,427.85 L116.54,428.35 L116.54,428.85 L116.54,429.35 L116.54,429.85 L116.54,430.35 L116.54,430.85 L116.53,431.35 L116.52,431.85 L116.50,432.35 L116.45,432.85 L116.34,433.35 L116.28,433.60 L116.18,434.10 L116.05,434.53 L115.95,434.85 L115.80,435.22 L115.63,435.60 L115.51,435.85 L115.30,436.24 L115.11,436.60 L114.97,436.85 L114.80,437.12 L114.55,437.50 L114.30,437.85 L114.13,438.10 L113.95,438.35 L113.76,438.60 L113.55,438.86 L113.30,439.12 L113.03,439.35 L112.66,439.60 L112.30,439.80 L112.05,439.92 L111.58,440.10 L111.30,440.20 L110.80,440.33 L110.55,440.39 L110.05,440.51 L109.58,440.60 L109.30,440.65 L108.80,440.71 L108.30,440.80 L108.02,440.85 L107.55,440.94 L107.05,440.97 L106.55,441.01 L106.05,441.08 L105.80,441.13Z" fill="none" stroke="#888888" stroke-width="0.65"/>
<path d="M105.30,440.35 L104.80,440.40 L104.30,440.42 L103.80,440.43 L103.30,440.44 L102.80,440.43 L102.30,440.38 L102.05,440.34 L101.55,440.27 L101.05,440.24 L100.55,440.23 L100.05,440.21 L99.55,440.20 L99.05,440.18 L98.55,440.15 L98.05,440.11 L97.80,440.07 L97.30,439.97 L96.80,439.87 L96.55,439.84 L96.05,439.78 L95.55,439.70 L95.11,439.60 L94.80,439.52 L94.30,439.39 L94.05,439.33 L93.55,439.18 L93.30,439.10 L92.80,438.93 L92.55,438.83 L92.05,438.65 L91.80,438.57 L91.30,438.40 L91.05,438.30 L90.55,438.11 L90.30,438.00 L89.96,437.85 L89.55,437.64 L89.30,437.50 L89.05,437.34 L88.71,437.10 L88.39,436.85 L88.11,436.60 L87.88,436.35 L87.68,436.10 L87.49,435.85 L87.29,435.60 L87.05,435.31 L86.80,434.98 L86.55,434.64 L86.33,434.35 L86.13,434.10 L85.94,433.85 L85.75,433.60 L85.55,433.31 L85.30,432.96 L85.06,432.60 L84.89,432.35 L84.74,432.10 L84.55,431.80 L84.30,431.38 L84.15,431.10 L84.04,430.85 L83.87,430.35 L83.80,430.08 L83.71,429.60 L83.62,429.10 L83.58,428.60 L83.63,428.10 L83.70,427.60 L83.73,427.10 L83.75,426.60 L83.75,426.10 L83.76,425.60 L83.77,425.10 L83.78,424.60 L83.79,424.10 L83.80,423.85 L83.83,423.35 L83.91,422.85 L84.03,422.35 L84.09,422.10 L84.24,421.60 L84.32,421.35 L84.53,420.85 L84.66,420.60 L84.80,420.35 L85.05,419.97 L85.29,419.60 L85.46,419.35 L85.64,419.10 L85.82,418.85 L86.05,418.54 L86.30,418.21 L86.55,417.88 L86.78,417.60 L87.01,417.35 L87.25,417.10 L87.50,416.85 L87.75,416.60 L88.01,416.35 L88.29,416.10 L88.55,415.89 L88.80,415.70 L89.05,415.50 L89.30,415.30 L89.55,415.09 L89.86,414.85 L90.18,414.60 L90.49,414.35 L90.76,414.10 L91.02,413.85 L91.27,413.60 L91.52,413.35 L91.78,413.10 L92.03,412.85 L92.27,412.60 L92.51,412.35 L92.72,412.10 L92.92,411.85 L93.11,411.60 L93.32,411.35 L93.55,411.07 L93.80,410.76 L94.05,410.43 L94.30,410.10 L94.49,409.85 L94.67,409.60 L94.85,409.35 L95.05,409.05 L95.30,408.69 L95.55,408.35 L95.74,408.10 L95.92,407.85 L96.10,407.60 L96.30,407.30 L96.55,406.92 L96.76,406.60 L96.93,406.35 L97.12,406.10 L97.32,405.85 L97.55,405.60 L97.82,405.35 L98.15,405.10 L98.55,404.87 L98.80,404.75 L99.18,404.60 L99.55,404.48 L100.03,404.35 L100.30,404.28 L100.80,404.14 L101.05,404.08 L101.55,403.95 L101.90,403.85 L102.30,403.73 L102.76,403.60 L103.05,403.53 L103.55,403.39 L103.80,403.31 L104.30,403.16 L104.63,403.10 L105.05,403.04 L105.55,402.97 L106.05,402.87 L106.30,402.82 L106.80,402.75 L107.30,402.73 L107.80,402.74 L108.30,402.77 L108.80,402.81 L109.17,402.85 L109.55,402.90 L110.05,402.96 L110.55,403.05 L110.80,403.10 L111.30,403.27 L111.55,403.37 L112.05,403.60 L112.30,403.73 L112.55,403.88 L112.88,404.10 L113.22,404.35 L113.54,404.60 L113.80,404.83 L114.04,405.10 L114.21,405.35 L114.34,405.60 L114.54,406.10 L114.62,406.35 L114.73,406.85 L114.78,407.35 L114.80,407.60 L114.86,408.10 L114.95,408.60 L115.01,409.10 L115.04,409.60 L115.04,410.10 L115.05,410.60 L115.05,410.85 L115.05,411.35 L115.06,411.85 L115.06,412.35 L115.06,412.85 L115.06,413.35 L115.07,413.85 L115.07,414.35 L115.07,414.85 L115.08,415.35 L115.08,415.85 L115.09,416.35 L115.10,416.85 L115.12,417.35 L115.11,417.85 L115.08,418.35 L115.05,418.61 L115.01,419.10 L115.02,419.60 L115.05,420.08 L115.07,420.35 L115.12,420.85 L115.18,421.35 L115.23,421.85 L115.29,422.35 L115.32,422.60 L115.38,423.10 L115.40,423.60 L115.39,424.10 L115.38,424.60 L115.41,425.10 L115.47,425.60 L115.55,426.05 L115.62,426.35 L115.72,426.85 L115.78,427.35 L115.80,427.79 L115.81,428.10 L115.82,428.60 L115.83,429.10 L115.83,429.60 L115.83,430.10 L115.82,430.60 L115.80,431.10 L115.79,431.35 L115.77,431.85 L115.72,432.35 L115.64,432.85 L115.55,433.20 L115.45,433.60 L115.31,434.10 L115.23,434.35 L115.05,434.79 L114.91,435.10 L114.78,435.35 L114.55,435.76 L114.35,436.10 L114.20,436.35 L114.04,436.60 L113.80,436.95 L113.55,437.29 L113.31,437.60 L113.11,437.85 L112.91,438.10 L112.67,438.35 L112.37,438.60 L112.05,438.80 L111.80,438.94 L111.44,439.10 L111.05,439.25 L110.75,439.35 L110.30,439.47 L109.80,439.60 L109.55,439.66 L109.05,439.76 L108.55,439.84 L108.30,439.89 L107.80,440.00 L107.30,440.08 L107.05,440.11 L106.55,440.16 L106.05,440.22 L105.55,440.31 L105.30,440.35Z" fill="none" stroke="#959595" stroke-width="0.6"/>
<path d="M105.55,439.38 L105.05,439.47 L104.55,439.52 L104.05,439.55 L103.55,439.56 L103.05,439.55 L102.55,439.52 L102.05,439.46 L101.55,439.42 L101.05,439.39 L100.55,439.37 L100.09,439.35 L99.80,439.33 L99.30,439.30 L98.80,439.26 L98.30,439.21 L97.80,439.11 L97.55,439.06 L97.05,438.96 L96.55,438.87 L96.30,438.84 L95.80,438.74 L95.30,438.61 L95.05,438.54 L94.55,438.39 L94.30,438.32 L93.80,438.15 L93.55,438.07 L93.05,437.88 L92.80,437.78 L92.35,437.60 L92.05,437.49 L91.70,437.35 L91.30,437.19 L91.05,437.08 L90.55,436.85 L90.30,436.73 L90.05,436.59 L89.68,436.35 L89.35,436.10 L89.06,435.85 L88.82,435.60 L88.61,435.35 L88.41,435.10 L88.21,434.85 L88.02,434.60 L87.80,434.31 L87.55,433.97 L87.30,433.63 L87.09,433.35 L86.90,433.10 L86.73,432.85 L86.55,432.58 L86.30,432.21 L86.06,431.85 L85.91,431.60 L85.76,431.35 L85.55,430.99 L85.34,430.60 L85.23,430.35 L85.07,429.85 L85.02,429.60 L84.95,429.10 L84.92,428.60 L84.95,428.10 L84.99,427.60 L85.02,427.10 L85.03,426.60 L85.05,426.10 L85.05,425.85 L85.07,425.35 L85.09,424.85 L85.10,424.35 L85.13,423.85 L85.19,423.35 L85.29,422.85 L85.35,422.60 L85.50,422.10 L85.58,421.85 L85.80,421.35 L85.94,421.10 L86.09,420.85 L86.30,420.53 L86.55,420.17 L86.77,419.85 L86.95,419.60 L87.15,419.35 L87.34,419.10 L87.55,418.82 L87.80,418.51 L88.05,418.23 L88.30,417.97 L88.55,417.72 L88.80,417.48 L89.05,417.26 L89.30,417.05 L89.55,416.85 L89.88,416.60 L90.18,416.35 L90.49,416.10 L90.80,415.86 L91.05,415.67 L91.30,415.46 L91.55,415.24 L91.80,415.01 L92.05,414.76 L92.30,414.52 L92.55,414.27 L92.80,414.03 L93.05,413.78 L93.30,413.53 L93.55,413.27 L93.80,412.99 L94.05,412.68 L94.30,412.36 L94.51,412.10 L94.72,411.85 L94.92,411.60 L95.12,411.35 L95.31,411.10 L95.55,410.78 L95.80,410.43 L96.03,410.10 L96.20,409.85 L96.38,409.60 L96.56,409.35 L96.80,409.02 L97.05,408.68 L97.27,408.35 L97.44,408.10 L97.60,407.85 L97.80,407.55 L98.05,407.18 L98.30,406.85 L98.52,406.60 L98.80,406.35 L99.05,406.18 L99.30,406.04 L99.77,405.85 L100.05,405.76 L100.55,405.61 L100.80,405.53 L101.30,405.38 L101.55,405.30 L102.05,405.14 L102.30,405.05 L102.80,404.88 L103.05,404.80 L103.55,404.64 L103.80,404.55 L104.30,404.38 L104.55,404.30 L105.05,404.19 L105.55,404.10 L105.80,404.06 L106.30,403.97 L106.80,403.88 L107.06,403.85 L107.55,403.84 L107.80,403.85 L108.30,403.90 L108.80,403.96 L109.30,404.03 L109.67,404.10 L110.05,404.18 L110.55,404.30 L110.80,404.39 L111.28,404.60 L111.55,404.74 L111.80,404.89 L112.12,405.10 L112.44,405.35 L112.72,405.60 L112.95,405.85 L113.13,406.10 L113.30,406.47 L113.42,406.85 L113.50,407.35 L113.55,407.83 L113.58,408.10 L113.66,408.60 L113.74,409.10 L113.78,409.60 L113.80,410.10 L113.80,410.35 L113.81,410.85 L113.82,411.35 L113.82,411.85 L113.83,412.35 L113.83,412.85 L113.84,413.35 L113.84,413.85 L113.84,414.35 L113.84,414.85 L113.85,415.35 L113.85,415.85 L113.86,416.35 L113.87,416.85 L113.88,417.35 L113.86,417.85 L113.82,418.35 L113.80,418.60 L113.78,419.10 L113.80,419.46 L113.83,419.85 L113.88,420.35 L113.95,420.85 L114.01,421.35 L114.05,421.60 L114.13,422.10 L114.21,422.60 L114.27,423.10 L114.30,423.47 L114.32,423.85 L114.36,424.35 L114.42,424.85 L114.50,425.35 L114.55,425.62 L114.64,426.10 L114.76,426.60 L114.82,426.85 L114.91,427.35 L114.97,427.85 L115.00,428.35 L115.02,428.85 L115.02,429.35 L115.02,429.85 L115.01,430.35 L114.98,430.85 L114.95,431.35 L114.90,431.85 L114.82,432.35 L114.76,432.60 L114.62,433.10 L114.55,433.35 L114.39,433.85 L114.29,434.10 L114.07,434.60 L113.94,434.85 L113.80,435.10 L113.55,435.51 L113.33,435.85 L113.16,436.10 L112.98,436.35 L112.79,436.60 L112.55,436.90 L112.30,437.20 L112.05,437.47 L111.80,437.69 L111.55,437.87 L111.13,438.10 L110.80,438.24 L110.50,438.35 L110.05,438.49 L109.65,438.60 L109.30,438.70 L108.80,438.81 L108.55,438.86 L108.05,438.96 L107.55,439.08 L107.30,439.13 L106.80,439.21 L106.30,439.27 L105.80,439.34 L105.55,439.38Z" fill="none" stroke="#a2a2a2" stroke-width="0.55"/>
<path d="M105.55,438.39 L105.05,438.48 L104.55,438.55 L104.05,438.58 L103.55,438.60 L103.05,438.59 L102.55,438.55 L102.05,438.50 L101.55,438.47 L101.05,438.45 L100.55,438.42 L100.05,438.39 L99.55,438.35 L99.30,438.33 L98.80,438.28 L98.30,438.20 L97.84,438.10 L97.55,438.03 L97.05,437.93 L96.65,437.85 L96.30,437.78 L95.80,437.65 L95.55,437.58 L95.05,437.42 L94.80,437.34 L94.30,437.17 L94.05,437.07 L93.55,436.87 L93.30,436.77 L92.92,436.60 L92.55,436.44 L92.30,436.33 L91.80,436.11 L91.55,435.99 L91.27,435.85 L90.81,435.60 L90.55,435.44 L90.30,435.26 L90.05,435.05 L89.80,434.80 L89.55,434.51 L89.30,434.19 L89.05,433.86 L88.86,433.60 L88.68,433.35 L88.51,433.10 L88.30,432.80 L88.05,432.45 L87.82,432.10 L87.65,431.85 L87.50,431.60 L87.30,431.28 L87.05,430.86 L86.90,430.60 L86.77,430.35 L86.55,429.86 L86.46,429.60 L86.36,429.10 L86.33,428.60 L86.35,428.10 L86.39,427.60 L86.41,427.10 L86.44,426.60 L86.46,426.10 L86.49,425.60 L86.51,425.10 L86.54,424.60 L86.56,424.35 L86.61,423.85 L86.69,423.35 L86.80,422.93 L86.90,422.60 L87.05,422.22 L87.23,421.85 L87.38,421.60 L87.55,421.34 L87.80,420.98 L88.05,420.64 L88.27,420.35 L88.46,420.10 L88.66,419.85 L88.86,419.60 L89.07,419.35 L89.30,419.10 L89.55,418.85 L89.82,418.60 L90.10,418.35 L90.42,418.10 L90.74,417.85 L91.05,417.61 L91.30,417.40 L91.55,417.21 L91.80,417.02 L92.05,416.83 L92.33,416.60 L92.61,416.35 L92.88,416.10 L93.14,415.85 L93.40,415.60 L93.66,415.35 L93.92,415.10 L94.18,414.85 L94.43,414.60 L94.68,414.35 L94.91,414.10 L95.13,413.85 L95.33,413.60 L95.55,413.33 L95.80,413.03 L96.05,412.73 L96.30,412.41 L96.54,412.10 L96.72,411.85 L96.91,411.60 L97.09,411.35 L97.30,411.04 L97.55,410.67 L97.78,410.35 L97.96,410.10 L98.14,409.85 L98.31,409.60 L98.55,409.24 L98.80,408.85 L98.96,408.60 L99.12,408.35 L99.30,408.09 L99.55,407.79 L99.80,407.57 L100.17,407.35 L100.55,407.19 L100.81,407.10 L101.30,406.92 L101.55,406.83 L102.05,406.64 L102.30,406.54 L102.74,406.35 L103.05,406.22 L103.37,406.10 L103.80,405.93 L104.05,405.83 L104.55,405.64 L104.80,405.55 L105.30,405.43 L105.70,405.35 L106.05,405.28 L106.55,405.19 L107.05,405.12 L107.30,405.10 L107.59,405.10 L108.05,405.13 L108.55,405.20 L109.05,405.29 L109.32,405.35 L109.80,405.47 L110.23,405.60 L110.55,405.73 L110.80,405.85 L111.21,406.10 L111.53,406.35 L111.78,406.60 L111.95,406.85 L112.07,407.10 L112.20,407.60 L112.27,408.10 L112.30,408.35 L112.39,408.85 L112.46,409.35 L112.51,409.85 L112.53,410.35 L112.55,410.85 L112.55,411.10 L112.57,411.60 L112.57,412.10 L112.58,412.60 L112.59,413.10 L112.59,413.60 L112.59,414.10 L112.59,414.60 L112.59,415.10 L112.59,415.60 L112.59,416.10 L112.59,416.60 L112.59,417.10 L112.58,417.60 L112.55,417.98 L112.52,418.35 L112.50,418.85 L112.52,419.35 L112.55,419.72 L112.59,420.10 L112.65,420.60 L112.73,421.10 L112.80,421.52 L112.86,421.85 L112.95,422.35 L113.04,422.85 L113.07,423.10 L113.12,423.60 L113.18,424.10 L113.27,424.60 L113.32,424.85 L113.42,425.35 L113.52,425.85 L113.57,426.10 L113.69,426.60 L113.80,427.04 L113.87,427.35 L113.94,427.85 L113.98,428.35 L114.00,428.85 L114.01,429.35 L114.01,429.85 L113.99,430.35 L113.96,430.85 L113.92,431.35 L113.85,431.85 L113.80,432.10 L113.67,432.60 L113.55,433.00 L113.43,433.35 L113.30,433.71 L113.13,434.10 L113.00,434.35 L112.80,434.70 L112.55,435.10 L112.38,435.35 L112.20,435.60 L112.01,435.85 L111.80,436.10 L111.55,436.39 L111.30,436.65 L111.05,436.87 L110.68,437.10 L110.30,437.27 L110.05,437.37 L109.55,437.53 L109.30,437.61 L108.80,437.75 L108.37,437.85 L108.05,437.92 L107.55,438.04 L107.30,438.10 L106.80,438.20 L106.30,438.28 L105.80,438.35 L105.55,438.39Z" fill="none" stroke="#acacac" stroke-width="0.55"/>
<path d="M104.80,437.63 L104.30,437.69 L103.80,437.72 L103.30,437.73 L102.80,437.70 L102.30,437.66 L101.80,437.63 L101.30,437.60 L101.05,437.59 L100.55,437.56 L100.05,437.52 L99.55,437.47 L99.05,437.41 L98.65,437.35 L98.30,437.28 L97.80,437.16 L97.55,437.10 L97.05,436.98 L96.55,436.86 L96.30,436.80 L95.80,436.65 L95.55,436.56 L95.05,436.38 L94.80,436.29 L94.33,436.10 L94.05,435.98 L93.77,435.85 L93.30,435.62 L93.05,435.50 L92.75,435.35 L92.30,435.13 L92.05,435.00 L91.78,434.85 L91.36,434.60 L91.05,434.38 L90.80,434.16 L90.55,433.90 L90.31,433.60 L90.12,433.35 L89.94,433.10 L89.77,432.85 L89.55,432.52 L89.30,432.14 L89.11,431.85 L88.95,431.60 L88.80,431.35 L88.55,430.93 L88.36,430.60 L88.22,430.35 L88.05,430.01 L87.86,429.60 L87.77,429.35 L87.66,428.85 L87.65,428.35 L87.68,427.85 L87.71,427.35 L87.74,426.85 L87.78,426.35 L87.80,426.01 L87.83,425.60 L87.87,425.10 L87.92,424.60 L87.98,424.10 L88.05,423.72 L88.14,423.35 L88.30,422.91 L88.44,422.60 L88.58,422.35 L88.80,422.02 L89.05,421.66 L89.29,421.35 L89.48,421.10 L89.68,420.85 L89.89,420.60 L90.10,420.35 L90.33,420.10 L90.58,419.85 L90.86,419.60 L91.16,419.35 L91.48,419.10 L91.80,418.85 L92.05,418.66 L92.30,418.46 L92.55,418.27 L92.80,418.08 L93.10,417.85 L93.41,417.60 L93.69,417.35 L93.97,417.10 L94.24,416.85 L94.51,416.60 L94.78,416.35 L95.05,416.10 L95.30,415.86 L95.55,415.63 L95.80,415.39 L96.05,415.13 L96.30,414.85 L96.51,414.60 L96.72,414.35 L96.93,414.10 L97.14,413.85 L97.34,413.60 L97.55,413.33 L97.80,413.00 L98.05,412.66 L98.27,412.35 L98.44,412.10 L98.61,411.85 L98.80,411.56 L99.05,411.18 L99.28,410.85 L99.44,410.60 L99.60,410.35 L99.80,410.02 L100.05,409.61 L100.22,409.35 L100.41,409.10 L100.66,408.85 L101.03,408.60 L101.30,408.47 L101.55,408.35 L102.05,408.13 L102.30,408.01 L102.63,407.85 L103.05,407.64 L103.30,407.52 L103.67,407.35 L104.05,407.18 L104.30,407.06 L104.80,406.85 L105.05,406.76 L105.55,406.62 L105.80,406.57 L106.30,406.47 L106.80,406.38 L107.05,406.35 L107.55,406.33 L107.91,406.35 L108.30,406.40 L108.80,406.50 L109.18,406.60 L109.55,406.71 L109.94,406.85 L110.30,407.03 L110.55,407.20 L110.80,407.47 L110.99,407.85 L111.06,408.10 L111.17,408.60 L111.26,409.10 L111.31,409.35 L111.37,409.85 L111.41,410.35 L111.43,410.85 L111.45,411.35 L111.47,411.85 L111.48,412.35 L111.49,412.85 L111.49,413.35 L111.49,413.85 L111.49,414.35 L111.48,414.85 L111.47,415.35 L111.47,415.85 L111.46,416.35 L111.45,416.85 L111.43,417.35 L111.40,417.85 L111.36,418.35 L111.34,418.85 L111.36,419.35 L111.40,419.85 L111.46,420.35 L111.53,420.85 L111.57,421.10 L111.66,421.60 L111.77,422.10 L111.82,422.35 L111.91,422.85 L111.99,423.35 L112.05,423.75 L112.11,424.10 L112.22,424.60 L112.30,424.92 L112.40,425.35 L112.52,425.85 L112.58,426.10 L112.70,426.60 L112.80,426.99 L112.89,427.35 L112.97,427.85 L113.03,428.35 L113.05,428.77 L113.06,429.10 L113.07,429.60 L113.05,430.10 L113.04,430.35 L113.00,430.85 L112.95,431.35 L112.86,431.85 L112.80,432.10 L112.65,432.60 L112.55,432.91 L112.39,433.35 L112.28,433.60 L112.05,434.04 L111.87,434.35 L111.71,434.60 L111.53,434.85 L111.30,435.16 L111.05,435.46 L110.80,435.74 L110.55,435.97 L110.30,436.15 L109.94,436.35 L109.55,436.51 L109.29,436.60 L108.80,436.76 L108.50,436.85 L108.05,436.97 L107.55,437.10 L107.30,437.17 L106.80,437.28 L106.44,437.35 L106.05,437.41 L105.55,437.50 L105.05,437.59 L104.80,437.63Z" fill="none" stroke="#b2b2b2" stroke-width="0.55"/>
<path d="M104.30,436.88 L103.80,436.92 L103.30,436.92 L102.80,436.90 L102.30,436.86 L102.05,436.85 L101.55,436.82 L101.05,436.79 L100.55,436.76 L100.05,436.71 L99.55,436.65 L99.17,436.60 L98.80,436.54 L98.30,436.43 L98.02,436.35 L97.55,436.22 L97.08,436.10 L96.80,436.03 L96.30,435.88 L96.05,435.79 L95.55,435.60 L95.30,435.50 L94.94,435.35 L94.55,435.17 L94.30,435.05 L93.91,434.85 L93.55,434.65 L93.30,434.51 L93.01,434.35 L92.57,434.10 L92.30,433.94 L92.05,433.78 L91.80,433.60 L91.52,433.35 L91.29,433.10 L91.05,432.80 L90.80,432.44 L90.58,432.10 L90.42,431.85 L90.27,431.60 L90.05,431.22 L89.83,430.85 L89.69,430.60 L89.55,430.33 L89.31,429.85 L89.19,429.60 L89.05,429.27 L88.92,428.85 L88.87,428.35 L88.89,427.85 L88.93,427.35 L88.97,426.85 L89.01,426.35 L89.05,426.00 L89.09,425.60 L89.15,425.10 L89.22,424.60 L89.30,424.16 L89.37,423.85 L89.55,423.36 L89.68,423.10 L89.83,422.85 L90.05,422.52 L90.30,422.19 L90.55,421.88 L90.78,421.60 L90.99,421.35 L91.22,421.10 L91.47,420.85 L91.74,420.60 L92.04,420.35 L92.30,420.15 L92.55,419.96 L92.80,419.77 L93.05,419.58 L93.36,419.35 L93.70,419.10 L94.03,418.85 L94.30,418.64 L94.55,418.43 L94.80,418.21 L95.05,418.00 L95.30,417.78 L95.55,417.56 L95.80,417.34 L96.08,417.10 L96.36,416.85 L96.64,416.60 L96.91,416.35 L97.16,416.10 L97.40,415.85 L97.62,415.60 L97.83,415.35 L98.05,415.09 L98.30,414.80 L98.55,414.49 L98.80,414.16 L99.03,413.85 L99.20,413.60 L99.37,413.35 L99.55,413.08 L99.80,412.68 L100.00,412.35 L100.15,412.10 L100.31,411.85 L100.55,411.44 L100.75,411.10 L100.89,410.85 L101.05,410.58 L101.30,410.23 L101.55,409.97 L101.80,409.79 L102.11,409.60 L102.55,409.36 L102.80,409.21 L103.05,409.07 L103.44,408.85 L103.80,408.65 L104.05,408.52 L104.38,408.35 L104.80,408.14 L105.05,408.03 L105.55,407.86 L105.80,407.80 L106.30,407.69 L106.80,407.60 L107.05,407.57 L107.55,407.54 L108.05,407.59 L108.30,407.63 L108.80,407.76 L109.08,407.85 L109.55,408.07 L109.80,408.29 L110.00,408.60 L110.10,408.85 L110.23,409.35 L110.30,409.73 L110.35,410.10 L110.39,410.60 L110.42,411.10 L110.45,411.60 L110.47,412.10 L110.48,412.60 L110.49,413.10 L110.49,413.60 L110.48,414.10 L110.47,414.60 L110.46,415.10 L110.45,415.60 L110.43,416.10 L110.41,416.60 L110.39,417.10 L110.35,417.60 L110.30,418.05 L110.28,418.35 L110.26,418.85 L110.27,419.35 L110.30,419.72 L110.34,420.10 L110.40,420.60 L110.48,421.10 L110.55,421.44 L110.64,421.85 L110.75,422.35 L110.80,422.60 L110.89,423.10 L110.99,423.60 L111.05,423.87 L111.17,424.35 L111.30,424.83 L111.38,425.10 L111.51,425.60 L111.57,425.85 L111.70,426.35 L111.80,426.72 L111.90,427.10 L112.02,427.60 L112.07,427.85 L112.13,428.35 L112.16,428.85 L112.17,429.35 L112.17,429.85 L112.14,430.35 L112.10,430.85 L112.05,431.21 L111.98,431.60 L111.86,432.10 L111.78,432.35 L111.60,432.85 L111.50,433.10 L111.30,433.51 L111.11,433.85 L110.95,434.10 L110.77,434.35 L110.55,434.64 L110.30,434.93 L110.05,435.17 L109.80,435.36 L109.37,435.60 L109.05,435.74 L108.75,435.85 L108.30,436.00 L107.96,436.10 L107.55,436.22 L107.09,436.35 L106.80,436.43 L106.30,436.53 L105.93,436.60 L105.55,436.67 L105.05,436.76 L104.55,436.85 L104.30,436.88Z" fill="none" stroke="#b0b0b0" stroke-width="0.55"/>
<path d="M104.30,436.12 L103.80,436.16 L103.30,436.17 L102.80,436.15 L102.30,436.12 L102.02,436.10 L101.55,436.07 L101.05,436.04 L100.55,436.00 L100.05,435.95 L99.55,435.88 L99.30,435.84 L98.80,435.74 L98.30,435.61 L98.05,435.54 L97.55,435.39 L97.30,435.32 L96.80,435.16 L96.55,435.08 L96.05,434.89 L95.80,434.78 L95.40,434.60 L95.05,434.43 L94.80,434.30 L94.43,434.10 L94.05,433.88 L93.80,433.72 L93.55,433.56 L93.21,433.35 L92.83,433.10 L92.55,432.89 L92.30,432.69 L92.05,432.43 L91.80,432.12 L91.62,431.85 L91.46,431.60 L91.30,431.31 L91.05,430.86 L90.91,430.60 L90.78,430.35 L90.55,429.88 L90.42,429.60 L90.30,429.32 L90.13,428.85 L90.05,428.52 L90.01,428.10 L90.03,427.60 L90.05,427.35 L90.11,426.85 L90.17,426.35 L90.24,425.85 L90.30,425.44 L90.36,425.10 L90.45,424.60 L90.55,424.22 L90.69,423.85 L90.81,423.60 L91.05,423.23 L91.30,422.90 L91.54,422.60 L91.76,422.35 L91.98,422.10 L92.22,421.85 L92.49,421.60 L92.78,421.35 L93.05,421.14 L93.30,420.96 L93.55,420.77 L93.80,420.58 L94.12,420.35 L94.48,420.10 L94.80,419.87 L95.05,419.69 L95.30,419.50 L95.55,419.31 L95.82,419.10 L96.15,418.85 L96.48,418.60 L96.80,418.36 L97.05,418.18 L97.30,418.00 L97.55,417.81 L97.84,417.60 L98.18,417.35 L98.49,417.10 L98.79,416.85 L99.05,416.61 L99.30,416.37 L99.55,416.11 L99.77,415.85 L99.96,415.60 L100.13,415.35 L100.30,415.06 L100.55,414.60 L100.67,414.35 L100.80,414.07 L101.01,413.60 L101.12,413.35 L101.30,412.95 L101.46,412.60 L101.58,412.35 L101.80,411.88 L101.95,411.60 L102.11,411.35 L102.32,411.10 L102.60,410.85 L102.95,410.60 L103.30,410.36 L103.55,410.20 L103.80,410.04 L104.12,409.85 L104.54,409.60 L104.80,409.46 L105.05,409.33 L105.55,409.12 L105.80,409.04 L106.30,408.92 L106.66,408.85 L107.05,408.80 L107.55,408.77 L108.05,408.83 L108.30,408.89 L108.76,409.10 L109.03,409.35 L109.17,409.60 L109.30,410.02 L109.36,410.35 L109.41,410.85 L109.45,411.35 L109.48,411.85 L109.50,412.35 L109.51,412.85 L109.52,413.35 L109.51,413.85 L109.50,414.35 L109.49,414.85 L109.47,415.35 L109.44,415.85 L109.41,416.35 L109.38,416.85 L109.33,417.35 L109.30,417.60 L109.24,418.10 L109.20,418.60 L109.20,419.10 L109.22,419.60 L109.27,420.10 L109.30,420.35 L109.38,420.85 L109.48,421.35 L109.55,421.67 L109.65,422.10 L109.77,422.60 L109.82,422.85 L109.94,423.35 L110.05,423.79 L110.14,424.10 L110.29,424.60 L110.37,424.85 L110.52,425.35 L110.60,425.60 L110.74,426.10 L110.81,426.35 L110.95,426.85 L111.05,427.20 L111.15,427.60 L111.24,428.10 L111.29,428.60 L111.31,428.85 L111.32,429.35 L111.32,429.85 L111.30,430.17 L111.26,430.60 L111.20,431.10 L111.10,431.60 L111.03,431.85 L110.87,432.35 L110.77,432.60 L110.55,433.09 L110.41,433.35 L110.25,433.60 L110.05,433.89 L109.80,434.20 L109.55,434.45 L109.30,434.65 L108.96,434.85 L108.55,435.04 L108.30,435.13 L107.80,435.30 L107.55,435.38 L107.05,435.54 L106.80,435.61 L106.30,435.74 L105.80,435.84 L105.55,435.89 L105.05,435.99 L104.55,436.08 L104.30,436.12Z" fill="none" stroke="#aaaaaa" stroke-width="0.55"/>
<path d="M103.55,435.36 L103.05,435.35 L102.80,435.34 L102.30,435.32 L101.80,435.29 L101.30,435.26 L100.80,435.21 L100.30,435.16 L99.89,435.10 L99.55,435.04 L99.05,434.94 L98.69,434.85 L98.30,434.73 L97.90,434.60 L97.55,434.48 L97.17,434.35 L96.80,434.21 L96.52,434.10 L96.05,433.88 L95.80,433.76 L95.50,433.60 L95.06,433.35 L94.80,433.19 L94.55,433.02 L94.30,432.85 L93.96,432.60 L93.62,432.35 L93.30,432.10 L93.05,431.88 L92.80,431.63 L92.59,431.35 L92.43,431.10 L92.29,430.85 L92.05,430.37 L91.92,430.10 L91.80,429.82 L91.61,429.35 L91.52,429.10 L91.38,428.60 L91.31,428.10 L91.34,427.60 L91.43,427.10 L91.55,426.60 L91.63,426.35 L91.80,425.90 L91.95,425.60 L92.09,425.35 L92.30,425.03 L92.55,424.70 L92.80,424.40 L93.05,424.13 L93.30,423.88 L93.55,423.64 L93.80,423.42 L94.05,423.22 L94.30,423.02 L94.55,422.84 L94.90,422.60 L95.30,422.35 L95.55,422.20 L95.80,422.07 L96.22,421.85 L96.55,421.69 L96.80,421.58 L97.30,421.38 L97.55,421.28 L98.05,421.10 L98.30,421.02 L98.80,420.86 L99.05,420.79 L99.55,420.64 L99.80,420.57 L100.30,420.43 L100.58,420.35 L101.05,420.20 L101.35,420.10 L101.80,419.93 L102.05,419.82 L102.48,419.60 L102.80,419.40 L103.05,419.21 L103.30,418.98 L103.55,418.69 L103.77,418.35 L103.89,418.10 L104.05,417.60 L104.10,417.35 L104.17,416.85 L104.19,416.35 L104.19,415.85 L104.18,415.35 L104.17,414.85 L104.16,414.35 L104.16,413.85 L104.16,413.35 L104.19,412.85 L104.23,412.35 L104.30,411.97 L104.44,411.60 L104.61,411.35 L104.85,411.10 L105.17,410.85 L105.55,410.63 L105.80,410.53 L106.30,410.37 L106.55,410.32 L107.05,410.25 L107.55,410.28 L107.80,410.38 L108.05,410.65 L108.20,411.10 L108.28,411.60 L108.30,411.85 L108.33,412.35 L108.35,412.85 L108.35,413.35 L108.35,413.85 L108.33,414.35 L108.31,414.85 L108.29,415.10 L108.25,415.60 L108.21,416.10 L108.15,416.60 L108.09,417.10 L108.05,417.35 L107.96,417.85 L107.90,418.35 L107.88,418.85 L107.90,419.35 L107.95,419.85 L108.03,420.35 L108.08,420.60 L108.19,421.10 L108.30,421.50 L108.40,421.85 L108.54,422.35 L108.61,422.60 L108.75,423.10 L108.82,423.35 L108.98,423.85 L109.07,424.10 L109.25,424.60 L109.34,424.85 L109.52,425.35 L109.60,425.60 L109.76,426.10 L109.84,426.35 L110.00,426.85 L110.07,427.10 L110.21,427.60 L110.30,428.03 L110.35,428.35 L110.39,428.85 L110.41,429.35 L110.40,429.85 L110.36,430.35 L110.30,430.85 L110.26,431.10 L110.14,431.60 L110.05,431.89 L109.88,432.35 L109.76,432.60 L109.55,433.00 L109.31,433.35 L109.10,433.60 L108.82,433.85 L108.55,434.03 L108.30,434.16 L107.86,434.35 L107.55,434.47 L107.18,434.60 L106.80,434.73 L106.39,434.85 L106.05,434.94 L105.55,435.05 L105.30,435.10 L104.80,435.21 L104.30,435.30 L103.80,435.35 L103.55,435.36Z" fill="none" stroke="#a2a2a2" stroke-width="0.55"/>
<path d="M104.80,434.40 L104.30,434.50 L103.80,434.56 L103.30,434.57 L102.80,434.56 L102.30,434.53 L101.80,434.51 L101.30,434.47 L100.80,434.42 L100.30,434.36 L100.05,434.32 L99.55,434.22 L99.05,434.10 L98.80,434.03 L98.30,433.86 L98.05,433.76 L97.63,433.60 L97.30,433.47 L97.02,433.35 L96.55,433.13 L96.30,432.99 L96.04,432.85 L95.64,432.60 L95.30,432.37 L95.05,432.19 L94.80,431.99 L94.55,431.78 L94.30,431.55 L94.05,431.31 L93.80,431.03 L93.55,430.66 L93.41,430.35 L93.30,429.97 L93.24,429.60 L93.23,429.10 L93.28,428.60 L93.33,428.35 L93.46,427.85 L93.55,427.58 L93.75,427.10 L93.87,426.85 L94.05,426.52 L94.30,426.13 L94.51,425.85 L94.71,425.60 L94.93,425.35 L95.17,425.10 L95.43,424.85 L95.72,424.60 L96.04,424.35 L96.30,424.16 L96.55,424.00 L96.80,423.84 L97.23,423.60 L97.55,423.43 L97.80,423.31 L98.30,423.10 L98.55,423.00 L98.97,422.85 L99.30,422.74 L99.78,422.60 L100.05,422.53 L100.55,422.40 L100.80,422.35 L101.30,422.24 L101.80,422.14 L102.05,422.10 L102.55,422.00 L103.05,421.92 L103.50,421.85 L103.80,421.80 L104.30,421.74 L104.80,421.70 L105.30,421.69 L105.80,421.73 L106.30,421.84 L106.55,421.94 L106.81,422.10 L107.07,422.35 L107.30,422.68 L107.52,423.10 L107.63,423.35 L107.80,423.71 L107.97,424.10 L108.09,424.35 L108.30,424.84 L108.41,425.10 L108.55,425.44 L108.71,425.85 L108.80,426.10 L108.97,426.60 L109.06,426.85 L109.22,427.35 L109.30,427.64 L109.41,428.10 L109.48,428.60 L109.51,429.10 L109.51,429.60 L109.49,430.10 L109.43,430.60 L109.34,431.10 L109.28,431.35 L109.11,431.85 L109.01,432.10 L108.80,432.51 L108.56,432.85 L108.31,433.10 L108.05,433.29 L107.80,433.43 L107.42,433.60 L107.05,433.75 L106.80,433.85 L106.30,434.02 L106.02,434.10 L105.55,434.22 L105.05,434.34 L104.80,434.40Z" fill="none" stroke="#9a9a9a" stroke-width="0.55"/>
<path d="M104.55,433.65 L104.05,433.74 L103.55,433.78 L103.05,433.78 L102.55,433.77 L102.05,433.74 L101.55,433.71 L101.05,433.66 L100.61,433.60 L100.30,433.55 L99.80,433.45 L99.40,433.35 L99.05,433.25 L98.64,433.10 L98.30,432.96 L98.05,432.85 L97.55,432.62 L97.30,432.50 L97.02,432.35 L96.61,432.10 L96.30,431.88 L96.05,431.67 L95.80,431.43 L95.55,431.12 L95.39,430.85 L95.28,430.60 L95.16,430.10 L95.12,429.60 L95.14,429.10 L95.21,428.60 L95.30,428.25 L95.43,427.85 L95.55,427.58 L95.80,427.11 L95.97,426.85 L96.15,426.60 L96.35,426.35 L96.58,426.10 L96.84,425.85 L97.12,425.60 L97.45,425.35 L97.80,425.11 L98.05,424.95 L98.30,424.81 L98.72,424.60 L99.05,424.45 L99.31,424.35 L99.80,424.17 L100.05,424.10 L100.55,423.96 L101.03,423.85 L101.30,423.80 L101.80,423.72 L102.30,423.65 L102.80,423.61 L103.05,423.59 L103.55,423.58 L104.05,423.59 L104.30,423.61 L104.80,423.67 L105.30,423.76 L105.62,423.85 L106.05,424.00 L106.30,424.12 L106.66,424.35 L106.93,424.60 L107.13,424.85 L107.30,425.10 L107.55,425.54 L107.70,425.85 L107.81,426.10 L108.02,426.60 L108.11,426.85 L108.29,427.35 L108.37,427.60 L108.50,428.10 L108.55,428.35 L108.61,428.85 L108.63,429.35 L108.62,429.85 L108.57,430.35 L108.53,430.60 L108.42,431.10 L108.30,431.49 L108.14,431.85 L107.99,432.10 L107.78,432.35 L107.47,432.60 L107.05,432.83 L106.80,432.95 L106.43,433.10 L106.05,433.24 L105.68,433.35 L105.30,433.46 L104.80,433.59 L104.55,433.65Z" fill="none" stroke="#8e8e8e" stroke-width="0.55"/>
<path d="M104.30,432.87 L103.80,432.95 L103.30,432.97 L102.80,432.97 L102.30,432.95 L101.80,432.92 L101.30,432.87 L101.05,432.84 L100.55,432.76 L100.05,432.65 L99.80,432.58 L99.30,432.42 L99.05,432.32 L98.59,432.10 L98.30,431.93 L98.05,431.77 L97.80,431.59 L97.54,431.35 L97.30,431.03 L97.09,430.60 L97.01,430.35 L96.92,429.85 L96.90,429.35 L96.96,428.85 L97.05,428.51 L97.20,428.10 L97.32,427.85 L97.55,427.48 L97.80,427.15 L98.05,426.87 L98.30,426.64 L98.55,426.43 L98.80,426.25 L99.05,426.09 L99.48,425.85 L99.80,425.70 L100.05,425.59 L100.55,425.42 L100.80,425.35 L101.30,425.23 L101.80,425.14 L102.12,425.10 L102.55,425.07 L103.05,425.06 L103.55,425.08 L103.80,425.10 L104.30,425.18 L104.80,425.30 L105.05,425.38 L105.55,425.58 L105.80,425.71 L106.05,425.85 L106.38,426.10 L106.64,426.35 L106.85,426.60 L107.05,426.92 L107.27,427.35 L107.37,427.60 L107.54,428.10 L107.60,428.35 L107.68,428.85 L107.70,429.35 L107.69,429.85 L107.62,430.35 L107.55,430.70 L107.42,431.10 L107.30,431.35 L107.05,431.68 L106.80,431.89 L106.48,432.10 L106.05,432.31 L105.80,432.41 L105.30,432.59 L105.05,432.66 L104.55,432.81 L104.30,432.87Z" fill="none" stroke="#858585" stroke-width="0.55"/>
<path d="M103.55,432.13 L103.05,432.16 L102.55,432.15 L102.05,432.13 L101.73,432.10 L101.30,432.04 L100.80,431.93 L100.50,431.85 L100.05,431.67 L99.80,431.54 L99.51,431.35 L99.24,431.10 L99.04,430.85 L98.80,430.40 L98.70,430.10 L98.62,429.60 L98.65,429.10 L98.79,428.60 L98.91,428.35 L99.06,428.10 L99.30,427.80 L99.55,427.54 L99.80,427.34 L100.15,427.10 L100.55,426.89 L100.80,426.78 L101.30,426.61 L101.55,426.55 L102.05,426.46 L102.55,426.42 L103.05,426.43 L103.55,426.49 L104.05,426.60 L104.30,426.68 L104.71,426.85 L105.05,427.04 L105.30,427.21 L105.55,427.42 L105.80,427.68 L106.05,428.01 L106.23,428.35 L106.33,428.60 L106.44,429.10 L106.45,429.60 L106.36,430.10 L106.28,430.35 L106.05,430.78 L105.81,431.10 L105.55,431.34 L105.30,431.51 L105.05,431.66 L104.64,431.85 L104.30,431.97 L103.80,432.09 L103.55,432.13Z" fill="none" stroke="#7c7c7c" stroke-width="0.55"/>
<ellipse cx="80.5" cy="399.6" rx="19" ry="9.6" transform="rotate(42 80.5 399.6)" fill="none" stroke="#555" stroke-width="0.9"/>
<rect x="63.3" y="377.6" width="77.10000000000001" height="76.19999999999999" fill="none" stroke="#222" stroke-width="1.1"/>
<line x1="60.70" y1="385.50" x2="63.30" y2="385.50" stroke="#2a2a2a" stroke-width="1" />
<text x="57.50" y="388.00" font-size="7" text-anchor="end" fill="#1a1a1a">10<tspan font-size="5.04" dy="-3.2">5</tspan></text>
<line x1="60.70" y1="403.50" x2="63.30" y2="403.50" stroke="#2a2a2a" stroke-width="1" />
<text x="57.50" y="405.80" font-size="7" text-anchor="end" fill="#1a1a1a">10<tspan font-size="5.04" dy="-3.2">4</tspan></text>
<line x1="60.70" y1="424.50" x2="63.30" y2="424.50" stroke="#2a2a2a" stroke-width="1" />
<text x="57.50" y="426.70" font-size="7" text-anchor="end" fill="#1a1a1a">10<tspan font-size="5.04" dy="-3.2">3</tspan></text>
<line x1="60.70" y1="436.50" x2="63.30" y2="436.50" stroke="#2a2a2a" stroke-width="1" />
<text x="56.80" y="439.40" font-size="7" text-anchor="end" fill="#1a1a1a" >0</text>
<line x1="60.70" y1="449.50" x2="63.30" y2="449.50" stroke="#2a2a2a" stroke-width="1" />
<text x="57.50" y="452" font-size="7" text-anchor="end" fill="#1a1a1a">-10<tspan font-size="4.8" dy="-3">3</tspan></text>
<line x1="67.50" y1="453.80" x2="67.50" y2="457.30" stroke="#2a2a2a" stroke-width="1" />
<line x1="80.50" y1="453.80" x2="80.50" y2="457.30" stroke="#2a2a2a" stroke-width="1" />
<line x1="93.50" y1="453.80" x2="93.50" y2="457.30" stroke="#2a2a2a" stroke-width="1" />
<line x1="114.50" y1="453.80" x2="114.50" y2="457.30" stroke="#2a2a2a" stroke-width="1" />
<line x1="132.50" y1="453.80" x2="132.50" y2="457.30" stroke="#2a2a2a" stroke-width="1" />
<text x="68.30" y="467.8" font-size="7" text-anchor="middle" fill="#1a1a1a">-10<tspan font-size="4.8" dy="-3">3</tspan></text>
<text x="80.60" y="467.80" font-size="7" text-anchor="middle" fill="#1a1a1a" >0</text>
<text x="93.80" y="467.80" font-size="7" text-anchor="middle" fill="#1a1a1a">10<tspan font-size="5.04" dy="-3.2">3</tspan></text>
<text x="115.20" y="467.80" font-size="7" text-anchor="middle" fill="#1a1a1a">10<tspan font-size="5.04" dy="-3.2">4</tspan></text>
<text x="133.10" y="467.80" font-size="7" text-anchor="middle" fill="#1a1a1a">10<tspan font-size="5.04" dy="-3.2">5</tspan></text>
<path d="M166,430h1v1h-1zM167,389h1v1h-1zM168,410h1v1h-1zM171,448h1v1h-1zM172,390h1v1h-1zM172,398h1v1h-1zM174,395h1v1h-1zM174,398h1v1h-1zM174,423h1v1h-1zM175,403h1v1h-1zM175,407h1v1h-1zM176,435h1v1h-1zM176,437h1v1h-1zM177,401h1v1h-1zM178,396h1v1h-1zM178,399h1v1h-1zM178,400h1v1h-1zM178,402h1v1h-1zM178,420h1v1h-1zM178,428h1v1h-1zM178,436h1v1h-1zM179,388h1v1h-1zM179,400h1v1h-1zM179,402h1v1h-1zM179,431h1v1h-1zM180,380h1v1h-1zM180,391h1v1h-1zM180,392h1v1h-1zM180,397h1v1h-1zM180,400h1v1h-1zM180,403h1v1h-1zM180,406h1v1h-1zM180,426h1v1h-1zM180,433h1v1h-1zM180,434h1v1h-1zM181,398h1v1h-1zM181,401h1v1h-1zM181,403h1v1h-1zM181,404h1v1h-1zM181,414h1v1h-1zM181,426h1v1h-1zM181,435h1v1h-1zM181,436h1v1h-1zM181,440h1v1h-1zM182,397h1v1h-1zM182,400h1v1h-1zM182,401h1v1h-1zM182,402h1v1h-1zM182,403h1v1h-1zM182,405h1v1h-1zM182,418h1v1h-1zM182,422h1v1h-1zM182,432h1v1h-1zM182,433h1v1h-1zM182,442h1v1h-1zM182,447h1v1h-1zM183,397h1v1h-1zM183,400h1v1h-1zM183,401h1v1h-1zM183,403h1v1h-1zM183,404h1v1h-1zM183,405h1v1h-1zM183,408h1v1h-1zM183,410h1v1h-1zM183,421h1v1h-1zM183,426h1v1h-1zM183,427h1v1h-1zM183,428h1v1h-1zM183,430h1v1h-1zM183,432h1v1h-1zM183,434h1v1h-1zM183,435h1v1h-1zM183,437h1v1h-1zM184,385h1v1h-1zM184,399h1v1h-1zM184,400h1v1h-1zM184,405h1v1h-1zM184,406h1v1h-1zM184,421h1v1h-1zM184,422h1v1h-1zM184,424h1v1h-1zM184,426h1v1h-1zM184,428h1v1h-1zM184,430h1v1h-1zM184,431h1v1h-1zM184,434h1v1h-1zM184,435h1v1h-1zM184,436h1v1h-1zM185,380h1v1h-1zM185,387h1v1h-1zM185,397h1v1h-1zM185,398h1v1h-1zM185,401h1v1h-1zM185,402h1v1h-1zM185,412h1v1h-1zM185,419h1v1h-1zM185,420h1v1h-1zM185,422h1v1h-1zM185,424h1v1h-1zM185,425h1v1h-1zM185,426h1v1h-1zM185,427h1v1h-1zM185,435h1v1h-1zM185,439h1v1h-1zM186,396h1v1h-1zM186,397h1v1h-1zM186,399h1v1h-1zM186,401h1v1h-1zM186,404h1v1h-1zM186,405h1v1h-1zM186,406h1v1h-1zM186,407h1v1h-1zM186,415h1v1h-1zM186,420h1v1h-1zM186,422h1v1h-1zM186,423h1v1h-1zM186,424h1v1h-1zM186,425h1v1h-1zM186,436h1v1h-1zM186,437h1v1h-1zM186,439h1v1h-1zM187,401h1v1h-1zM187,402h1v1h-1zM187,404h1v1h-1zM187,409h1v1h-1zM187,410h1v1h-1zM187,411h1v1h-1zM187,416h1v1h-1zM187,421h1v1h-1zM187,422h1v1h-1zM187,432h1v1h-1zM187,437h1v1h-1zM187,438h1v1h-1zM187,439h1v1h-1zM187,446h1v1h-1zM188,395h1v1h-1zM188,403h1v1h-1zM188,405h1v1h-1zM188,406h1v1h-1zM188,407h1v1h-1zM188,408h1v1h-1zM188,409h1v1h-1zM188,413h1v1h-1zM188,418h1v1h-1zM188,421h1v1h-1zM188,434h1v1h-1zM188,440h1v1h-1zM189,393h1v1h-1zM189,397h1v1h-1zM189,405h1v1h-1zM189,407h1v1h-1zM189,410h1v1h-1zM189,412h1v1h-1zM189,413h1v1h-1zM189,416h1v1h-1zM189,441h1v1h-1zM189,445h1v1h-1zM190,402h1v1h-1zM190,403h1v1h-1zM190,404h1v1h-1zM190,405h1v1h-1zM190,407h1v1h-1zM190,412h1v1h-1zM190,413h1v1h-1zM190,419h1v1h-1zM190,439h1v1h-1zM190,440h1v1h-1zM191,403h1v1h-1zM191,408h1v1h-1zM191,410h1v1h-1zM191,411h1v1h-1zM191,412h1v1h-1zM191,414h1v1h-1zM191,439h1v1h-1zM191,442h1v1h-1zM191,445h1v1h-1zM191,447h1v1h-1zM192,404h1v1h-1zM192,408h1v1h-1zM192,409h1v1h-1zM192,410h1v1h-1zM192,411h1v1h-1zM192,434h1v1h-1zM192,439h1v1h-1zM192,440h1v1h-1zM192,441h1v1h-1zM192,445h1v1h-1zM193,400h1v1h-1zM193,402h1v1h-1zM193,403h1v1h-1zM193,404h1v1h-1zM193,406h1v1h-1zM193,407h1v1h-1zM193,409h1v1h-1zM193,410h1v1h-1zM194,401h1v1h-1zM194,403h1v1h-1zM194,405h1v1h-1zM194,406h1v1h-1zM194,407h1v1h-1zM194,423h1v1h-1zM194,441h1v1h-1zM194,442h1v1h-1zM194,443h1v1h-1zM195,397h1v1h-1zM195,398h1v1h-1zM195,401h1v1h-1zM195,402h1v1h-1zM195,403h1v1h-1zM195,406h1v1h-1zM195,440h1v1h-1zM195,442h1v1h-1zM195,445h1v1h-1zM196,400h1v1h-1zM196,404h1v1h-1zM196,417h1v1h-1zM196,440h1v1h-1zM196,441h1v1h-1zM196,443h1v1h-1zM197,400h1v1h-1zM197,403h1v1h-1zM197,440h1v1h-1zM197,442h1v1h-1zM197,444h1v1h-1zM197,452h1v1h-1zM198,395h1v1h-1zM198,398h1v1h-1zM198,402h1v1h-1zM198,403h1v1h-1zM198,429h1v1h-1zM198,440h1v1h-1zM198,441h1v1h-1zM198,442h1v1h-1zM198,444h1v1h-1zM198,449h1v1h-1zM199,388h1v1h-1zM199,400h1v1h-1zM199,401h1v1h-1zM199,402h1v1h-1zM199,413h1v1h-1zM199,442h1v1h-1zM199,443h1v1h-1zM200,403h1v1h-1zM200,412h1v1h-1zM200,443h1v1h-1zM201,401h1v1h-1zM201,402h1v1h-1zM201,440h1v1h-1zM201,441h1v1h-1zM201,442h1v1h-1zM201,444h1v1h-1zM201,448h1v1h-1zM202,402h1v1h-1zM202,403h1v1h-1zM202,444h1v1h-1zM203,401h1v1h-1zM203,440h1v1h-1zM203,441h1v1h-1zM203,444h1v1h-1zM204,400h1v1h-1zM204,401h1v1h-1zM204,402h1v1h-1zM204,442h1v1h-1zM205,398h1v1h-1zM205,402h1v1h-1zM205,440h1v1h-1zM205,441h1v1h-1zM206,396h1v1h-1zM206,399h1v1h-1zM206,402h1v1h-1zM206,440h1v1h-1zM206,441h1v1h-1zM206,451h1v1h-1zM207,399h1v1h-1zM207,400h1v1h-1zM207,439h1v1h-1zM207,440h1v1h-1zM207,441h1v1h-1zM207,443h1v1h-1zM208,396h1v1h-1zM208,400h1v1h-1zM208,402h1v1h-1zM208,440h1v1h-1zM208,441h1v1h-1zM208,442h1v1h-1zM209,398h1v1h-1zM209,401h1v1h-1zM209,402h1v1h-1zM209,440h1v1h-1zM209,442h1v1h-1zM209,447h1v1h-1zM210,402h1v1h-1zM210,438h1v1h-1zM210,444h1v1h-1zM211,402h1v1h-1zM211,438h1v1h-1zM212,392h1v1h-1zM212,393h1v1h-1zM212,400h1v1h-1zM212,401h1v1h-1zM212,402h1v1h-1zM212,438h1v1h-1zM212,439h1v1h-1zM212,444h1v1h-1zM213,399h1v1h-1zM213,401h1v1h-1zM213,402h1v1h-1zM213,436h1v1h-1zM213,437h1v1h-1zM213,438h1v1h-1zM213,439h1v1h-1zM213,441h1v1h-1zM213,442h1v1h-1zM214,391h1v1h-1zM214,400h1v1h-1zM214,401h1v1h-1zM214,402h1v1h-1zM214,434h1v1h-1zM214,436h1v1h-1zM214,437h1v1h-1zM214,439h1v1h-1zM215,401h1v1h-1zM215,402h1v1h-1zM215,424h1v1h-1zM215,434h1v1h-1zM215,435h1v1h-1zM215,436h1v1h-1zM216,395h1v1h-1zM216,404h1v1h-1zM216,406h1v1h-1zM216,407h1v1h-1zM216,409h1v1h-1zM216,410h1v1h-1zM216,414h1v1h-1zM216,429h1v1h-1zM216,430h1v1h-1zM216,431h1v1h-1zM216,432h1v1h-1zM216,433h1v1h-1zM216,434h1v1h-1zM217,398h1v1h-1zM217,399h1v1h-1zM217,401h1v1h-1zM217,404h1v1h-1zM217,412h1v1h-1zM217,413h1v1h-1zM217,414h1v1h-1zM217,416h1v1h-1zM217,417h1v1h-1zM217,419h1v1h-1zM217,421h1v1h-1zM217,422h1v1h-1zM217,423h1v1h-1zM217,424h1v1h-1zM217,425h1v1h-1zM217,426h1v1h-1zM217,427h1v1h-1zM217,428h1v1h-1zM217,431h1v1h-1zM217,434h1v1h-1zM217,436h1v1h-1zM218,403h1v1h-1zM218,408h1v1h-1zM218,409h1v1h-1zM218,410h1v1h-1zM218,411h1v1h-1zM218,413h1v1h-1zM218,416h1v1h-1zM218,417h1v1h-1zM218,418h1v1h-1zM218,419h1v1h-1zM218,426h1v1h-1zM218,427h1v1h-1zM218,428h1v1h-1zM218,429h1v1h-1zM218,431h1v1h-1zM218,432h1v1h-1zM218,433h1v1h-1zM218,442h1v1h-1zM219,396h1v1h-1zM219,400h1v1h-1zM219,405h1v1h-1zM219,408h1v1h-1zM219,411h1v1h-1zM219,418h1v1h-1zM219,424h1v1h-1zM219,426h1v1h-1zM219,428h1v1h-1zM219,435h1v1h-1zM220,421h1v1h-1zM220,427h1v1h-1zM220,432h1v1h-1zM221,398h1v1h-1zM221,412h1v1h-1zM221,413h1v1h-1zM221,416h1v1h-1zM221,417h1v1h-1zM221,418h1v1h-1zM221,420h1v1h-1zM221,427h1v1h-1zM222,403h1v1h-1zM222,406h1v1h-1zM222,422h1v1h-1zM223,406h1v1h-1zM223,417h1v1h-1zM224,394h1v1h-1zM224,405h1v1h-1zM224,408h1v1h-1zM224,420h1v1h-1zM224,426h1v1h-1zM225,404h1v1h-1zM225,423h1v1h-1zM226,393h1v1h-1zM227,381h1v1h-1zM227,429h1v1h-1zM230,449h1v1h-1zM234,392h1v1h-1zM236,400h1v1h-1zM237,383h1v1h-1zM238,447h1v1h-1zM239,417h1v1h-1zM240,416h1v1h-1zM240,427h1v1h-1zM241,414h1v1h-1z" fill="#a4a4a4" fill-opacity="1"/>
<path d="M205.55,440.40 L205.05,440.49 L204.55,440.53 L204.05,440.54 L203.55,440.54 L203.05,440.54 L202.55,440.53 L202.05,440.53 L201.55,440.53 L201.05,440.53 L200.55,440.52 L200.05,440.51 L199.55,440.51 L199.05,440.50 L198.55,440.49 L198.05,440.48 L197.55,440.47 L197.05,440.45 L196.55,440.43 L196.05,440.37 L195.80,440.33 L195.30,440.23 L194.80,440.15 L194.48,440.10 L194.05,440.04 L193.55,439.92 L193.28,439.85 L192.80,439.76 L192.30,439.63 L192.05,439.57 L191.55,439.46 L191.18,439.35 L190.80,439.25 L190.34,439.10 L190.05,439.01 L189.64,438.85 L189.30,438.72 L189.05,438.60 L188.60,438.35 L188.30,438.16 L188.05,437.99 L187.80,437.81 L187.51,437.60 L187.19,437.35 L186.91,437.10 L186.66,436.85 L186.41,436.60 L186.19,436.35 L185.98,436.10 L185.80,435.84 L185.55,435.50 L185.30,435.14 L185.13,434.85 L185.02,434.60 L184.83,434.10 L184.74,433.85 L184.60,433.35 L184.55,433.08 L184.49,432.60 L184.47,432.10 L184.47,431.60 L184.51,431.10 L184.55,430.85 L184.63,430.35 L184.67,429.85 L184.70,429.35 L184.78,428.85 L184.83,428.60 L184.94,428.10 L185.05,427.72 L185.15,427.35 L185.30,426.91 L185.39,426.60 L185.55,426.15 L185.65,425.85 L185.80,425.46 L185.95,425.10 L186.07,424.85 L186.30,424.35 L186.39,424.10 L186.55,423.73 L186.71,423.35 L186.84,423.10 L187.05,422.69 L187.21,422.35 L187.33,422.10 L187.55,421.60 L187.65,421.35 L187.80,421.05 L188.03,420.60 L188.16,420.35 L188.30,420.10 L188.55,419.64 L188.70,419.35 L188.84,419.10 L189.05,418.72 L189.25,418.35 L189.39,418.10 L189.55,417.82 L189.80,417.37 L189.94,417.10 L190.08,416.85 L190.30,416.46 L190.50,416.10 L190.63,415.85 L190.80,415.56 L191.05,415.10 L191.18,414.85 L191.31,414.60 L191.53,414.10 L191.64,413.85 L191.80,413.52 L192.01,413.10 L192.13,412.85 L192.30,412.46 L192.45,412.10 L192.57,411.85 L192.80,411.37 L192.92,411.10 L193.05,410.81 L193.24,410.35 L193.35,410.10 L193.55,409.69 L193.72,409.35 L193.85,409.10 L194.05,408.71 L194.23,408.35 L194.36,408.10 L194.55,407.72 L194.74,407.35 L194.88,407.10 L195.05,406.83 L195.30,406.45 L195.54,406.10 L195.73,405.85 L195.92,405.60 L196.11,405.35 L196.31,405.10 L196.55,404.83 L196.81,404.60 L197.16,404.35 L197.55,404.12 L197.80,403.99 L198.17,403.85 L198.55,403.72 L199.04,403.60 L199.30,403.53 L199.80,403.43 L200.30,403.37 L200.55,403.33 L201.05,403.22 L201.55,403.12 L201.80,403.08 L202.30,403.04 L202.80,402.99 L203.30,402.92 L203.60,402.85 L204.05,402.73 L204.55,402.65 L205.05,402.61 L205.30,402.60 L205.80,402.57 L206.30,402.54 L206.80,402.52 L207.30,402.51 L207.80,402.51 L208.30,402.51 L208.80,402.51 L209.30,402.53 L209.80,402.55 L210.30,402.57 L210.63,402.60 L211.05,402.64 L211.55,402.74 L211.89,402.85 L212.30,402.97 L212.65,403.10 L213.05,403.26 L213.30,403.39 L213.63,403.60 L213.98,403.85 L214.28,404.10 L214.55,404.35 L214.80,404.60 L215.03,404.85 L215.26,405.10 L215.46,405.35 L215.62,405.60 L215.80,405.97 L215.95,406.35 L216.05,406.68 L216.18,407.10 L216.28,407.60 L216.30,407.88 L216.32,408.35 L216.33,408.85 L216.35,409.35 L216.39,409.85 L216.48,410.35 L216.55,410.78 L216.59,411.10 L216.61,411.60 L216.62,412.10 L216.64,412.60 L216.65,413.10 L216.66,413.60 L216.68,414.10 L216.73,414.60 L216.80,414.97 L216.89,415.35 L216.95,415.85 L216.99,416.35 L217.01,416.85 L217.03,417.35 L217.05,417.67 L217.08,418.10 L217.11,418.60 L217.14,419.10 L217.17,419.60 L217.20,420.10 L217.23,420.60 L217.26,421.10 L217.28,421.60 L217.30,422.01 L217.32,422.35 L217.35,422.85 L217.38,423.35 L217.39,423.85 L217.37,424.35 L217.30,424.76 L217.26,425.10 L217.23,425.60 L217.23,426.10 L217.23,426.60 L217.17,427.10 L217.08,427.60 L217.04,427.85 L217.02,428.35 L216.99,428.85 L216.91,429.35 L216.81,429.85 L216.78,430.10 L216.72,430.60 L216.60,431.10 L216.53,431.35 L216.41,431.85 L216.30,432.15 L216.15,432.60 L216.04,432.85 L215.80,433.33 L215.66,433.60 L215.50,433.85 L215.30,434.17 L215.05,434.58 L214.91,434.85 L214.74,435.10 L214.55,435.38 L214.30,435.74 L214.05,436.06 L213.82,436.35 L213.64,436.60 L213.45,436.85 L213.22,437.10 L212.96,437.35 L212.64,437.60 L212.30,437.83 L212.05,438.01 L211.80,438.16 L211.45,438.35 L211.05,438.56 L210.80,438.69 L210.45,438.85 L210.05,439.05 L209.80,439.15 L209.30,439.33 L209.05,439.42 L208.55,439.59 L208.30,439.70 L207.86,439.85 L207.55,439.97 L207.05,440.08 L206.80,440.15 L206.30,440.26 L205.80,440.34 L205.55,440.40Z" fill="#f3f3f3" stroke="none"/>
<path d="M205.55,440.40 L205.05,440.49 L204.55,440.53 L204.05,440.54 L203.55,440.54 L203.05,440.54 L202.55,440.53 L202.05,440.53 L201.55,440.53 L201.05,440.53 L200.55,440.52 L200.05,440.51 L199.55,440.51 L199.05,440.50 L198.55,440.49 L198.05,440.48 L197.55,440.47 L197.05,440.45 L196.55,440.43 L196.05,440.37 L195.80,440.33 L195.30,440.23 L194.80,440.15 L194.48,440.10 L194.05,440.04 L193.55,439.92 L193.28,439.85 L192.80,439.76 L192.30,439.63 L192.05,439.57 L191.55,439.46 L191.18,439.35 L190.80,439.25 L190.34,439.10 L190.05,439.01 L189.64,438.85 L189.30,438.72 L189.05,438.60 L188.60,438.35 L188.30,438.16 L188.05,437.99 L187.80,437.81 L187.51,437.60 L187.19,437.35 L186.91,437.10 L186.66,436.85 L186.41,436.60 L186.19,436.35 L185.98,436.10 L185.80,435.84 L185.55,435.50 L185.30,435.14 L185.13,434.85 L185.02,434.60 L184.83,434.10 L184.74,433.85 L184.60,433.35 L184.55,433.08 L184.49,432.60 L184.47,432.10 L184.47,431.60 L184.51,431.10 L184.55,430.85 L184.63,430.35 L184.67,429.85 L184.70,429.35 L184.78,428.85 L184.83,428.60 L184.94,428.10 L185.05,427.72 L185.15,427.35 L185.30,426.91 L185.39,426.60 L185.55,426.15 L185.65,425.85 L185.80,425.46 L185.95,425.10 L186.07,424.85 L186.30,424.35 L186.39,424.10 L186.55,423.73 L186.71,423.35 L186.84,423.10 L187.05,422.69 L187.21,422.35 L187.33,422.10 L187.55,421.60 L187.65,421.35 L187.80,421.05 L188.03,420.60 L188.16,420.35 L188.30,420.10 L188.55,419.64 L188.70,419.35 L188.84,419.10 L189.05,418.72 L189.25,418.35 L189.39,418.10 L189.55,417.82 L189.80,417.37 L189.94,417.10 L190.08,416.85 L190.30,416.46 L190.50,416.10 L190.63,415.85 L190.80,415.56 L191.05,415.10 L191.18,414.85 L191.31,414.60 L191.53,414.10 L191.64,413.85 L191.80,413.52 L192.01,413.10 L192.13,412.85 L192.30,412.46 L192.45,412.10 L192.57,411.85 L192.80,411.37 L192.92,411.10 L193.05,410.81 L193.24,410.35 L193.35,410.10 L193.55,409.69 L193.72,409.35 L193.85,409.10 L194.05,408.71 L194.23,408.35 L194.36,408.10 L194.55,407.72 L194.74,407.35 L194.88,407.10 L195.05,406.83 L195.30,406.45 L195.54,406.10 L195.73,405.85 L195.92,405.60 L196.11,405.35 L196.31,405.10 L196.55,404.83 L196.81,404.60 L197.16,404.35 L197.55,404.12 L197.80,403.99 L198.17,403.85 L198.55,403.72 L199.04,403.60 L199.30,403.53 L199.80,403.43 L200.30,403.37 L200.55,403.33 L201.05,403.22 L201.55,403.12 L201.80,403.08 L202.30,403.04 L202.80,402.99 L203.30,402.92 L203.60,402.85 L204.05,402.73 L204.55,402.65 L205.05,402.61 L205.30,402.60 L205.80,402.57 L206.30,402.54 L206.80,402.52 L207.30,402.51 L207.80,402.51 L208.30,402.51 L208.80,402.51 L209.30,402.53 L209.80,402.55 L210.30,402.57 L210.63,402.60 L211.05,402.64 L211.55,402.74 L211.89,402.85 L212.30,402.97 L212.65,403.10 L213.05,403.26 L213.30,403.39 L213.63,403.60 L213.98,403.85 L214.28,404.10 L214.55,404.35 L214.80,404.60 L215.03,404.85 L215.26,405.10 L215.46,405.35 L215.62,405.60 L215.80,405.97 L215.95,406.35 L216.05,406.68 L216.18,407.10 L216.28,407.60 L216.30,407.88 L216.32,408.35 L216.33,408.85 L216.35,409.35 L216.39,409.85 L216.48,410.35 L216.55,410.78 L216.59,411.10 L216.61,411.60 L216.62,412.10 L216.64,412.60 L216.65,413.10 L216.66,413.60 L216.68,414.10 L216.73,414.60 L216.80,414.97 L216.89,415.35 L216.95,415.85 L216.99,416.35 L217.01,416.85 L217.03,417.35 L217.05,417.67 L217.08,418.10 L217.11,418.60 L217.14,419.10 L217.17,419.60 L217.20,420.10 L217.23,420.60 L217.26,421.10 L217.28,421.60 L217.30,422.01 L217.32,422.35 L217.35,422.85 L217.38,423.35 L217.39,423.85 L217.37,424.35 L217.30,424.76 L217.26,425.10 L217.23,425.60 L217.23,426.10 L217.23,426.60 L217.17,427.10 L217.08,427.60 L217.04,427.85 L217.02,428.35 L216.99,428.85 L216.91,429.35 L216.81,429.85 L216.78,430.10 L216.72,430.60 L216.60,431.10 L216.53,431.35 L216.41,431.85 L216.30,432.15 L216.15,432.60 L216.04,432.85 L215.80,433.33 L215.66,433.60 L215.50,433.85 L215.30,434.17 L215.05,434.58 L214.91,434.85 L214.74,435.10 L214.55,435.38 L214.30,435.74 L214.05,436.06 L213.82,436.35 L213.64,436.60 L213.45,436.85 L213.22,437.10 L212.96,437.35 L212.64,437.60 L212.30,437.83 L212.05,438.01 L211.80,438.16 L211.45,438.35 L211.05,438.56 L210.80,438.69 L210.45,438.85 L210.05,439.05 L209.80,439.15 L209.30,439.33 L209.05,439.42 L208.55,439.59 L208.30,439.70 L207.86,439.85 L207.55,439.97 L207.05,440.08 L206.80,440.15 L206.30,440.26 L205.80,440.34 L205.55,440.40Z" fill="none" stroke="#888888" stroke-width="0.65"/>
<path d="M205.30,439.88 L204.80,439.95 L204.30,439.98 L203.80,439.98 L203.30,439.98 L202.80,439.98 L202.30,439.98 L201.80,439.97 L201.30,439.96 L200.80,439.95 L200.30,439.94 L199.80,439.93 L199.30,439.92 L198.80,439.90 L198.30,439.88 L197.80,439.86 L197.55,439.84 L197.05,439.82 L196.55,439.78 L196.05,439.71 L195.59,439.60 L195.30,439.54 L194.80,439.46 L194.30,439.37 L194.05,439.30 L193.55,439.17 L193.26,439.10 L192.80,438.97 L192.35,438.85 L192.05,438.77 L191.55,438.62 L191.30,438.54 L190.80,438.37 L190.55,438.28 L190.11,438.10 L189.80,437.96 L189.55,437.84 L189.13,437.60 L188.80,437.38 L188.55,437.20 L188.30,437.02 L188.05,436.83 L187.77,436.60 L187.50,436.35 L187.26,436.10 L187.03,435.85 L186.80,435.57 L186.55,435.22 L186.30,434.86 L186.13,434.60 L186.00,434.35 L185.80,433.88 L185.70,433.60 L185.55,433.11 L185.49,432.85 L185.43,432.35 L185.41,431.85 L185.43,431.35 L185.49,430.85 L185.54,430.35 L185.56,430.10 L185.58,429.60 L185.65,429.10 L185.75,428.60 L185.80,428.35 L185.93,427.85 L186.05,427.44 L186.16,427.10 L186.30,426.65 L186.40,426.35 L186.55,425.93 L186.68,425.60 L186.80,425.33 L187.02,424.85 L187.13,424.60 L187.30,424.21 L187.46,423.85 L187.58,423.60 L187.80,423.17 L187.97,422.85 L188.10,422.60 L188.30,422.17 L188.45,421.85 L188.58,421.60 L188.80,421.19 L188.99,420.85 L189.14,420.60 L189.30,420.33 L189.55,419.90 L189.73,419.60 L189.88,419.35 L190.05,419.07 L190.30,418.66 L190.49,418.35 L190.64,418.10 L190.80,417.83 L191.05,417.42 L191.24,417.10 L191.39,416.85 L191.55,416.59 L191.80,416.17 L191.99,415.85 L192.13,415.60 L192.30,415.31 L192.54,414.85 L192.66,414.60 L192.80,414.30 L193.03,413.85 L193.16,413.60 L193.30,413.31 L193.51,412.85 L193.62,412.60 L193.80,412.22 L193.98,411.85 L194.10,411.60 L194.30,411.15 L194.43,410.85 L194.55,410.58 L194.79,410.10 L194.91,409.85 L195.05,409.59 L195.30,409.10 L195.43,408.85 L195.55,408.60 L195.80,408.13 L195.95,407.85 L196.10,407.60 L196.30,407.30 L196.55,406.93 L196.80,406.60 L196.99,406.35 L197.19,406.10 L197.41,405.85 L197.68,405.60 L198.05,405.35 L198.30,405.22 L198.57,405.10 L199.05,404.94 L199.37,404.85 L199.80,404.74 L200.30,404.65 L200.59,404.60 L201.05,404.51 L201.55,404.39 L201.80,404.33 L202.30,404.24 L202.80,404.17 L203.22,404.10 L203.55,404.03 L204.05,403.88 L204.30,403.80 L204.80,403.69 L205.30,403.61 L205.55,403.58 L206.05,403.52 L206.55,403.48 L207.05,403.45 L207.55,403.43 L208.05,403.43 L208.55,403.43 L209.05,403.46 L209.55,403.49 L210.05,403.54 L210.55,403.60 L210.80,403.65 L211.30,403.79 L211.55,403.88 L212.05,404.07 L212.30,404.18 L212.64,404.35 L213.04,404.60 L213.30,404.80 L213.55,405.01 L213.80,405.25 L214.05,405.51 L214.30,405.81 L214.50,406.10 L214.64,406.35 L214.80,406.73 L214.93,407.10 L215.05,407.54 L215.11,407.85 L215.16,408.35 L215.19,408.85 L215.21,409.35 L215.24,409.85 L215.30,410.34 L215.35,410.60 L215.43,411.10 L215.48,411.60 L215.50,412.10 L215.52,412.60 L215.54,413.10 L215.55,413.39 L215.57,413.85 L215.60,414.35 L215.66,414.85 L215.75,415.35 L215.81,415.60 L215.89,416.10 L215.95,416.60 L215.99,417.10 L216.04,417.60 L216.07,417.85 L216.12,418.35 L216.18,418.85 L216.25,419.35 L216.30,419.73 L216.35,420.10 L216.41,420.60 L216.47,421.10 L216.54,421.60 L216.56,421.85 L216.62,422.35 L216.67,422.85 L216.71,423.35 L216.74,423.85 L216.73,424.35 L216.68,424.85 L216.65,425.35 L216.66,425.85 L216.67,426.35 L216.64,426.85 L216.57,427.35 L216.54,427.60 L216.51,428.10 L216.48,428.60 L216.42,429.10 L216.33,429.60 L216.29,429.85 L216.23,430.35 L216.13,430.85 L216.05,431.16 L215.94,431.60 L215.80,432.04 L215.69,432.35 L215.55,432.68 L215.35,433.10 L215.21,433.35 L215.05,433.60 L214.80,434.01 L214.60,434.35 L214.45,434.60 L214.28,434.85 L214.05,435.19 L213.80,435.53 L213.55,435.85 L213.35,436.10 L213.16,436.35 L212.95,436.60 L212.70,436.85 L212.41,437.10 L212.05,437.35 L211.80,437.52 L211.55,437.68 L211.24,437.85 L210.80,438.08 L210.55,438.21 L210.25,438.35 L209.80,438.56 L209.55,438.66 L209.05,438.84 L208.80,438.93 L208.31,439.10 L208.05,439.20 L207.63,439.35 L207.30,439.46 L206.80,439.58 L206.55,439.64 L206.05,439.74 L205.55,439.83 L205.30,439.88Z" fill="none" stroke="#959595" stroke-width="0.6"/>
<path d="M205.30,439.38 L204.80,439.46 L204.30,439.49 L203.80,439.50 L203.30,439.50 L202.80,439.49 L202.30,439.49 L201.80,439.48 L201.30,439.46 L200.80,439.45 L200.30,439.43 L199.80,439.40 L199.30,439.38 L198.90,439.35 L198.55,439.32 L198.05,439.28 L197.55,439.23 L197.05,439.18 L196.55,439.11 L196.30,439.05 L195.80,438.92 L195.52,438.85 L195.05,438.74 L194.55,438.62 L194.30,438.54 L193.80,438.38 L193.55,438.30 L193.05,438.14 L192.80,438.05 L192.30,437.88 L192.05,437.79 L191.55,437.60 L191.30,437.50 L190.94,437.35 L190.55,437.17 L190.30,437.05 L189.94,436.85 L189.55,436.60 L189.30,436.43 L189.05,436.24 L188.80,436.04 L188.55,435.83 L188.30,435.60 L188.05,435.35 L187.80,435.05 L187.55,434.71 L187.30,434.35 L187.15,434.10 L187.02,433.85 L186.80,433.35 L186.71,433.10 L186.58,432.60 L186.54,432.35 L186.51,431.85 L186.54,431.35 L186.56,431.10 L186.60,430.60 L186.62,430.10 L186.65,429.60 L186.73,429.10 L186.80,428.75 L186.89,428.35 L187.02,427.85 L187.09,427.60 L187.25,427.10 L187.33,426.85 L187.50,426.35 L187.59,426.10 L187.80,425.62 L187.92,425.35 L188.05,425.07 L188.26,424.60 L188.37,424.35 L188.55,423.98 L188.75,423.60 L188.89,423.35 L189.05,423.04 L189.28,422.60 L189.40,422.35 L189.55,422.07 L189.80,421.63 L189.97,421.35 L190.12,421.10 L190.30,420.81 L190.55,420.41 L190.75,420.10 L190.91,419.85 L191.07,419.60 L191.30,419.24 L191.55,418.85 L191.71,418.60 L191.87,418.35 L192.05,418.08 L192.30,417.69 L192.52,417.35 L192.68,417.10 L192.84,416.85 L193.05,416.51 L193.30,416.11 L193.46,415.85 L193.60,415.60 L193.80,415.23 L193.99,414.85 L194.12,414.60 L194.30,414.27 L194.52,413.85 L194.65,413.60 L194.80,413.28 L195.00,412.85 L195.13,412.60 L195.30,412.26 L195.50,411.85 L195.61,411.60 L195.80,411.17 L195.95,410.85 L196.08,410.60 L196.30,410.18 L196.47,409.85 L196.60,409.60 L196.80,409.21 L196.99,408.85 L197.13,408.60 L197.30,408.32 L197.55,407.94 L197.79,407.60 L197.99,407.35 L198.19,407.10 L198.43,406.85 L198.74,406.60 L199.05,406.43 L199.30,406.32 L199.80,406.17 L200.05,406.10 L200.55,405.99 L201.05,405.89 L201.30,405.83 L201.80,405.69 L202.14,405.60 L202.55,405.51 L203.05,405.41 L203.33,405.35 L203.80,405.23 L204.17,405.10 L204.55,404.97 L204.96,404.85 L205.30,404.77 L205.80,404.68 L206.30,404.61 L206.55,404.58 L207.05,404.54 L207.55,404.51 L208.05,404.50 L208.55,404.51 L209.05,404.55 L209.55,404.60 L209.80,404.63 L210.30,404.71 L210.80,404.84 L211.05,404.93 L211.47,405.10 L211.80,405.25 L212.05,405.38 L212.39,405.60 L212.71,405.85 L212.97,406.10 L213.20,406.35 L213.38,406.60 L213.55,406.88 L213.76,407.35 L213.84,407.60 L213.95,408.10 L214.01,408.60 L214.05,409.10 L214.06,409.35 L214.10,409.85 L214.15,410.35 L214.24,410.85 L214.30,411.21 L214.35,411.60 L214.39,412.10 L214.41,412.60 L214.43,413.10 L214.46,413.60 L214.48,414.10 L214.52,414.60 L214.55,414.93 L214.62,415.35 L214.72,415.85 L214.80,416.35 L214.83,416.60 L214.88,417.10 L214.94,417.60 L215.00,418.10 L215.05,418.49 L215.10,418.85 L215.18,419.35 L215.27,419.85 L215.32,420.10 L215.42,420.60 L215.52,421.10 L215.57,421.35 L215.68,421.85 L215.79,422.35 L215.84,422.60 L215.94,423.10 L216.02,423.60 L216.06,423.85 L216.08,424.35 L216.08,424.85 L216.10,425.35 L216.14,425.85 L216.17,426.35 L216.15,426.85 L216.10,427.35 L216.07,427.85 L216.06,428.35 L216.05,428.62 L215.98,429.10 L215.91,429.60 L215.85,430.10 L215.80,430.40 L215.70,430.85 L215.58,431.35 L215.51,431.60 L215.34,432.10 L215.24,432.35 L215.05,432.77 L214.87,433.10 L214.72,433.35 L214.55,433.63 L214.30,434.04 L214.11,434.35 L213.94,434.60 L213.77,434.85 L213.55,435.16 L213.30,435.47 L213.05,435.78 L212.80,436.09 L212.57,436.35 L212.30,436.60 L212.05,436.79 L211.80,436.97 L211.55,437.13 L211.19,437.35 L210.80,437.56 L210.55,437.69 L210.23,437.85 L209.80,438.05 L209.55,438.16 L209.06,438.35 L208.80,438.44 L208.33,438.60 L208.05,438.70 L207.64,438.85 L207.30,438.96 L206.80,439.09 L206.55,439.15 L206.05,439.24 L205.55,439.34 L205.30,439.38Z" fill="none" stroke="#a2a2a2" stroke-width="0.55"/>
<path d="M205.55,438.62 L205.05,438.69 L204.55,438.76 L204.05,438.79 L203.55,438.80 L203.05,438.80 L202.55,438.79 L202.05,438.77 L201.55,438.75 L201.05,438.72 L200.55,438.68 L200.05,438.64 L199.63,438.60 L199.30,438.56 L198.80,438.51 L198.30,438.44 L197.80,438.37 L197.55,438.33 L197.05,438.24 L196.55,438.13 L196.30,438.06 L195.80,437.91 L195.55,437.84 L195.05,437.70 L194.73,437.60 L194.30,437.45 L194.01,437.35 L193.55,437.18 L193.30,437.09 L192.80,436.89 L192.55,436.80 L192.07,436.60 L191.80,436.49 L191.50,436.35 L191.05,436.13 L190.80,436.00 L190.54,435.85 L190.16,435.60 L189.83,435.35 L189.55,435.12 L189.30,434.90 L189.05,434.66 L188.80,434.38 L188.59,434.10 L188.42,433.85 L188.27,433.60 L188.05,433.17 L187.92,432.85 L187.80,432.40 L187.76,432.10 L187.75,431.60 L187.78,431.10 L187.80,430.60 L187.80,430.35 L187.83,429.85 L187.90,429.35 L187.99,428.85 L188.05,428.57 L188.17,428.10 L188.30,427.64 L188.39,427.35 L188.55,426.86 L188.64,426.60 L188.80,426.22 L188.96,425.85 L189.08,425.60 L189.30,425.10 L189.41,424.85 L189.55,424.56 L189.79,424.10 L189.93,423.85 L190.07,423.60 L190.30,423.17 L190.47,422.85 L190.60,422.60 L190.80,422.25 L191.05,421.85 L191.21,421.60 L191.37,421.35 L191.55,421.08 L191.80,420.71 L192.04,420.35 L192.21,420.10 L192.39,419.85 L192.56,419.60 L192.80,419.25 L193.05,418.89 L193.25,418.60 L193.43,418.35 L193.60,418.10 L193.80,417.82 L194.05,417.45 L194.29,417.10 L194.46,416.85 L194.63,416.60 L194.80,416.34 L195.05,415.93 L195.24,415.60 L195.38,415.35 L195.55,415.04 L195.80,414.61 L195.94,414.35 L196.08,414.10 L196.30,413.65 L196.46,413.35 L196.59,413.10 L196.80,412.69 L196.96,412.35 L197.08,412.10 L197.30,411.63 L197.44,411.35 L197.57,411.10 L197.80,410.66 L197.96,410.35 L198.09,410.10 L198.30,409.70 L198.50,409.35 L198.65,409.10 L198.82,408.85 L199.05,408.53 L199.30,408.24 L199.55,408.01 L199.80,407.85 L200.30,407.64 L200.55,407.57 L201.05,407.45 L201.41,407.35 L201.80,407.23 L202.17,407.10 L202.55,406.98 L203.04,406.85 L203.30,406.78 L203.80,406.63 L204.05,406.54 L204.52,406.35 L204.80,406.24 L205.22,406.10 L205.55,406.01 L206.05,405.91 L206.39,405.85 L206.80,405.79 L207.30,405.74 L207.80,405.72 L208.30,405.72 L208.80,405.75 L209.30,405.80 L209.60,405.85 L210.05,405.94 L210.55,406.08 L210.80,406.18 L211.18,406.35 L211.55,406.56 L211.80,406.73 L212.05,406.95 L212.30,407.25 L212.51,407.60 L212.62,407.85 L212.76,408.35 L212.80,408.61 L212.86,409.10 L212.91,409.60 L212.96,410.10 L213.03,410.60 L213.07,410.85 L213.16,411.35 L213.23,411.85 L213.27,412.35 L213.30,412.85 L213.31,413.10 L213.34,413.60 L213.37,414.10 L213.40,414.60 L213.44,415.10 L213.52,415.60 L213.56,415.85 L213.65,416.35 L213.71,416.85 L213.76,417.35 L213.80,417.76 L213.84,418.10 L213.91,418.60 L213.98,419.10 L214.05,419.50 L214.11,419.85 L214.21,420.35 L214.30,420.77 L214.37,421.10 L214.49,421.60 L214.55,421.85 L214.67,422.35 L214.80,422.85 L214.85,423.10 L214.96,423.60 L215.03,424.10 L215.06,424.35 L215.13,424.85 L215.22,425.35 L215.30,425.82 L215.34,426.10 L215.38,426.60 L215.39,427.10 L215.40,427.60 L215.41,428.10 L215.41,428.60 L215.36,429.10 L215.31,429.60 L215.28,429.85 L215.20,430.35 L215.10,430.85 L215.04,431.10 L214.89,431.60 L214.80,431.88 L214.60,432.35 L214.48,432.60 L214.30,432.92 L214.05,433.33 L213.88,433.60 L213.72,433.85 L213.55,434.12 L213.30,434.47 L213.05,434.80 L212.80,435.10 L212.58,435.35 L212.35,435.60 L212.11,435.85 L211.84,436.10 L211.55,436.32 L211.30,436.48 L211.05,436.64 L210.70,436.85 L210.30,437.06 L210.05,437.18 L209.70,437.35 L209.30,437.53 L209.05,437.63 L208.55,437.81 L208.30,437.89 L207.80,438.06 L207.55,438.15 L207.05,438.30 L206.80,438.37 L206.30,438.48 L205.80,438.57 L205.55,438.62Z" fill="none" stroke="#acacac" stroke-width="0.55"/>
<path d="M204.80,437.88 L204.30,437.94 L203.80,437.96 L203.30,437.97 L202.80,437.96 L202.30,437.95 L201.80,437.92 L201.30,437.89 L200.80,437.85 L200.55,437.83 L200.05,437.78 L199.55,437.72 L199.05,437.65 L198.70,437.60 L198.30,437.54 L197.80,437.45 L197.30,437.36 L197.05,437.30 L196.55,437.16 L196.30,437.08 L195.80,436.92 L195.55,436.84 L195.05,436.68 L194.80,436.59 L194.30,436.40 L194.05,436.30 L193.57,436.10 L193.30,435.98 L192.99,435.85 L192.55,435.65 L192.30,435.54 L191.91,435.35 L191.55,435.16 L191.30,435.02 L191.02,434.85 L190.67,434.60 L190.37,434.35 L190.09,434.10 L189.85,433.85 L189.64,433.60 L189.46,433.35 L189.30,433.10 L189.06,432.60 L188.99,432.35 L188.91,431.85 L188.91,431.35 L188.92,430.85 L188.93,430.35 L188.96,429.85 L189.03,429.35 L189.07,429.10 L189.18,428.60 L189.30,428.14 L189.38,427.85 L189.54,427.35 L189.62,427.10 L189.80,426.64 L189.93,426.35 L190.05,426.07 L190.26,425.60 L190.37,425.35 L190.55,424.98 L190.75,424.60 L190.88,424.35 L191.05,424.06 L191.30,423.61 L191.44,423.35 L191.58,423.10 L191.80,422.73 L192.04,422.35 L192.21,422.10 L192.38,421.85 L192.56,421.60 L192.80,421.26 L193.05,420.91 L193.27,420.60 L193.46,420.35 L193.64,420.10 L193.83,419.85 L194.05,419.56 L194.30,419.23 L194.55,418.90 L194.78,418.60 L194.96,418.35 L195.15,418.10 L195.34,417.85 L195.55,417.57 L195.80,417.23 L196.05,416.89 L196.24,416.60 L196.41,416.35 L196.56,416.10 L196.80,415.70 L197.02,415.35 L197.17,415.10 L197.32,414.85 L197.55,414.43 L197.73,414.10 L197.86,413.85 L198.05,413.51 L198.27,413.10 L198.39,412.85 L198.55,412.50 L198.75,412.10 L198.87,411.85 L199.05,411.51 L199.26,411.10 L199.39,410.85 L199.55,410.54 L199.79,410.10 L199.95,409.85 L200.14,409.60 L200.39,409.35 L200.79,409.10 L201.05,409.00 L201.49,408.85 L201.80,408.74 L202.16,408.60 L202.55,408.45 L202.82,408.35 L203.30,408.18 L203.55,408.09 L204.05,407.90 L204.30,407.79 L204.70,407.60 L205.05,407.45 L205.30,407.35 L205.80,407.19 L206.19,407.10 L206.55,407.03 L207.05,406.95 L207.55,406.91 L208.05,406.89 L208.55,406.91 L209.05,406.97 L209.55,407.05 L209.80,407.11 L210.30,407.26 L210.55,407.37 L210.96,407.60 L211.26,407.85 L211.45,408.10 L211.58,408.35 L211.72,408.85 L211.80,409.35 L211.83,409.60 L211.90,410.10 L211.98,410.60 L212.05,410.99 L212.12,411.35 L212.20,411.85 L212.25,412.35 L212.29,412.85 L212.31,413.10 L212.34,413.60 L212.36,414.10 L212.39,414.60 L212.44,415.10 L212.50,415.60 L212.55,415.94 L212.61,416.35 L212.67,416.85 L212.72,417.35 L212.77,417.85 L212.80,418.15 L212.85,418.60 L212.93,419.10 L213.00,419.60 L213.05,419.86 L213.14,420.35 L213.25,420.85 L213.31,421.10 L213.43,421.60 L213.55,422.10 L213.62,422.35 L213.74,422.85 L213.80,423.10 L213.91,423.60 L213.99,424.10 L214.05,424.45 L214.12,424.85 L214.23,425.35 L214.30,425.73 L214.36,426.10 L214.41,426.60 L214.44,427.10 L214.47,427.60 L214.50,428.10 L214.49,428.60 L214.46,429.10 L214.42,429.60 L214.36,430.10 L214.30,430.41 L214.20,430.85 L214.06,431.35 L213.98,431.60 L213.80,432.02 L213.64,432.35 L213.50,432.60 L213.30,432.93 L213.05,433.33 L212.87,433.60 L212.70,433.85 L212.51,434.10 L212.30,434.36 L212.05,434.65 L211.80,434.92 L211.55,435.18 L211.30,435.40 L211.05,435.60 L210.70,435.85 L210.30,436.09 L210.05,436.23 L209.80,436.36 L209.32,436.60 L209.05,436.72 L208.73,436.85 L208.30,437.01 L208.04,437.10 L207.55,437.27 L207.30,437.35 L206.80,437.50 L206.40,437.60 L206.05,437.68 L205.55,437.77 L205.05,437.85 L204.80,437.88Z" fill="none" stroke="#b2b2b2" stroke-width="0.55"/>
<path d="M204.30,437.13 L203.80,437.16 L203.30,437.16 L202.80,437.16 L202.30,437.14 L201.80,437.11 L201.55,437.09 L201.05,437.05 L200.55,437.00 L200.05,436.94 L199.55,436.88 L199.30,436.84 L198.80,436.76 L198.30,436.67 L197.96,436.60 L197.55,436.51 L197.05,436.38 L196.80,436.31 L196.30,436.13 L196.05,436.05 L195.55,435.87 L195.30,435.78 L194.85,435.60 L194.55,435.47 L194.27,435.35 L193.80,435.13 L193.55,435.01 L193.21,434.85 L192.80,434.64 L192.55,434.52 L192.24,434.35 L191.82,434.10 L191.55,433.93 L191.30,433.74 L191.05,433.53 L190.80,433.29 L190.55,433.01 L190.30,432.64 L190.16,432.35 L190.05,431.95 L190.01,431.60 L189.99,431.10 L189.99,430.60 L190.01,430.10 L190.05,429.71 L190.10,429.35 L190.20,428.85 L190.30,428.45 L190.39,428.10 L190.55,427.60 L190.63,427.35 L190.80,426.92 L190.94,426.60 L191.05,426.34 L191.27,425.85 L191.38,425.60 L191.55,425.26 L191.77,424.85 L191.91,424.60 L192.06,424.35 L192.30,423.93 L192.49,423.60 L192.64,423.35 L192.80,423.09 L193.05,422.72 L193.30,422.37 L193.49,422.10 L193.68,421.85 L193.87,421.60 L194.06,421.35 L194.30,421.04 L194.55,420.72 L194.80,420.41 L195.05,420.10 L195.26,419.85 L195.46,419.60 L195.67,419.35 L195.87,419.10 L196.08,418.85 L196.30,418.58 L196.55,418.28 L196.80,417.97 L197.05,417.66 L197.29,417.35 L197.48,417.10 L197.65,416.85 L197.82,416.60 L198.05,416.25 L198.30,415.87 L198.48,415.60 L198.63,415.35 L198.80,415.07 L199.05,414.62 L199.20,414.35 L199.34,414.10 L199.55,413.71 L199.72,413.35 L199.84,413.10 L200.05,412.66 L200.20,412.35 L200.33,412.10 L200.55,411.66 L200.71,411.35 L200.85,411.10 L201.05,410.81 L201.30,410.56 L201.61,410.35 L202.05,410.13 L202.30,410.02 L202.67,409.85 L203.05,409.68 L203.30,409.58 L203.80,409.36 L204.05,409.24 L204.33,409.10 L204.80,408.85 L205.05,408.73 L205.32,408.60 L205.80,408.42 L206.05,408.34 L206.55,408.21 L207.05,408.12 L207.30,408.09 L207.80,408.05 L208.30,408.05 L208.80,408.10 L209.05,408.14 L209.55,408.24 L209.86,408.35 L210.30,408.60 L210.52,408.85 L210.64,409.10 L210.79,409.60 L210.84,409.85 L210.93,410.35 L211.03,410.85 L211.08,411.10 L211.19,411.60 L211.27,412.10 L211.30,412.38 L211.34,412.85 L211.38,413.35 L211.41,413.85 L211.44,414.35 L211.48,414.85 L211.52,415.35 L211.55,415.60 L211.62,416.10 L211.69,416.60 L211.74,417.10 L211.78,417.60 L211.80,417.87 L211.85,418.35 L211.91,418.85 L211.97,419.35 L212.05,419.83 L212.10,420.10 L212.19,420.60 L212.30,421.09 L212.36,421.35 L212.48,421.85 L212.55,422.11 L212.68,422.60 L212.80,423.08 L212.86,423.35 L212.96,423.85 L213.05,424.34 L213.10,424.60 L213.22,425.10 L213.30,425.48 L213.37,425.85 L213.44,426.35 L213.49,426.85 L213.53,427.35 L213.55,427.60 L213.58,428.10 L213.57,428.60 L213.55,429.05 L213.53,429.35 L213.48,429.85 L213.39,430.35 L213.30,430.73 L213.20,431.10 L213.05,431.50 L212.89,431.85 L212.76,432.10 L212.55,432.46 L212.32,432.85 L212.15,433.10 L211.98,433.35 L211.80,433.60 L211.55,433.91 L211.30,434.19 L211.05,434.46 L210.80,434.70 L210.55,434.91 L210.29,435.10 L209.91,435.35 L209.55,435.56 L209.30,435.69 L208.97,435.85 L208.55,436.04 L208.30,436.14 L207.80,436.32 L207.55,436.41 L207.05,436.57 L206.80,436.65 L206.30,436.79 L206.04,436.85 L205.55,436.95 L205.05,437.03 L204.55,437.10 L204.30,437.13Z" fill="none" stroke="#b0b0b0" stroke-width="0.55"/>
<path d="M204.05,436.36 L203.55,436.38 L203.05,436.38 L202.55,436.37 L202.17,436.35 L201.80,436.33 L201.30,436.29 L200.80,436.23 L200.30,436.17 L199.82,436.10 L199.55,436.06 L199.05,435.97 L198.55,435.87 L198.30,435.82 L197.80,435.70 L197.43,435.60 L197.05,435.48 L196.68,435.35 L196.30,435.20 L196.04,435.10 L195.55,434.91 L195.30,434.80 L194.86,434.60 L194.55,434.45 L194.30,434.32 L193.87,434.10 L193.55,433.93 L193.30,433.79 L192.97,433.60 L192.55,433.35 L192.30,433.19 L192.05,433.01 L191.80,432.81 L191.55,432.56 L191.30,432.23 L191.13,431.85 L191.05,431.45 L191.02,431.10 L191.01,430.60 L191.03,430.10 L191.05,429.85 L191.12,429.35 L191.23,428.85 L191.30,428.55 L191.42,428.10 L191.55,427.71 L191.68,427.35 L191.80,427.06 L192.00,426.60 L192.11,426.35 L192.30,425.93 L192.46,425.60 L192.60,425.35 L192.80,425.00 L193.03,424.60 L193.18,424.35 L193.33,424.10 L193.55,423.74 L193.80,423.36 L193.98,423.10 L194.17,422.85 L194.36,422.60 L194.55,422.35 L194.80,422.04 L195.05,421.73 L195.30,421.43 L195.55,421.13 L195.79,420.85 L196.01,420.60 L196.23,420.35 L196.45,420.10 L196.68,419.85 L196.90,419.60 L197.12,419.35 L197.35,419.10 L197.57,418.85 L197.80,418.60 L198.05,418.31 L198.30,418.02 L198.55,417.72 L198.80,417.40 L199.02,417.10 L199.20,416.85 L199.38,416.60 L199.56,416.35 L199.80,416.00 L200.05,415.60 L200.21,415.35 L200.35,415.10 L200.55,414.76 L200.77,414.35 L200.90,414.10 L201.05,413.77 L201.24,413.35 L201.36,413.10 L201.55,412.68 L201.71,412.35 L201.85,412.10 L202.05,411.82 L202.30,411.58 L202.63,411.35 L203.05,411.11 L203.30,410.98 L203.55,410.85 L204.03,410.60 L204.30,410.45 L204.55,410.30 L204.90,410.10 L205.30,409.87 L205.55,409.75 L205.90,409.60 L206.30,409.46 L206.71,409.35 L207.05,409.28 L207.55,409.22 L208.05,409.20 L208.55,409.23 L209.05,409.34 L209.30,409.45 L209.55,409.65 L209.80,410.10 L209.88,410.35 L210.01,410.85 L210.08,411.10 L210.20,411.60 L210.30,412.08 L210.34,412.35 L210.40,412.85 L210.45,413.35 L210.49,413.85 L210.52,414.35 L210.55,414.76 L210.57,415.10 L210.62,415.60 L210.69,416.10 L210.75,416.60 L210.80,417.08 L210.82,417.35 L210.86,417.85 L210.90,418.35 L210.95,418.85 L211.02,419.35 L211.05,419.60 L211.14,420.10 L211.23,420.60 L211.30,420.94 L211.39,421.35 L211.52,421.85 L211.58,422.10 L211.71,422.60 L211.80,422.93 L211.90,423.35 L212.00,423.85 L212.05,424.10 L212.16,424.60 L212.29,425.10 L212.35,425.35 L212.45,425.85 L212.52,426.35 L212.55,426.60 L212.61,427.10 L212.66,427.60 L212.69,428.10 L212.68,428.60 L212.66,429.10 L212.62,429.60 L212.55,430.03 L212.49,430.35 L212.35,430.85 L212.26,431.10 L212.05,431.58 L211.91,431.85 L211.76,432.10 L211.55,432.46 L211.30,432.84 L211.11,433.10 L210.91,433.35 L210.70,433.60 L210.47,433.85 L210.21,434.10 L209.92,434.35 L209.56,434.60 L209.30,434.76 L209.05,434.90 L208.67,435.10 L208.30,435.27 L208.05,435.38 L207.55,435.57 L207.30,435.66 L206.80,435.83 L206.55,435.91 L206.05,436.04 L205.80,436.10 L205.30,436.20 L204.80,436.28 L204.30,436.34 L204.05,436.36Z" fill="none" stroke="#aaaaaa" stroke-width="0.55"/>
<path d="M205.05,435.36 L204.55,435.44 L204.05,435.50 L203.55,435.52 L203.05,435.52 L202.55,435.51 L202.05,435.48 L201.55,435.44 L201.05,435.38 L200.80,435.35 L200.30,435.28 L199.80,435.19 L199.32,435.10 L199.05,435.04 L198.55,434.93 L198.25,434.85 L197.80,434.73 L197.41,434.60 L197.05,434.47 L196.76,434.35 L196.30,434.15 L196.05,434.04 L195.64,433.85 L195.30,433.68 L195.05,433.55 L194.69,433.35 L194.30,433.12 L194.05,432.97 L193.80,432.81 L193.47,432.60 L193.10,432.35 L192.80,432.13 L192.55,431.90 L192.33,431.60 L192.22,431.35 L192.12,430.85 L192.11,430.35 L192.15,429.85 L192.22,429.35 L192.30,428.99 L192.39,428.60 L192.54,428.10 L192.63,427.85 L192.80,427.40 L192.92,427.10 L193.05,426.80 L193.25,426.35 L193.38,426.10 L193.55,425.77 L193.79,425.35 L193.94,425.10 L194.09,424.85 L194.30,424.51 L194.55,424.12 L194.73,423.85 L194.92,423.60 L195.11,423.35 L195.31,423.10 L195.55,422.80 L195.80,422.50 L196.05,422.21 L196.30,421.93 L196.55,421.66 L196.80,421.39 L197.05,421.13 L197.30,420.87 L197.55,420.62 L197.80,420.38 L198.05,420.15 L198.30,419.92 L198.55,419.71 L198.80,419.51 L199.05,419.33 L199.43,419.10 L199.80,418.91 L200.05,418.79 L200.52,418.60 L200.80,418.48 L201.07,418.35 L201.53,418.10 L201.80,417.93 L202.05,417.74 L202.30,417.53 L202.55,417.28 L202.80,416.98 L203.05,416.61 L203.20,416.35 L203.33,416.10 L203.54,415.60 L203.63,415.35 L203.79,414.85 L203.86,414.60 L203.99,414.10 L204.06,413.85 L204.18,413.35 L204.30,412.88 L204.38,412.60 L204.55,412.22 L204.80,411.86 L205.05,411.60 L205.30,411.40 L205.55,411.22 L205.80,411.07 L206.27,410.85 L206.55,410.75 L207.05,410.62 L207.30,410.57 L207.80,410.55 L208.14,410.60 L208.55,410.83 L208.75,411.10 L208.87,411.35 L209.04,411.85 L209.11,412.10 L209.21,412.60 L209.28,413.10 L209.31,413.35 L209.37,413.85 L209.41,414.35 L209.45,414.85 L209.49,415.35 L209.55,415.84 L209.58,416.10 L209.65,416.60 L209.71,417.10 L209.75,417.60 L209.79,418.10 L209.81,418.35 L209.86,418.85 L209.92,419.35 L210.00,419.85 L210.05,420.15 L210.14,420.60 L210.25,421.10 L210.31,421.35 L210.44,421.85 L210.55,422.26 L210.64,422.60 L210.77,423.10 L210.83,423.35 L210.94,423.85 L211.05,424.30 L211.13,424.60 L211.26,425.10 L211.32,425.35 L211.43,425.85 L211.51,426.35 L211.55,426.62 L211.62,427.10 L211.67,427.60 L211.70,428.10 L211.70,428.60 L211.68,429.10 L211.63,429.60 L211.55,430.05 L211.48,430.35 L211.31,430.85 L211.20,431.10 L211.05,431.41 L210.80,431.85 L210.65,432.10 L210.49,432.35 L210.30,432.61 L210.05,432.93 L209.80,433.21 L209.55,433.45 L209.30,433.66 L209.05,433.85 L208.64,434.10 L208.30,434.29 L208.05,434.41 L207.61,434.60 L207.30,434.72 L206.95,434.85 L206.55,434.99 L206.20,435.10 L205.80,435.21 L205.30,435.32 L205.05,435.36Z" fill="none" stroke="#a2a2a2" stroke-width="0.55"/>
<path d="M204.30,434.60 L203.80,434.65 L203.30,434.67 L202.80,434.66 L202.30,434.63 L201.93,434.60 L201.55,434.56 L201.05,434.50 L200.55,434.42 L200.15,434.35 L199.80,434.28 L199.30,434.17 L199.03,434.10 L198.55,433.97 L198.15,433.85 L197.80,433.73 L197.45,433.60 L197.05,433.42 L196.80,433.30 L196.39,433.10 L196.05,432.92 L195.80,432.79 L195.47,432.60 L195.07,432.35 L194.80,432.17 L194.55,432.00 L194.30,431.82 L194.00,431.60 L193.70,431.35 L193.47,431.10 L193.30,430.81 L193.20,430.35 L193.22,429.85 L193.29,429.35 L193.34,429.10 L193.47,428.60 L193.55,428.33 L193.72,427.85 L193.82,427.60 L194.02,427.10 L194.13,426.85 L194.30,426.50 L194.51,426.10 L194.66,425.85 L194.81,425.60 L195.05,425.20 L195.27,424.85 L195.44,424.60 L195.62,424.35 L195.81,424.10 L196.05,423.81 L196.30,423.52 L196.55,423.25 L196.80,423.00 L197.05,422.76 L197.30,422.54 L197.55,422.35 L197.92,422.10 L198.30,421.89 L198.55,421.77 L198.99,421.60 L199.30,421.49 L199.71,421.35 L200.05,421.24 L200.49,421.10 L200.80,421.00 L201.28,420.85 L201.55,420.76 L202.01,420.60 L202.30,420.49 L202.64,420.35 L203.05,420.16 L203.30,420.04 L203.63,419.85 L204.02,419.60 L204.30,419.39 L204.55,419.18 L204.80,418.94 L205.05,418.66 L205.30,418.35 L205.47,418.10 L205.62,417.85 L205.80,417.49 L205.98,417.10 L206.07,416.85 L206.24,416.35 L206.32,416.10 L206.47,415.60 L206.55,415.31 L206.70,414.85 L206.80,414.55 L207.01,414.10 L207.21,413.85 L207.55,413.82 L207.69,414.10 L207.80,414.35 L207.90,414.85 L208.01,415.35 L208.06,415.60 L208.15,416.10 L208.26,416.60 L208.32,416.85 L208.39,417.35 L208.45,417.85 L208.52,418.35 L208.56,418.60 L208.64,419.10 L208.73,419.60 L208.80,419.92 L208.89,420.35 L209.02,420.85 L209.09,421.10 L209.23,421.60 L209.31,421.85 L209.46,422.35 L209.55,422.64 L209.68,423.10 L209.80,423.57 L209.87,423.85 L210.01,424.35 L210.09,424.60 L210.23,425.10 L210.30,425.35 L210.42,425.85 L210.51,426.35 L210.55,426.61 L210.63,427.10 L210.69,427.60 L210.72,428.10 L210.72,428.60 L210.70,429.10 L210.64,429.60 L210.55,430.03 L210.46,430.35 L210.30,430.73 L210.12,431.10 L209.99,431.35 L209.80,431.67 L209.55,432.04 L209.31,432.35 L209.09,432.60 L208.83,432.85 L208.55,433.08 L208.30,433.25 L208.05,433.40 L207.66,433.60 L207.30,433.77 L207.05,433.87 L206.55,434.06 L206.30,434.15 L205.80,434.31 L205.55,434.38 L205.05,434.48 L204.55,434.57 L204.30,434.60Z" fill="none" stroke="#9a9a9a" stroke-width="0.55"/>
<path d="M204.80,433.63 L204.30,433.71 L203.80,433.77 L203.30,433.79 L202.80,433.78 L202.30,433.74 L201.80,433.70 L201.30,433.63 L201.05,433.59 L200.55,433.50 L200.05,433.39 L199.80,433.33 L199.30,433.20 L198.96,433.10 L198.55,432.97 L198.22,432.85 L197.80,432.68 L197.55,432.57 L197.13,432.35 L196.80,432.16 L196.55,432.02 L196.28,431.85 L195.90,431.60 L195.56,431.35 L195.30,431.13 L195.05,430.89 L194.81,430.60 L194.66,430.35 L194.55,429.92 L194.53,429.60 L194.55,429.35 L194.63,428.85 L194.76,428.35 L194.84,428.10 L195.02,427.60 L195.13,427.35 L195.30,426.98 L195.51,426.60 L195.67,426.35 L195.83,426.10 L196.05,425.79 L196.30,425.48 L196.55,425.20 L196.80,424.96 L197.05,424.75 L197.30,424.55 L197.59,424.35 L197.99,424.10 L198.30,423.93 L198.55,423.79 L198.95,423.60 L199.30,423.45 L199.55,423.35 L200.05,423.16 L200.30,423.07 L200.80,422.91 L201.05,422.83 L201.55,422.69 L201.87,422.60 L202.30,422.48 L202.80,422.35 L203.05,422.28 L203.55,422.15 L203.80,422.08 L204.30,421.95 L204.68,421.85 L205.05,421.75 L205.55,421.63 L205.80,421.58 L206.30,421.51 L206.80,421.50 L207.30,421.59 L207.55,421.71 L207.80,421.92 L208.05,422.24 L208.25,422.60 L208.37,422.85 L208.55,423.31 L208.65,423.60 L208.80,424.03 L208.91,424.35 L209.05,424.75 L209.17,425.10 L209.30,425.56 L209.37,425.85 L209.48,426.35 L209.55,426.70 L209.62,427.10 L209.69,427.60 L209.72,428.10 L209.73,428.60 L209.70,429.10 L209.63,429.60 L209.55,429.90 L209.39,430.35 L209.27,430.60 L209.05,431.03 L208.85,431.35 L208.68,431.60 L208.48,431.85 L208.24,432.10 L207.94,432.35 L207.57,432.60 L207.30,432.75 L207.05,432.87 L206.55,433.09 L206.30,433.19 L205.86,433.35 L205.55,433.45 L205.05,433.58 L204.80,433.63Z" fill="none" stroke="#8e8e8e" stroke-width="0.55"/>
<path d="M203.55,432.85 L203.05,432.86 L202.80,432.85 L202.30,432.81 L201.80,432.75 L201.30,432.68 L200.91,432.60 L200.55,432.52 L200.05,432.39 L199.80,432.32 L199.30,432.16 L199.05,432.07 L198.55,431.86 L198.30,431.75 L198.01,431.60 L197.61,431.35 L197.30,431.10 L197.06,430.85 L196.89,430.60 L196.77,430.35 L196.66,429.85 L196.65,429.35 L196.70,428.85 L196.80,428.41 L196.90,428.10 L197.05,427.75 L197.27,427.35 L197.43,427.10 L197.62,426.85 L197.83,426.60 L198.07,426.35 L198.34,426.10 L198.65,425.85 L199.00,425.60 L199.30,425.41 L199.55,425.27 L199.87,425.10 L200.30,424.90 L200.55,424.80 L201.05,424.61 L201.30,424.53 L201.80,424.38 L202.05,424.31 L202.55,424.19 L203.02,424.10 L203.30,424.05 L203.80,423.97 L204.30,423.91 L204.80,423.88 L205.30,423.87 L205.80,423.90 L206.30,423.97 L206.79,424.10 L207.05,424.20 L207.30,424.35 L207.59,424.60 L207.80,424.87 L208.05,425.32 L208.16,425.60 L208.30,426.01 L208.39,426.35 L208.52,426.85 L208.57,427.10 L208.65,427.60 L208.69,428.10 L208.70,428.60 L208.66,429.10 L208.56,429.60 L208.47,429.85 L208.30,430.26 L208.13,430.60 L207.97,430.85 L207.80,431.10 L207.55,431.37 L207.29,431.60 L206.91,431.85 L206.55,432.04 L206.30,432.16 L205.84,432.35 L205.55,432.46 L205.10,432.60 L204.80,432.68 L204.30,432.77 L203.80,432.83 L203.55,432.85Z" fill="none" stroke="#858585" stroke-width="0.55"/>
<path d="M204.30,431.85 L203.80,431.92 L203.30,431.95 L202.80,431.94 L202.30,431.90 L201.95,431.85 L201.55,431.78 L201.05,431.67 L200.80,431.60 L200.30,431.43 L200.05,431.33 L199.61,431.10 L199.30,430.87 L199.06,430.60 L198.92,430.35 L198.80,429.91 L198.77,429.60 L198.79,429.10 L198.84,428.85 L199.02,428.35 L199.14,428.10 L199.30,427.85 L199.55,427.53 L199.80,427.26 L200.05,427.04 L200.30,426.85 L200.68,426.60 L201.05,426.40 L201.30,426.29 L201.77,426.10 L202.05,426.01 L202.55,425.87 L202.80,425.82 L203.30,425.73 L203.80,425.68 L204.30,425.67 L204.80,425.69 L205.30,425.76 L205.70,425.85 L206.05,425.96 L206.37,426.10 L206.79,426.35 L207.05,426.58 L207.26,426.85 L207.39,427.10 L207.55,427.53 L207.62,427.85 L207.68,428.35 L207.67,428.85 L207.58,429.35 L207.50,429.60 L207.30,430.06 L207.13,430.35 L206.93,430.60 L206.66,430.85 L206.30,431.10 L206.05,431.23 L205.80,431.35 L205.30,431.57 L205.05,431.66 L204.55,431.80 L204.30,431.85Z" fill="none" stroke="#7c7c7c" stroke-width="0.55"/>
<ellipse cx="182.7" cy="399.6" rx="19" ry="9.6" transform="rotate(42 182.7 399.6)" fill="none" stroke="#555" stroke-width="0.9"/>
<rect x="165.3" y="377.6" width="77.1" height="76.19999999999999" fill="none" stroke="#222" stroke-width="1.1"/>
<line x1="162.70" y1="385.50" x2="165.30" y2="385.50" stroke="#2a2a2a" stroke-width="1" />
<text x="159.50" y="388.00" font-size="7" text-anchor="end" fill="#1a1a1a">10<tspan font-size="5.04" dy="-3.2">5</tspan></text>
<line x1="162.70" y1="403.50" x2="165.30" y2="403.50" stroke="#2a2a2a" stroke-width="1" />
<text x="159.50" y="405.80" font-size="7" text-anchor="end" fill="#1a1a1a">10<tspan font-size="5.04" dy="-3.2">4</tspan></text>
<line x1="162.70" y1="424.50" x2="165.30" y2="424.50" stroke="#2a2a2a" stroke-width="1" />
<text x="159.50" y="426.70" font-size="7" text-anchor="end" fill="#1a1a1a">10<tspan font-size="5.04" dy="-3.2">3</tspan></text>
<line x1="162.70" y1="436.50" x2="165.30" y2="436.50" stroke="#2a2a2a" stroke-width="1" />
<text x="158.80" y="439.40" font-size="7" text-anchor="end" fill="#1a1a1a" >0</text>
<line x1="162.70" y1="449.50" x2="165.30" y2="449.50" stroke="#2a2a2a" stroke-width="1" />
<text x="159.50" y="452" font-size="7" text-anchor="end" fill="#1a1a1a">-10<tspan font-size="4.8" dy="-3">3</tspan></text>
<line x1="169.50" y1="453.80" x2="169.50" y2="457.30" stroke="#2a2a2a" stroke-width="1" />
<line x1="182.50" y1="453.80" x2="182.50" y2="457.30" stroke="#2a2a2a" stroke-width="1" />
<line x1="195.50" y1="453.80" x2="195.50" y2="457.30" stroke="#2a2a2a" stroke-width="1" />
<line x1="216.50" y1="453.80" x2="216.50" y2="457.30" stroke="#2a2a2a" stroke-width="1" />
<line x1="234.50" y1="453.80" x2="234.50" y2="457.30" stroke="#2a2a2a" stroke-width="1" />
<text x="170.30" y="467.8" font-size="7" text-anchor="middle" fill="#1a1a1a">-10<tspan font-size="4.8" dy="-3">3</tspan></text>
<text x="182.60" y="467.80" font-size="7" text-anchor="middle" fill="#1a1a1a" >0</text>
<text x="195.80" y="467.80" font-size="7" text-anchor="middle" fill="#1a1a1a">10<tspan font-size="5.04" dy="-3.2">3</tspan></text>
<text x="217.20" y="467.80" font-size="7" text-anchor="middle" fill="#1a1a1a">10<tspan font-size="5.04" dy="-3.2">4</tspan></text>
<text x="235.10" y="467.80" font-size="7" text-anchor="middle" fill="#1a1a1a">10<tspan font-size="5.04" dy="-3.2">5</tspan></text>
<rect x="0.5" y="0.5" width="519" height="494" fill="none" stroke="#000" stroke-width="1"/>
<line x1="0" y1="0.5" x2="520" y2="0.5" stroke="#4d4d4d" stroke-width="1"/>
<line x1="1.5" y1="1" x2="1.5" y2="494" stroke="#000" stroke-opacity="0.45" stroke-width="1"/>
<line x1="518.5" y1="1" x2="518.5" y2="494" stroke="#000" stroke-opacity="0.4" stroke-width="1"/>
<line x1="1" y1="493.5" x2="519" y2="493.5" stroke="#000" stroke-opacity="0.45" stroke-width="1"/>
<line x1="1" y1="1.5" x2="519" y2="1.5" stroke="#000" stroke-opacity="0.25" stroke-width="1"/>
</svg></body></html>
